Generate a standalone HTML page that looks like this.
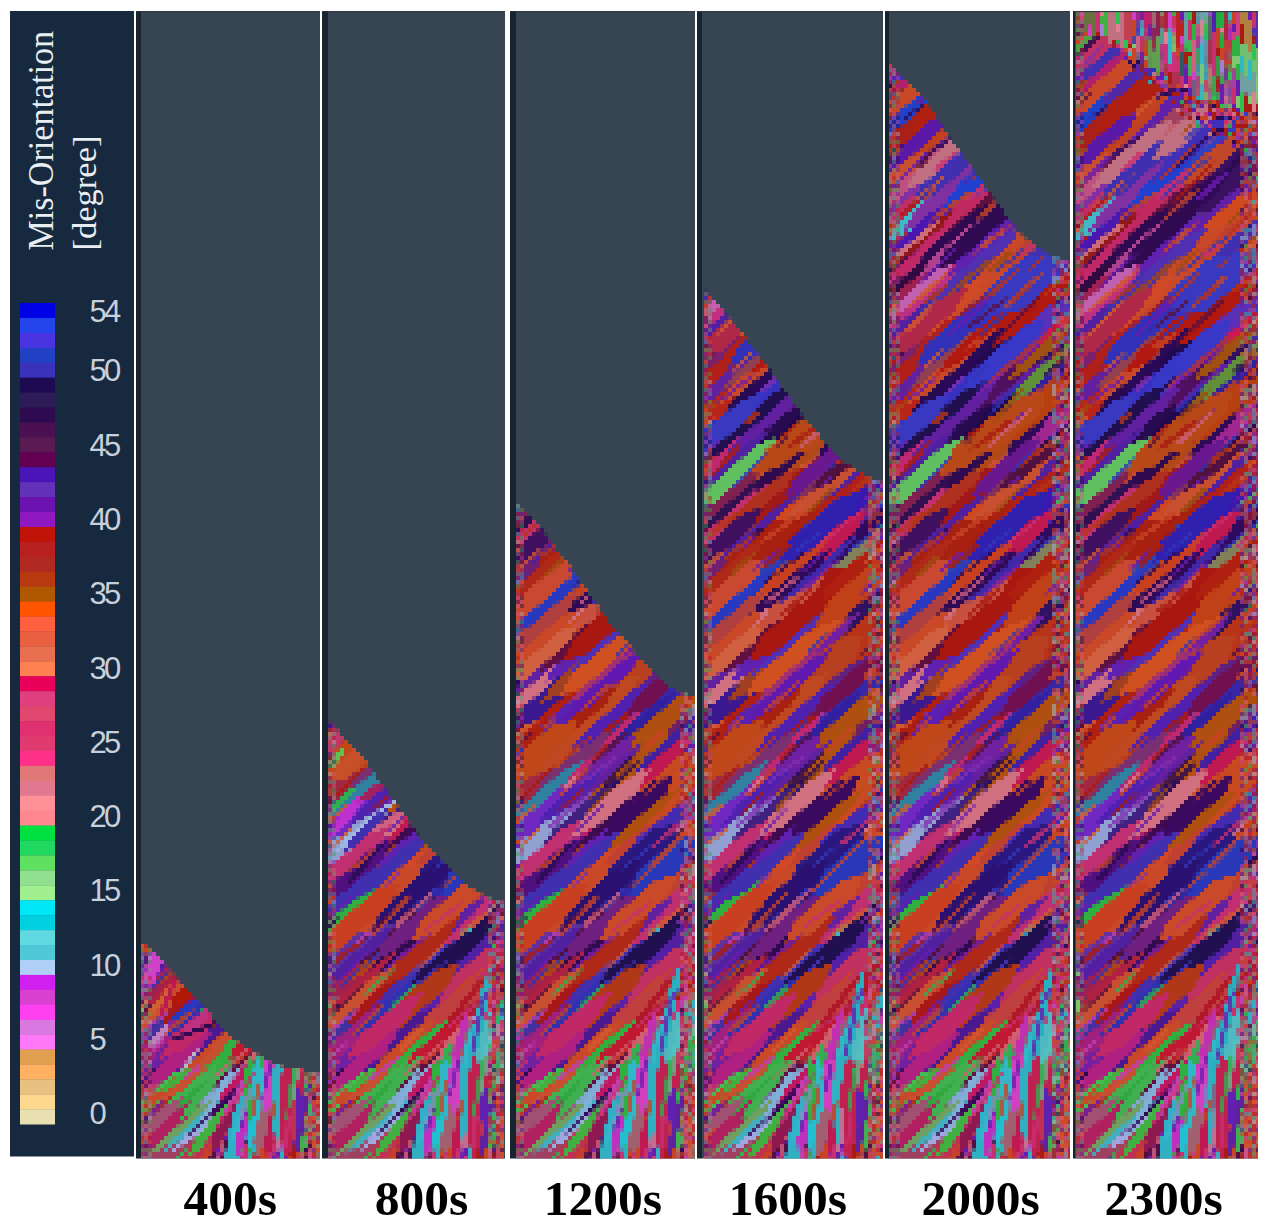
<!DOCTYPE html><html><head><meta charset="utf-8"><style>html,body{margin:0;padding:0;background:#fff;}body{width:1268px;height:1227px;overflow:hidden;position:relative;}.lbl{position:absolute;font-family:"Liberation Serif",serif;font-weight:bold;font-size:49.5px;color:#000;line-height:1;white-space:nowrap;}.tick{position:absolute;font-family:"Liberation Sans",sans-serif;font-size:31px;color:#c8d0dc;line-height:1;letter-spacing:-2.8px;}</style></head><body><svg width="1268" height="1227" viewBox="0 0 1268 1227" style="position:absolute;left:0;top:0"><defs><g id="tex"><rect x="0" y="11" width="185" height="1147.5" fill="#9a3050"/><path fill="#80c870" d="M-28,1032 -7,1017 14,999 31,980 10,994 -11,1013zM19,59 21,42 23,24 23,6 20,23 19,42zM19,25 21,20 22,7 21,3 19,7 18,20zM173,102 175,92 176,65 175,55 174,65 172,92z"/><path fill="#2a0a52" d="M133,690 156,671 181,647 201,625 178,644 153,667zM101,783 109,779 141,748 145,740 138,744 105,775zM-0,1035 8,1030 18,1020 22,1011 14,1016 4,1026zM72,409 83,407 92,399 97,389 87,392 77,400zM-41,268 -17,249 15,220 37,198 13,218 -19,246zM155,903 171,892 236,834 248,818 232,829 167,887zM44,840 65,829 93,808 110,791 89,802 61,823zM185,628 198,622 207,614 216,602 202,608 193,616zM-23,505 -9,498 57,440 66,427 51,434 -14,492zM-37,996 -26,989 9,954 15,944 5,951 -30,986zM156,763 169,754 232,702 242,690 229,698 166,751zM90,333 114,316 167,269 187,248 163,265 110,311zM122,957 138,946 156,928 166,911 149,922 132,940zM137,211 144,210 161,195 164,189 157,191 140,205zM-4,203 10,196 68,139 76,125 61,132 3,188zM-41,173 -31,171 -21,162 -18,153 -27,155 -37,164zM109,618 128,605 145,590 160,573 141,586 124,601zM22,941 32,938 54,918 59,909 49,912 27,932zM101,385 118,373 166,327 178,310 161,322 113,368zM50,888 64,881 114,838 124,826 110,833 60,876zM126,805 139,800 155,785 162,772 149,778 132,793zM100,281 109,278 131,263 136,254 126,257 105,272zM64,784 76,779 106,750 112,738 100,743 69,772zM147,558 159,554 172,543 179,532 167,537 154,547zM22,1062 33,1057 67,1027 74,1018 64,1023 29,1053zM149,554 179,533 208,507 232,480 202,501 173,527zM37,754 54,742 72,727 85,711 68,722 50,738zM18,1066 37,1052 87,1005 102,987 83,1001 33,1048zM106,722 122,711 138,698 150,683 134,694 119,707zM20,542 48,531 84,507 105,485 77,496 41,520zM90,473 114,456 141,434 163,413 139,431 111,453zM7,165 26,154 44,140 59,124 40,135 22,149zM2,759 26,743 66,712 87,693 64,709 23,740zM28,255 39,247 105,192 114,182 103,190 37,244zM-54,998 -37,990 -0,961 12,947 -5,955 -42,984zM77,587 95,576 144,533 158,517 140,528 90,571zM-48,1155 -22,1132 15,1096 38,1070 11,1092 -26,1128zM145,830 158,823 196,792 205,780 191,786 154,817zM-51,709 -36,698 2,653 10,637 -4,647 -43,693zM52,233 64,227 95,197 101,185 89,190 58,220zM7,733 20,727 68,679 75,666 62,672 13,720zM56,155 61,153 82,137 85,132 80,135 59,150zM-34,652 -22,648 -1,631 6,621 -6,625 -27,641zM-29,1144 -8,1129 25,1098 41,1078 19,1093 -13,1123zM9,272 33,257 77,224 99,206 75,221 30,254zM98,658 112,650 143,624 154,612 140,620 109,646zM50,761 73,745 119,706 139,686 116,702 69,741zM-49,1071 -25,1052 5,1024 26,1002 1,1021 -28,1048zM37,873 62,855 111,813 132,791 107,809 59,851zM25,168 37,164 59,145 65,135 54,139 31,157zM104,808 131,792 163,762 181,736 153,753 122,782zM137,418 159,404 182,384 198,364 176,377 153,398z"/><path fill="#3036b8" d="M47,499 58,494 131,435 138,424 127,430 54,489zM174,635 184,633 197,622 203,614 193,616 179,627zM11,602 22,599 38,587 44,577 32,579 16,591zM151,420 177,403 210,373 229,348 203,366 171,396zM12,940 30,928 76,891 91,877 74,889 28,926zM29,810 39,805 99,751 105,742 95,747 35,801zM139,927 169,905 206,875 235,851 204,873 167,902zM76,559 83,555 95,543 98,535 91,538 79,551zM-22,850 -11,845 24,813 30,803 19,808 -16,840zM-38,271 -27,264 35,216 44,207 33,214 -29,262zM117,714 137,700 164,674 179,653 158,668 132,694zM104,870 135,851 178,817 203,791 172,810 130,844zM47,466 56,462 103,417 108,408 98,411 51,457zM-14,443 0,436 46,397 55,385 41,392 -4,430zM74,516 94,505 115,488 131,470 110,481 89,498zM-90,243 -57,221 14,153 38,121 4,143 -67,211zM76,652 90,645 116,627 127,615 112,622 87,640zM176,541 185,539 204,526 209,518 200,520 181,533zM93,517 106,511 144,476 152,463 138,469 100,504zM-28,726 -9,714 11,697 26,681 7,693 -13,709zM60,636 88,615 112,594 135,568 107,589 84,610zM32,574 44,568 74,536 79,523 67,529 37,561zM156,313 166,311 186,295 191,286 181,288 161,304zM58,125 73,116 102,89 113,75 97,84 68,111zM-36,281 -23,275 18,237 25,224 12,230 -30,268zM49,715 65,705 136,648 149,634 132,644 62,701zM-11,402 1,393 37,356 45,343 33,352 -3,389zM93,517 106,513 127,502 138,492 124,496 103,507zM22,1177 39,1163 85,1116 98,1098 81,1112 35,1159zM-52,158 -39,151 8,101 14,88 1,95 -46,144zM128,823 147,809 178,779 194,761 175,776 143,805zM85,630 98,625 141,588 148,576 134,581 92,618zM43,745 54,739 65,730 74,721 63,727 52,736zM128,391 146,380 199,339 214,324 196,335 143,376zM62,235 78,224 142,160 154,144 138,156 74,220zM135,387 144,383 186,337 190,328 181,333 139,378z"/><path fill="#6a1cb0" d="M-53,1057 -33,1046 2,1023 19,1008 -1,1019 -35,1043zM181,25 184,22 184,3 182,0 179,3 179,22zM-42,78 -28,68 23,13 31,-2 17,7 -34,63zM144,257 159,249 178,233 188,219 174,228 155,244zM141,288 153,280 186,252 195,242 183,249 150,277zM-13,309 -5,308 15,294 19,287 11,288 -9,302zM164,794 177,787 196,769 204,757 190,763 171,781zM113,835 127,830 148,813 156,801 143,806 121,823zM197,1026 203,1014 210,971 208,957 202,969 195,1012zM-43,302 -19,286 29,247 49,226 25,242 -23,281zM173,119 175,107 175,90 174,78 172,89 172,107zM-50,720 -40,714 1,678 9,669 -1,675 -43,711zM107,82 110,75 110,53 108,46 106,52 106,75zM117,566 128,561 183,512 188,501 177,505 122,555zM143,839 161,827 224,772 238,755 220,768 157,823zM109,1169 113,1158 116,1111 115,1100 112,1111 108,1157zM118,664 129,656 177,611 185,601 175,608 126,654zM83,866 86,865 105,849 107,845 103,846 84,863zM-1,215 12,205 34,184 43,171 31,181 9,203zM68,251 75,250 104,226 106,219 100,220 70,245zM83,278 96,273 106,266 113,254 100,258 90,266zM2,995 26,976 75,933 97,911 73,930 24,973zM13,286 43,260 75,228 100,198 70,223 38,256zM176,1130 181,1115 189,1056 188,1040 183,1055 175,1115zM51,458 73,442 97,423 117,405 95,420 71,440zM-15,632 2,621 36,595 50,580 33,591 -1,617zM73,597 99,576 143,531 164,505 138,526 94,571zM86,786 136,755 179,718 216,673 166,704 124,741zM37,299 41,297 63,274 64,270 60,271 38,294zM17,582 31,573 43,562 51,548 37,556 25,568zM141,829 152,823 164,812 171,802 160,808 148,819zM25,1152 36,1146 76,1108 83,1097 71,1103 31,1140zM112,39 116,32 117,14 115,6 112,13 110,31zM-1,927 6,925 33,900 36,893 28,895 1,920zM-40,888 -26,879 7,846 17,833 3,842 -31,874zM-21,295 -8,291 20,265 26,254 14,258 -15,284zM66,519 81,509 110,479 120,464 105,474 76,504zM61,25 63,20 62,4 60,-1 58,4 59,20zM-11,892 -2,887 5,880 11,872 2,877 -5,884zM78,1148 84,1142 94,1115 93,1106 87,1112 77,1140zM132,731 146,722 159,706 166,690 152,699 138,715zM-29,811 -22,810 -2,791 0,784 -7,785 -27,804zM114,1218 123,1188 132,1151 137,1120 129,1150 120,1187zM-22,362 -3,348 23,323 37,304 17,317 -9,342zM-58,479 -33,464 -7,444 15,424 -10,439 -37,459zM47,349 52,347 77,325 79,320 74,322 49,344zM-47,428 -31,417 -14,402 -1,388 -17,399 -34,413zM-51,689 -36,678 27,618 40,604 25,616 -38,675zM-61,523 -29,496 -1,470 28,440 -5,467 -32,492zM-31,1032 -21,1025 -6,1012 1,1003 -8,1010 -23,1023zM5,274 19,266 83,215 94,203 80,211 16,262zM3,625 22,614 49,591 62,573 42,584 16,607zM177,940 184,935 200,919 205,912 198,917 182,932zM17,570 27,563 37,554 45,543 34,550 24,560zM45,184 65,170 109,126 124,106 104,121 59,164zM92,902 110,887 140,858 155,840 137,856 108,884zM149,982 156,979 173,960 176,954 170,957 152,976zM144,610 157,602 169,592 178,580 165,587 153,597zM3,580 41,553 87,514 120,480 81,507 35,546zM-58,697 -28,676 7,643 30,615 1,637 -35,670zM187,99 188,88 188,63 187,52 186,63 186,88zM9,1089 20,1085 32,1075 38,1065 27,1069 15,1079zM-32,1082 -6,1062 28,1032 51,1008 24,1028 -9,1058zM-38,974 -28,969 -18,960 -12,950 -22,955 -32,964zM-28,92 -12,83 33,49 46,35 29,44 -16,78zM99,951 118,939 152,907 165,889 146,900 111,932zM33,899 53,883 91,848 108,829 88,845 50,881zM97,838 108,832 141,801 148,791 137,797 104,828zM-45,886 -18,865 52,795 73,768 46,789 -24,859zM144,726 157,719 176,703 186,693 174,701 155,716zM148,514 162,506 212,465 221,452 207,459 158,501zM154,476 173,460 223,410 238,391 219,406 170,456zM114,712 125,706 152,680 159,670 149,676 121,702zM110,64 114,49 115,32 113,17 109,32 108,48zM-27,432 -12,424 14,398 21,384 7,391 -20,417zM136,314 166,294 206,261 232,235 202,255 162,288zM8,9 10,1 12,-7 12,-15 9,-7 8,0zM138,126 142,110 143,90 141,74 138,90 137,110zM-45,187 -21,171 1,149 18,126 -5,143 -27,164zM91,737 100,736 131,705 133,697 124,698 93,729zM73,692 81,689 117,657 122,650 114,653 77,684zM57,749 66,745 104,717 111,709 102,713 64,741zM111,1224 121,1198 138,1126 141,1098 132,1124 114,1197zM166,740 181,731 201,712 210,697 194,706 175,725zM125,352 142,340 192,288 204,270 186,282 136,334zM168,286 184,279 215,251 224,236 208,243 177,271zM9,982 30,966 69,923 83,900 62,916 23,960zM174,306 184,300 201,283 208,273 197,279 180,296zM-61,972 -46,965 12,924 23,911 7,917 -50,959zM123,1198 130,1182 143,1114 142,1096 136,1113 123,1180z"/><path fill="#a81a12" d="M-26,348 -5,338 32,307 45,288 24,298 -13,329zM123,195 144,187 162,171 173,151 153,160 134,176zM-20,385 -10,377 42,324 50,314 40,322 -12,375zM130,825 156,814 210,780 231,761 205,772 151,806zM10,203 40,187 73,164 99,142 69,158 36,181zM117,712 124,709 140,692 144,686 137,689 120,705zM-12,1131 3,1124 22,1107 32,1093 17,1101 -2,1117zM-11,102 7,88 41,56 55,38 37,51 3,84zM153,792 190,767 220,741 252,709 214,735 184,760zM160,853 166,849 193,821 197,815 191,819 164,847zM3,621 43,596 89,563 125,533 85,558 39,591zM-3,1115 6,1109 60,1053 65,1044 56,1050 2,1105zM63,622 80,611 133,566 147,551 130,562 77,607zM168,607 189,589 218,559 236,537 215,556 186,586zM148,1070 153,1057 171,1001 173,987 167,1000 150,1056zM-35,808 -24,801 -2,780 4,769 -6,776 -28,797zM85,487 112,475 158,445 179,424 152,436 106,467zM124,1109 128,1096 136,1044 136,1031 132,1044 124,1096zM134,213 143,212 163,197 167,188 157,189 138,204zM-53,401 -40,394 25,340 34,329 21,336 -43,390zM49,572 67,562 92,543 107,528 88,539 64,557zM152,717 177,697 221,658 243,636 218,655 174,694zM127,856 153,839 182,817 204,796 178,812 149,834zM179,117 180,105 178,74 176,63 175,74 176,106zM47,734 54,734 69,719 69,713 63,713 48,728zM13,887 39,870 64,848 84,824 57,841 33,863zM181,1045 191,1025 197,1000 199,978 190,998 183,1023zM96,771 105,764 134,737 140,728 131,734 102,761zM175,1127 179,1115 192,1061 194,1048 189,1061 176,1114zM2,696 18,686 32,671 42,654 25,664 11,679zM200,63 204,53 205,29 202,18 199,29 198,52zM-0,66 10,60 35,38 42,29 32,34 6,56zM61,1116 74,1108 105,1078 114,1065 101,1073 70,1103zM-43,1126 -31,1121 2,1092 8,1081 -3,1086 -37,1115zM-70,520 -41,500 -9,472 14,446 -15,465 -47,494zM-43,383 -25,374 20,339 33,324 15,332 -31,367zM199,1139 203,1130 209,1100 208,1090 204,1099 198,1129zM168,608 193,594 216,576 235,556 211,570 188,588zM167,866 176,861 204,832 209,823 200,828 172,857zM80,888 95,876 155,818 168,803 153,815 92,874zM-1,145 16,134 36,115 48,98 31,109 11,128zM28,160 56,143 94,111 114,86 87,102 49,135zM-8,1094 3,1088 11,1081 19,1071 8,1077 -0,1084zM-44,904 -32,904 5,875 9,864 -3,865 -40,894zM119,506 129,505 152,484 153,473 143,473 120,495zM124,72 126,65 127,26 125,18 123,26 122,65zM100,778 129,761 153,742 177,718 147,735 124,754zM-45,95 -39,93 -13,69 -9,64 -15,67 -42,90zM-36,182 -12,169 35,134 55,115 31,127 -17,163zM-38,786 -27,782 5,757 11,747 0,750 -32,776zM-8,349 6,339 73,277 84,264 70,274 3,336zM89,609 100,605 121,587 125,576 115,580 94,598zM129,890 150,875 205,823 221,802 200,817 145,870zM-26,450 -14,446 28,412 34,401 22,405 -20,439zM105,934 118,926 132,914 143,902 130,910 115,923zM34,151 59,133 105,95 127,73 102,91 56,130zM-18,882 10,862 37,840 62,816 34,835 6,858zM49,93 66,85 95,62 107,48 90,57 62,79zM101,447 125,431 157,401 175,379 151,395 119,425zM118,1006 139,990 169,962 186,941 165,958 135,986zM125,971 134,970 153,952 155,944 146,945 127,963zM-41,741 -23,733 19,701 32,686 14,694 -28,725zM68,954 77,952 119,924 125,917 116,919 73,947zM157,321 189,300 219,272 242,241 210,262 180,290zM58,1166 66,1159 75,1135 75,1125 67,1132 58,1156zM140,1156 149,1132 154,1107 156,1082 148,1106 143,1131zM109,26 112,23 112,7 109,5 106,7 106,23zM68,580 76,574 102,544 107,535 99,540 72,571z"/><path fill="#501040" d="M190,1069 196,1060 206,1021 205,1010 199,1019 189,1058zM176,1044 182,1027 186,1009 189,992 183,1008 179,1027zM150,1107 158,1079 166,1031 167,1003 159,1030 151,1078z"/><path fill="#c84424" d="M28,1205 50,1172 72,1136 90,1101 68,1134 46,1170zM27,428 48,414 82,384 99,366 78,380 44,409zM91,15 95,3 98,-19 97,-31 94,-19 91,3zM32,866 54,848 74,831 94,811 71,828 52,846zM79,1080 90,1074 106,1060 113,1050 102,1056 86,1070zM-37,400 -19,388 12,358 25,341 8,354 -24,383zM147,541 166,528 217,479 231,461 213,475 161,524zM132,825 154,813 188,784 201,763 180,775 146,804zM54,1062 68,1054 90,1034 99,1021 85,1029 63,1049zM32,142 51,132 82,107 96,91 77,101 46,126zM38,99 63,85 88,66 108,44 83,58 58,78zM-32,1187 -15,1178 19,1149 31,1133 13,1142 -20,1171zM111,520 127,508 192,450 206,435 190,447 125,505zM-23,1105 1,1089 33,1065 54,1047 31,1063 -1,1087zM50,13 51,5 51,-13 49,-21 47,-13 48,5zM-13,838 1,831 11,822 19,808 5,815 -6,824zM-54,618 -43,614 15,555 20,544 9,549 -50,607zM-1,1054 28,1035 54,1016 80,993 51,1012 25,1031zM149,1225 155,1205 172,1132 175,1111 169,1131 152,1204zM-37,1126 -11,1111 30,1077 49,1055 24,1070 -17,1104zM-11,257 6,244 28,224 42,208 25,220 2,241zM-47,330 -35,322 7,284 16,273 4,281 -38,319zM64,201 82,188 97,173 108,155 91,167 76,183zM79,683 101,667 148,623 166,601 143,617 96,662zM139,842 169,820 219,774 243,746 213,767 163,814zM-43,1102 -28,1094 5,1066 16,1053 1,1062 -31,1089zM38,459 69,442 118,407 144,383 113,400 64,435zM47,960 56,956 84,935 91,927 82,931 54,952zM-62,960 -38,943 1,908 19,886 -4,902 -43,938zM15,1215 34,1190 68,1134 82,1107 64,1132 29,1187zM34,440 54,426 72,409 87,389 67,404 50,421zM101,462 113,456 139,436 147,426 136,432 109,452zM26,553 39,546 74,518 84,506 70,513 36,541zM-8,768 12,749 31,729 49,707 28,727 10,746zM54,536 63,531 71,525 77,516 68,521 60,528zM-9,748 3,739 52,694 62,682 49,691 0,736zM125,512 152,490 175,467 195,438 168,460 146,484zM72,802 95,787 134,753 151,732 128,746 89,781zM21,889 39,880 94,831 105,814 87,823 32,872zM91,940 104,932 177,875 187,864 174,871 101,929zM133,466 146,457 183,424 194,413 181,422 144,455zM7,67 20,60 46,38 55,26 42,33 16,55zM34,717 62,694 99,660 125,634 97,658 60,691zM94,179 132,149 176,101 203,61 166,92 121,140zM-21,511 15,488 66,439 91,404 55,427 3,476zM7,791 28,784 77,746 90,728 69,735 20,773zM99,218 108,216 144,184 148,176 139,178 103,209zM6,568 11,567 33,547 35,542 30,544 8,563zM-13,278 -2,278 25,257 28,246 17,247 -10,267zM100,291 111,291 153,253 155,243 145,243 102,281zM201,135 204,117 205,92 203,75 200,92 199,117zM129,934 160,910 193,877 217,847 187,871 153,904zM161,547 186,531 213,508 233,486 208,501 181,524zM-16,675 -10,673 18,650 21,644 15,645 -14,669zM-5,925 29,897 66,862 95,829 61,857 24,893zM184,1090 187,1085 190,1060 188,1054 185,1059 182,1085zM79,464 96,457 129,431 140,417 123,424 90,450zM18,224 25,222 60,194 62,187 55,188 20,217zM34,1063 46,1054 59,1041 69,1029 56,1039 44,1051zM-9,302 19,287 51,265 75,245 47,260 16,281zM57,175 68,169 121,122 129,113 119,119 65,166zM18,44 21,34 21,6 19,-4 16,6 16,34zM153,1116 157,1100 160,1078 160,1061 155,1077 152,1099zM-47,968 -28,957 -15,946 -3,929 -21,939 -34,951zM12,413 40,392 83,354 106,328 78,349 35,387zM57,1006 72,997 136,939 147,926 133,935 68,993zM-57,904 -33,891 -13,876 6,856 -19,869 -39,884zM164,725 182,716 205,699 219,684 201,693 178,710zM76,616 88,610 153,542 159,530 147,537 82,604zM106,977 117,972 140,949 145,937 134,942 111,965zM-15,882 -8,882 21,856 22,848 15,849 -14,875zM16,1016 26,1012 63,985 70,977 60,981 23,1007zM-36,397 -13,382 32,343 49,322 27,337 -19,376zM-20,248 -10,252 18,227 15,218 6,214 -22,238zM-17,132 16,106 44,81 74,51 41,77 13,102zM-1,1124 16,1115 66,1079 80,1064 62,1073 12,1110zM125,408 142,398 187,363 201,349 184,359 139,394zM58,994 88,979 132,951 157,929 127,943 84,972zM75,403 95,393 142,356 157,339 136,349 90,386zM162,1217 167,1203 179,1140 180,1126 176,1140 164,1203zM9,677 18,674 42,651 46,643 38,646 13,669zM-28,71 -21,69 1,48 3,42 -3,44 -25,65zM152,384 165,377 189,357 199,345 186,353 161,373zM102,1172 110,1137 117,1062 116,1025 108,1061 101,1136zM-13,106 6,97 24,82 36,65 18,75 -0,90zM103,139 114,131 122,122 129,111 119,119 111,128zM-40,771 -22,757 -2,738 13,721 -4,735 -25,754zM-11,746 3,741 46,708 55,696 41,701 -2,734zM139,270 168,250 195,226 219,199 189,220 163,243zM113,1214 118,1203 141,1126 143,1114 138,1125 115,1202zM1,749 15,741 56,701 64,688 51,696 10,736zM38,327 54,313 75,288 88,271 72,285 50,310zM138,763 159,746 174,729 188,706 167,723 152,740z"/><path fill="#30b050" d="M149,1190 152,1186 158,1156 156,1150 152,1155 147,1185zM175,955 184,949 191,940 196,931 187,937 180,946zM87,1090 98,1081 126,1046 133,1033 122,1042 94,1077zM76,954 83,951 100,937 104,930 97,933 80,947zM-70,1072 -49,1061 11,1010 25,992 5,1003 -55,1054zM101,1057 123,1038 155,1004 173,981 151,1000 119,1034zM187,1192 195,1164 203,1128 208,1099 200,1127 192,1163zM80,1079 86,1079 104,1064 106,1059 100,1059 82,1073zM-3,1082 26,1064 60,1038 84,1014 55,1032 21,1058z"/><path fill="#c83070" d="M72,1056 81,1054 105,1036 108,1028 99,1029 76,1048zM127,105 131,101 133,91 131,85 127,90 125,100zM17,460 32,452 71,418 81,404 67,412 27,446zM-43,1118 -25,1103 -5,1082 8,1061 -11,1076 -30,1098zM-52,636 -31,620 23,574 42,556 21,572 -33,618zM123,601 132,597 147,586 153,578 144,582 129,594zM39,910 51,906 105,864 113,854 101,859 47,900zM163,118 165,114 165,81 163,76 160,81 160,114zM40,1000 48,1000 65,988 68,981 61,981 43,994zM-7,816 11,804 27,788 38,770 20,782 4,798zM104,1095 109,1089 117,1073 118,1065 112,1071 105,1086zM182,1069 189,1045 198,999 201,974 195,999 186,1044zM188,1073 193,1053 207,981 209,960 203,980 190,1052zM107,78 109,73 110,52 109,46 107,51 107,73zM166,1143 176,1116 195,1055 202,1027 191,1054 173,1115zM88,0 89,-3 90,-14 89,-18 88,-14 87,-4zM133,1176 139,1159 146,1129 148,1111 141,1128 134,1158zM142,1179 145,1175 152,1151 151,1147 148,1150 141,1174zM132,346 147,339 180,315 191,302 175,309 143,333zM56,17 58,11 57,2 54,-3 53,3 53,11zM184,1127 186,1119 196,1062 196,1053 194,1061 184,1119zM105,486 113,481 154,438 158,430 151,434 109,478zM-6,1164 22,1145 108,1067 131,1041 103,1061 16,1138zM185,1011 191,1000 196,983 196,971 190,981 185,999zM169,1068 174,1055 181,1022 182,1008 177,1021 170,1054zM46,1076 62,1065 113,1018 125,1003 109,1014 58,1061zM-31,1186 -13,1172 12,1150 27,1133 9,1147 -16,1169zM15,889 37,876 70,849 87,831 66,845 33,871zM140,18 141,2 140,-17 138,-33 136,-17 137,2zM110,628 126,620 159,594 170,580 154,588 121,614zM113,389 130,379 190,323 201,307 185,317 124,373zM23,949 46,932 70,910 89,889 66,906 42,928zM173,1024 184,1010 195,967 193,949 182,964 171,1006zM179,1204 186,1180 190,1149 191,1125 184,1148 179,1179zM58,997 71,989 87,976 96,965 84,973 68,986zM14,1015 27,1008 65,970 71,957 59,964 21,1003zM185,1204 191,1183 201,1122 201,1101 195,1121 185,1182zM50,325 67,312 82,300 97,285 80,297 65,310zM146,116 147,107 147,72 146,63 145,72 145,107zM153,64 155,51 156,36 156,22 154,35 153,51zM14,417 26,410 36,401 44,390 31,396 21,405zM25,537 54,517 79,496 105,472 76,492 51,513z"/><path fill="#a0a8e0" d="M-15,1125 4,1112 64,1060 81,1043 62,1057 2,1109zM97,988 116,978 165,938 177,922 158,931 110,971zM55,953 62,949 90,924 95,917 87,921 60,946zM83,1044 109,1032 136,1016 159,999 133,1011 106,1027z"/><path fill="#b83418" d="M51,916 67,906 110,867 120,852 105,862 62,901zM76,435 97,421 123,401 141,385 121,398 95,418zM79,332 92,329 143,283 147,271 133,273 83,319zM170,418 187,405 222,371 236,354 219,367 184,401zM149,946 176,931 199,914 221,893 194,907 171,924zM119,638 137,630 180,583 187,565 169,573 126,620zM79,208 108,186 141,158 167,133 138,155 106,183zM62,458 71,455 85,442 90,435 82,438 67,451zM20,152 29,148 42,134 46,126 38,130 25,144zM55,732 69,723 136,662 146,649 133,658 65,719zM137,497 144,497 160,483 161,476 155,476 139,491zM-17,816 -5,807 46,751 55,739 43,749 -8,804zM73,134 94,119 121,96 139,78 118,93 91,115zM-13,317 -3,313 11,302 17,294 7,297 -7,308zM123,760 130,761 162,736 163,729 156,729 124,753zM15,925 39,903 66,872 84,845 60,867 33,898zM-39,253 -26,245 30,189 38,177 26,185 -30,241zM139,332 152,325 213,274 222,262 209,269 148,320zM55,393 74,381 101,359 117,343 98,356 71,377zM-7,215 8,203 29,181 40,166 25,178 5,200zM46,494 54,491 65,480 67,472 59,474 48,486zM21,696 31,694 60,668 63,659 53,661 25,687z"/><path fill="#d25a30" d="M93,502 105,497 164,453 172,442 159,447 101,492zM90,395 103,388 135,358 143,345 130,352 97,382zM182,860 194,854 204,847 214,837 202,843 192,851zM70,217 83,210 100,196 109,184 96,191 79,206zM-25,1030 -17,1027 9,1006 14,998 5,1001 -21,1022zM166,257 189,239 211,219 231,198 208,216 187,236zM155,561 170,553 231,510 243,499 228,507 168,549zM52,490 66,481 105,449 116,436 102,445 63,477zM-63,559 -49,551 4,500 12,486 -2,494 -55,544zM113,891 137,871 179,827 199,802 175,823 133,867zM-45,797 -31,791 -19,781 -10,768 -25,775 -36,784zM-15,174 -1,166 10,158 20,146 7,154 -4,163zM113,829 145,805 173,780 200,752 169,775 140,800zM83,757 95,752 130,724 137,712 124,717 90,745zM4,191 18,183 60,152 72,140 57,149 16,180zM10,605 32,588 61,557 77,534 55,551 26,582zM162,821 177,816 195,803 205,790 190,796 172,808zM60,214 72,205 84,192 93,180 81,190 69,202zM-28,696 -17,690 0,674 8,664 -3,670 -21,686zM34,668 45,665 89,630 94,620 84,623 40,658zM-21,989 -11,986 -1,977 2,967 -8,970 -18,979zM-1,1187 14,1179 37,1161 47,1147 32,1155 10,1174zM9,589 16,585 42,564 47,558 40,561 14,583zM-8,211 2,206 49,165 55,155 44,160 -2,201zM-50,249 -38,245 1,216 8,205 -5,209 -43,239zM32,658 40,657 55,643 57,635 49,636 34,649zM-40,249 -33,249 -14,232 -14,225 -21,225 -40,242zM-62,882 -37,863 1,829 24,807 -1,827 -39,860zM126,361 142,352 159,336 170,320 154,330 137,346zM34,1081 47,1073 73,1049 82,1037 69,1045 43,1068zM162,463 180,453 212,423 223,406 205,416 174,446zM180,266 192,259 213,239 221,229 210,236 189,256zM95,966 100,964 124,944 126,939 122,941 98,962zM-26,960 -12,952 1,939 8,924 -6,932 -19,945zM135,749 158,731 207,680 224,657 201,674 152,725zM-14,407 -2,405 28,381 33,371 22,373 -9,397z"/><path fill="#30b0c0" d="M94,1232 100,1221 117,1139 117,1127 111,1138 93,1220zM-34,1012 -21,1002 10,972 20,960 7,970 -24,1000zM174,1157 182,1132 195,1081 199,1054 190,1080 178,1131zM29,1059 47,1050 67,1029 74,1010 56,1018 36,1040zM174,1180 178,1170 184,1138 185,1127 181,1138 174,1169zM118,971 133,963 151,949 162,936 147,944 130,958zM162,1116 168,1096 175,1049 176,1028 170,1048 162,1095z"/><path fill="#8030b0" d="M46,533 53,531 72,509 74,502 67,504 47,526zM103,566 115,558 160,518 169,508 157,515 112,555zM-25,483 -9,473 4,461 14,446 -2,456 -14,467zM-33,911 -6,893 21,871 43,848 16,866 -10,888zM45,146 51,145 74,125 75,120 70,121 47,141zM-8,636 17,618 52,588 73,567 49,584 13,614zM137,487 161,464 191,429 211,401 187,425 157,460zM78,266 105,249 127,231 149,209 122,225 100,243zM40,601 54,595 67,586 75,573 62,579 49,589zM-38,939 -29,937 16,904 20,895 10,897 -34,930zM138,825 154,819 189,795 201,782 185,788 150,813zM-28,252 -23,250 -5,228 -4,222 -10,224 -27,247zM-56,301 -25,280 7,254 33,229 3,249 -29,275zM161,915 170,913 216,875 220,866 211,868 165,906zM73,560 94,544 116,524 135,505 113,521 92,540zM-35,791 -7,773 42,734 66,710 37,728 -12,767zM-36,740 -17,725 3,708 20,690 0,704 -20,722zM170,452 177,450 196,431 199,424 192,427 173,445z"/><path fill="#40b060" d="M133,805 148,798 159,789 167,775 152,782 142,791zM-21,567 -12,562 30,527 36,519 27,524 -15,559zM-9,259 3,252 17,240 26,228 13,236 -0,248zM98,445 110,438 159,398 168,389 157,395 107,435zM74,401 92,394 136,363 148,348 130,355 87,387z"/><path fill="#a04a10" d="M-52,854 -32,844 36,798 52,783 32,792 -36,838zM-36,819 -26,816 32,776 38,768 28,771 -29,811zM171,920 182,917 203,902 209,892 198,895 177,910zM6,791 15,788 36,771 40,762 31,765 10,782zM-48,464 -26,454 3,426 14,404 -8,415 -37,443zM159,641 171,633 197,608 205,596 192,604 167,628zM138,523 154,514 216,455 226,439 210,448 148,508zM-48,102 -34,94 34,41 45,29 31,37 -37,90zM-13,357 -4,353 13,338 18,329 9,333 -8,348zM28,751 36,745 76,709 82,701 74,706 34,743zM98,280 118,263 146,237 164,218 144,235 116,261zM118,276 149,254 180,224 206,195 175,218 143,247zM-71,664 -38,644 -11,624 16,597 -17,616 -43,637z"/><path fill="#30c050" d="M129,49 131,40 130,16 128,7 126,16 127,41zM48,27 49,23 50,4 49,0 47,4 46,23zM32,52 34,47 34,32 32,28 31,32 30,47zM197,95 200,93 200,83 197,80 195,83 195,93zM-9,5 -7,3 -6,-11 -9,-13 -11,-11 -12,3z"/><path fill="#c040b0" d="M78,1146 84,1138 90,1123 91,1113 85,1121 79,1136zM185,1030 194,1010 199,982 200,960 192,981 186,1008zM160,1089 167,1066 176,1017 177,993 170,1016 161,1065zM191,1210 195,1192 198,1169 198,1151 194,1169 191,1192zM103,1099 107,1095 122,1068 123,1062 119,1067 104,1093zM123,1130 127,1121 139,1065 139,1054 135,1064 123,1120zM173,1132 176,1121 192,1041 193,1030 190,1041 174,1121z"/><path fill="#5a1040" d="M24,172 40,164 54,152 65,138 50,147 35,159zM8,1099 42,1081 75,1058 105,1032 71,1051 37,1074zM-26,433 -2,413 44,371 66,348 42,367 -5,410zM45,883 70,863 148,788 169,764 144,783 65,859zM-3,508 19,494 64,462 84,445 62,459 18,492zM22,420 29,420 45,408 48,402 41,402 25,414zM74,231 89,223 115,201 126,188 111,196 84,218zM9,954 23,947 52,920 62,908 48,915 18,941zM106,679 114,675 161,629 165,622 158,626 111,672zM8,1074 27,1061 68,1028 85,1012 66,1025 25,1058zM75,718 87,712 97,704 105,693 93,699 83,707z"/><path fill="#40b0c0" d="M66,583 72,583 93,562 93,556 87,556 66,577zM43,944 56,936 84,910 93,899 81,906 52,932zM-21,936 -7,928 33,890 42,876 28,884 -13,922zM61,627 104,596 141,564 177,525 134,556 97,588z"/><path fill="#30b8c8" d="M4,50 7,33 6,11 3,-7 0,11 1,33zM56,74 60,56 62,36 61,17 56,35 54,55zM133,69 134,56 132,35 129,22 128,36 130,56zM-27,52 -24,42 -23,8 -25,-2 -28,8 -29,42z"/><path fill="#d06070" d="M167,1121 180,1090 191,1050 197,1016 184,1048 173,1088zM138,1181 144,1168 163,1072 162,1058 155,1071 136,1167zM109,1182 118,1160 128,1121 130,1098 121,1120 112,1158zM13,1067 39,1048 71,1017 91,993 66,1011 33,1042z"/><path fill="#a080d0" d="M105,5 107,-1 108,-14 107,-20 106,-14 104,-1z"/><path fill="#d06080" d="M105,465 117,459 163,411 169,399 157,406 111,453zM154,543 166,535 199,507 209,496 196,504 163,532zM140,599 154,592 216,538 225,526 211,533 149,586zM137,756 154,747 183,720 193,705 177,714 148,741zM89,712 119,689 153,659 179,633 149,656 116,685zM-51,361 -42,358 -7,325 -4,316 -13,319 -48,352zM105,297 113,295 154,260 158,252 150,255 109,289z"/><path fill="#e08090" d="M86,99 88,91 87,49 85,42 82,50 83,91zM105,638 116,635 146,613 152,603 140,606 111,628zM40,556 65,543 111,507 131,487 106,500 60,536z"/><path fill="#d040c8" d="M129,62 132,58 134,47 132,42 129,46 127,58z"/><path fill="#8090c0" d="M191,1073 197,1057 205,1026 208,1009 202,1025 193,1056z"/><path fill="#c040b0" d="M-66,1026 -47,1021 10,976 20,958 0,963 -57,1008zM27,1099 44,1093 86,1066 98,1052 81,1058 39,1085zM163,1178 172,1142 177,1106 179,1069 170,1105 165,1141zM25,1035 31,1034 53,1016 55,1010 49,1011 27,1029zM154,1114 161,1085 165,1057 166,1026 159,1056 155,1084zM159,1123 165,1111 175,1060 175,1046 169,1059 159,1110zM44,1152 56,1139 76,1115 86,1101 73,1113 54,1137zM140,1180 145,1173 157,1134 157,1125 151,1132 140,1171zM138,1169 145,1155 155,1111 155,1096 148,1109 138,1154zM113,1062 128,1040 147,1008 160,985 145,1007 126,1038zM85,1118 94,1109 124,1058 128,1047 120,1056 90,1106zM83,1014 130,982 168,950 205,907 158,939 121,971zM166,1056 173,1022 177,982 178,947 171,982 166,1021z"/><path fill="#a81a12" d="M20,878 34,872 68,845 76,832 62,838 29,865zM12,1078 27,1070 79,1030 90,1017 75,1025 23,1065zM104,58 107,52 108,35 106,28 103,35 102,51zM133,458 147,450 171,429 181,416 167,424 143,445zM164,662 177,652 217,609 227,596 214,606 174,649zM-22,260 -2,251 52,214 68,199 49,209 -6,246zM-43,956 -23,945 40,902 57,887 37,897 -26,941zM23,782 54,763 78,744 104,718 73,737 48,756zM161,458 180,442 227,397 243,379 223,394 177,439zM117,1162 121,1153 134,1110 135,1100 131,1109 119,1153zM24,303 32,300 46,289 50,283 43,286 29,297zM93,700 112,686 141,656 154,637 136,651 107,681zM6,948 18,943 44,916 50,903 37,909 11,936zM160,127 161,117 161,89 160,78 159,89 158,117zM152,150 167,143 205,112 214,98 199,105 161,136zM-4,957 31,936 61,913 91,884 56,906 26,929zM159,192 175,182 215,144 226,129 210,139 170,176zM40,1070 66,1053 103,1024 126,1003 100,1021 63,1050zM-56,1157 -37,1145 -14,1124 1,1107 -18,1119 -42,1140zM159,1006 172,987 207,930 218,910 204,929 169,985zM-48,768 -20,747 5,723 29,696 -0,718 -25,741zM-16,787 -1,780 67,730 77,717 62,723 -6,774zM-5,581 3,578 35,551 39,544 32,547 -0,574zM-27,809 -22,809 -4,790 -4,785 -9,785 -27,804zM89,403 104,395 118,385 129,372 114,380 101,391zM180,975 193,962 213,936 223,921 210,933 190,960zM169,699 192,689 211,671 223,650 200,659 180,677zM116,453 124,450 160,423 164,416 156,418 120,446zM101,169 113,163 127,151 135,139 123,146 109,158zM81,1102 90,1093 99,1080 105,1069 97,1078 87,1091zM30,134 44,128 54,118 61,105 47,111 37,121zM116,1106 120,1097 127,1058 127,1048 123,1058 116,1096zM66,935 81,922 117,886 130,871 115,883 78,920zM-47,630 -15,609 26,577 55,551 22,572 -18,604zM58,910 71,902 87,891 98,881 85,888 69,900zM145,661 158,662 199,628 201,615 188,614 147,648zM24,325 42,312 103,255 118,238 100,250 38,308zM176,145 181,143 206,125 210,120 204,122 179,141zM5,1124 15,1120 28,1107 33,1098 23,1101 10,1114zM28,1226 40,1202 64,1149 74,1124 62,1148 38,1201zM121,174 131,166 168,129 175,119 165,126 128,163zM64,754 87,741 135,703 152,683 129,695 81,734zM-31,645 -10,634 9,621 25,604 4,614 -15,627zM-2,576 10,568 29,548 38,536 26,545 7,565zM80,741 113,720 141,696 168,666 135,688 107,712zM65,1206 70,1185 75,1161 77,1140 72,1161 67,1185zM93,550 101,546 117,532 122,524 113,528 98,542zM33,600 47,592 70,570 78,556 64,564 41,586zM127,249 157,228 189,198 212,170 183,191 150,221zM62,860 69,858 87,844 90,837 83,839 65,853zM203,66 205,61 205,28 203,23 201,28 200,61zM105,151 114,148 126,137 130,128 121,131 108,142zM88,21 89,17 90,8 89,4 87,8 87,17zM159,1052 165,1035 172,1010 174,992 168,1009 162,1035zM28,378 40,372 76,334 82,323 71,329 34,366zM61,393 112,354 153,317 195,269 144,308 104,345zM48,571 76,546 113,512 140,485 111,509 74,544zM8,978 32,965 87,921 105,902 82,915 26,958zM194,1158 198,1150 206,1116 207,1107 204,1115 195,1149zM-35,379 -19,371 43,326 56,313 40,321 -22,366zM-1,303 6,303 24,292 27,286 20,287 3,298zM62,329 90,310 121,281 143,255 115,274 84,303zM152,437 160,436 177,425 180,417 171,417 155,429zM100,862 112,857 123,848 131,838 118,843 108,851zM56,636 71,625 115,586 127,571 112,583 69,622zM140,591 155,590 174,574 178,559 163,560 144,576zM-9,429 17,417 69,383 90,365 65,377 13,411zM-18,1051 -5,1048 68,984 73,971 60,975 -13,1038zM-19,22 -17,5 -17,-15 -20,-31 -22,-15 -21,5zM21,279 33,272 48,260 57,250 46,257 30,269zM26,973 41,963 99,915 111,901 96,911 38,959zM12,1069 19,1067 42,1044 44,1037 38,1040 15,1063zM-52,182 -18,156 9,130 38,98 4,124 -24,150zM-15,401 -10,400 13,382 15,377 10,378 -13,396zM-91,201 -53,181 19,129 48,99 11,118 -61,171zM186,68 188,64 188,47 186,43 184,47 184,64zM-0,1 1,-3 2,-12 1,-16 -0,-12 -1,-3zM15,207 28,203 52,184 59,173 47,178 23,196zM40,20 41,15 44,-21 43,-26 41,-21 39,15zM138,1205 144,1197 155,1147 153,1136 147,1145 135,1195zM20,117 37,109 50,98 60,82 43,90 30,102z"/><path fill="#2a0a52" d="M63,506 93,484 132,447 156,419 126,441 87,477zM40,693 49,686 71,665 78,656 69,663 47,684zM38,605 51,597 79,574 90,563 77,571 49,593zM37,888 45,884 79,855 84,848 76,852 42,881zM111,127 127,123 155,106 165,94 150,97 121,115zM61,895 78,884 93,871 105,854 87,864 72,878zM69,228 90,213 117,183 130,160 110,176 83,206zM162,430 180,420 225,380 237,363 219,373 174,413zM-8,275 3,268 27,241 34,229 23,237 -1,264zM76,936 93,930 184,852 192,837 176,843 85,920zM-6,234 10,223 30,199 40,182 24,194 3,217zM53,930 72,917 117,876 133,858 114,872 69,913zM-56,1211 -39,1200 12,1160 26,1145 9,1156 -42,1197zM1,556 27,541 69,506 88,483 62,498 20,534zM20,1105 32,1100 40,1093 45,1082 34,1087 26,1094zM127,856 142,848 160,835 173,823 158,831 140,845zM113,304 126,296 143,280 152,268 139,276 122,292zM71,875 103,848 134,819 163,787 130,815 100,844zM177,663 191,661 224,632 228,619 214,621 181,650zM129,641 142,635 175,608 183,596 170,602 137,630zM12,1204 25,1194 36,1184 47,1172 34,1182 23,1192zM84,985 103,976 210,873 220,855 201,864 94,967zM38,418 50,414 66,399 71,387 60,392 43,407zM21,266 45,250 78,223 97,202 74,218 41,246zM160,878 178,867 208,840 220,823 203,834 172,862zM-14,822 5,812 20,799 33,782 14,792 -1,805zM-47,1132 -31,1121 27,1069 40,1055 24,1066 -33,1118zM138,704 147,699 156,692 161,684 152,688 144,696zM16,1159 36,1152 80,1119 93,1103 74,1110 29,1143zM6,205 17,203 80,154 85,144 74,146 11,195zM80,507 99,499 141,460 149,441 130,449 88,488zM47,665 60,660 105,620 111,608 98,612 53,653zM119,134 131,127 166,96 174,85 162,92 127,123zM27,904 43,894 103,843 116,829 100,839 40,889zM-33,477 -23,471 18,435 25,426 15,432 -26,468zM40,857 54,847 75,826 84,811 70,821 50,842zM-27,139 -16,132 -6,123 3,113 -8,120 -18,129zM-57,1185 -37,1174 28,1127 45,1111 25,1123 -40,1170zM132,363 138,363 160,345 161,339 154,339 133,357zM90,745 112,727 138,701 156,678 133,696 107,722zM-18,61 -11,57 -0,48 5,41 -3,45 -13,54zM33,316 43,313 101,267 106,258 96,260 38,306zM48,740 55,737 69,726 74,719 67,723 53,734zM7,610 27,596 52,573 68,554 48,569 23,592zM71,497 101,470 135,436 162,405 132,432 97,467zM-7,525 -1,524 21,502 23,495 16,497 -6,518zM122,955 144,943 205,900 223,882 201,894 140,937zM147,767 163,758 192,733 203,718 186,727 158,752z"/><path fill="#c84424" d="M21,659 35,651 70,623 81,613 68,621 33,648zM112,550 128,539 148,515 157,498 142,509 121,533zM9,103 20,97 51,69 58,58 46,64 16,93zM71,783 81,781 129,745 133,735 123,737 75,774zM7,427 22,419 42,404 53,391 38,399 18,415zM183,1108 191,1094 195,1064 191,1049 183,1062 179,1093zM81,22 83,15 83,8 81,1 79,7 79,15zM94,811 109,799 129,780 140,766 126,777 106,797zM104,528 117,521 127,511 136,500 124,507 113,517zM96,511 118,499 140,480 157,462 136,474 113,493zM186,591 193,590 209,576 210,569 203,570 187,584zM32,1032 64,1009 101,981 131,956 99,979 62,1007zM185,1170 190,1161 194,1144 194,1135 190,1143 185,1160zM-10,726 8,719 66,682 80,668 62,675 4,712zM-4,1195 5,1193 16,1182 19,1174 11,1176 -1,1186zM138,558 159,548 214,504 230,487 209,497 153,540zM-9,469 18,452 54,427 78,407 51,423 16,449zM24,328 31,325 43,314 47,308 40,311 28,322zM-37,994 -21,985 -5,973 8,960 -9,969 -24,980zM88,1163 93,1154 97,1135 96,1125 91,1134 88,1153zM35,348 56,332 83,303 98,281 77,297 50,325zM8,553 31,542 80,507 97,487 73,498 25,534zM99,394 104,394 124,378 126,373 121,373 101,389zM90,759 124,734 156,706 184,674 150,699 118,727zM21,731 47,717 119,650 135,626 109,640 38,707zM70,845 84,838 96,827 105,814 91,821 79,831zM165,705 177,699 215,671 224,661 212,667 174,695zM108,1145 114,1132 128,1083 129,1068 122,1081 109,1130zM6,955 31,935 77,891 98,866 73,886 26,930zM166,30 170,25 172,-8 169,-13 166,-8 164,24zM-11,551 27,534 83,494 112,464 74,481 18,521zM-56,709 -29,687 0,658 21,631 -6,652 -35,682zM128,373 151,358 171,340 189,320 167,335 147,353zM-39,325 -30,324 9,294 11,285 2,286 -36,316zM11,677 30,665 65,629 76,611 58,623 23,658zM-55,154 -30,141 -9,126 13,107 -13,120 -34,135zM124,771 130,772 154,752 155,746 149,746 125,765zM118,400 130,394 209,336 218,326 206,332 127,390zM67,818 73,818 91,804 92,799 87,799 69,813zM107,35 110,29 115,-14 114,-20 111,-15 106,29zM40,588 45,586 70,567 72,563 67,564 43,584zM164,647 181,636 204,618 219,605 202,616 179,633zM39,189 49,184 79,156 85,147 76,152 46,180zM165,975 168,973 182,953 183,948 180,951 166,971zM67,305 82,295 144,233 154,217 138,227 76,290zM-10,817 8,809 30,792 43,777 25,785 3,802zM183,379 190,379 210,359 210,353 204,352 183,372zM177,398 191,391 203,383 216,372 201,380 189,388zM60,965 97,938 149,892 180,859 144,887 92,932zM57,1153 69,1139 82,1120 90,1103 78,1117 66,1136zM130,568 146,557 159,542 169,524 152,536 139,551zM131,95 131,82 130,66 128,52 127,66 129,82zM107,1133 110,1120 111,1094 109,1080 106,1094 105,1119zM-31,612 -22,609 -1,588 1,579 -8,582 -28,602zM30,718 41,716 92,675 96,666 86,668 35,708zM59,355 81,340 140,293 159,274 137,289 78,336zM88,217 118,199 193,126 212,97 182,115 107,188zM39,940 56,930 97,899 110,885 93,895 53,926zM-30,529 -24,525 -8,508 -5,502 -11,506 -27,522zM45,882 53,880 84,845 85,838 77,839 46,874zM97,267 122,255 158,228 177,209 152,221 116,247zM157,13 158,3 158,-11 156,-21 155,-11 156,3zM-50,280 -23,258 7,230 29,204 2,225 -28,254zM57,460 80,442 102,419 118,396 96,414 74,437zM166,775 174,771 195,746 198,737 190,741 169,766zM-21,876 -15,875 6,854 7,848 1,849 -20,870zM-5,761 12,751 70,702 83,687 66,697 8,747zM66,1153 74,1145 84,1127 87,1115 79,1124 69,1142zM141,808 164,794 184,776 201,755 178,769 158,787zM149,506 162,499 184,481 192,468 178,475 157,493zM57,943 74,938 106,917 117,904 100,909 68,930zM-43,787 -28,777 -3,754 8,739 -7,749 -32,773zM165,1169 167,1157 177,1087 177,1076 174,1087 165,1157zM47,234 62,227 80,213 90,199 75,206 57,221zM103,58 105,49 108,16 107,8 105,16 102,49zM136,894 146,889 163,870 168,860 158,865 141,884zM-55,664 -23,637 11,605 39,575 7,601 -27,634zM63,1013 87,999 126,960 140,936 116,949 77,988zM119,572 141,557 158,539 170,515 148,530 131,549zM185,970 193,958 206,935 211,922 203,934 191,957zM26,144 37,139 79,100 85,90 74,94 32,133zM172,1073 176,1069 184,1041 182,1036 178,1039 170,1068zM137,1083 142,1075 145,1062 143,1053 137,1060 135,1074zM180,1008 186,1000 209,938 210,928 204,936 181,998zM132,1097 135,1090 150,1044 151,1036 147,1043 133,1090zM123,446 135,441 142,432 147,420 135,426 128,434zM186,96 188,91 188,51 186,46 183,51 184,91z"/><path fill="#6a1cb0" d="M-34,158 -18,150 50,98 62,85 46,93 -22,144zM57,306 67,301 75,291 79,281 69,285 60,295zM123,53 124,50 125,27 124,24 122,27 122,50zM18,25 20,11 20,-19 18,-34 16,-19 16,11zM-34,1185 -5,1170 27,1149 52,1128 23,1143 -9,1164zM134,1195 139,1186 157,1122 157,1112 152,1121 134,1185zM-25,619 -8,614 79,529 84,512 67,517 -20,602zM69,579 78,576 116,545 121,536 111,539 73,570zM-14,928 0,921 29,900 40,889 26,896 -3,917zM-2,678 8,672 46,642 54,634 44,640 6,670zM87,165 92,165 114,146 115,141 111,142 89,161zM19,353 36,341 61,317 72,300 55,312 31,336zM-57,341 -44,330 -7,291 3,278 -10,289 -47,327zM2,373 23,367 134,268 143,247 122,254 11,353zM166,419 177,414 207,386 212,375 201,380 172,408zM167,73 169,66 169,44 167,37 165,44 165,66zM152,932 186,911 226,879 254,850 220,871 180,903zM33,1126 60,1112 83,1097 108,1078 80,1092 57,1107zM76,515 87,511 98,502 103,492 92,496 82,505zM94,672 128,642 180,587 209,552 175,582 123,637zM10,123 17,121 53,92 57,86 49,88 14,117zM-46,744 -32,736 17,682 23,668 10,676 -39,730zM102,975 113,967 125,957 134,946 122,953 111,964zM159,1146 163,1137 177,1081 178,1072 174,1081 160,1136zM-47,537 -18,520 13,497 37,474 8,490 -23,514zM20,210 54,182 84,154 114,122 80,150 51,178zM48,478 58,474 108,434 114,426 105,430 55,470zM-19,112 9,92 47,63 72,39 43,59 6,88zM125,241 176,208 216,173 255,127 204,160 165,195zM99,1151 104,1138 111,1100 111,1086 106,1098 98,1137zM152,209 166,200 178,190 189,178 175,187 163,197zM6,572 24,557 39,542 54,524 36,539 22,554zM171,208 177,205 189,190 191,183 185,186 173,201zM66,420 74,418 100,393 103,386 95,388 68,412zM-51,1150 -36,1143 -3,1115 7,1101 -8,1109 -41,1137zM132,274 141,270 176,239 182,230 172,234 137,265zM64,464 79,453 100,435 112,421 96,431 76,450zM-19,440 -4,434 76,357 83,343 68,349 -12,426zM17,243 28,237 67,200 73,190 62,196 23,232zM96,901 109,895 145,860 152,847 138,853 103,888zM41,933 52,927 63,918 71,909 60,914 49,923zM85,393 103,386 138,364 152,351 134,358 99,380zM8,1142 32,1128 48,1111 61,1087 38,1101 21,1118zM-23,277 -14,274 5,259 10,251 1,254 -18,269zM162,682 180,665 217,624 232,604 214,622 178,662zM82,1189 91,1166 110,1101 116,1077 108,1100 88,1165zM174,106 177,100 178,89 177,83 175,89 174,99zM53,655 72,647 171,560 182,542 163,551 64,638zM175,243 197,229 216,211 232,190 210,205 191,222zM127,529 137,525 149,516 155,507 145,511 133,520zM-23,767 -17,768 6,747 6,740 -0,740 -23,761zM132,877 143,869 160,853 169,843 158,851 141,867zM-47,811 -22,797 3,776 22,755 -2,769 -28,790zM105,850 114,848 140,823 142,815 134,817 108,842zM199,26 200,20 200,14 199,8 197,14 197,20zM53,462 68,453 109,422 122,410 107,420 66,450zM77,1028 82,1026 105,1008 108,1004 103,1006 80,1024zM-1,627 6,626 22,611 24,603 16,605 0,619zM-48,740 -29,727 -13,713 3,696 -16,709 -33,723zM188,1049 198,1012 210,961 217,923 207,961 195,1011zM43,496 52,494 79,471 83,463 75,466 47,488zM-42,560 -14,540 27,507 51,483 23,502 -17,536zM143,303 152,297 175,277 182,269 173,275 150,295zM97,1056 106,1053 130,1029 134,1020 125,1024 101,1047zM167,414 186,405 224,377 238,361 219,370 181,398zM-7,281 -2,281 17,265 18,260 13,260 -6,276zM-5,303 5,301 49,269 55,260 44,263 1,294zM-40,1168 -30,1162 -21,1155 -13,1145 -23,1152 -32,1159zM11,826 20,821 73,773 79,765 71,770 17,818zM45,44 47,35 51,2 51,-8 48,1 45,34zM-70,125 -49,116 27,49 38,29 17,39 -58,105zM-11,1106 0,1102 48,1063 54,1053 43,1057 -5,1096zM39,806 46,805 72,782 74,774 66,775 40,799zM21,292 35,285 47,275 56,262 41,268 29,278zM-51,326 -35,314 29,255 43,240 27,252 -37,311zM41,688 63,677 94,653 110,635 89,646 57,670zM162,226 177,215 198,195 210,181 195,192 174,212z"/><path fill="#d25a30" d="M9,418 33,402 53,386 74,364 49,380 29,397zM115,489 149,464 178,441 210,412 176,437 147,461zM157,534 161,533 180,521 182,517 177,517 159,530zM21,908 43,898 64,886 83,872 61,882 40,893zM-52,852 -36,843 13,796 23,781 7,790 -42,836zM56,1139 64,1133 103,1088 107,1079 99,1085 60,1130zM-25,101 -11,90 21,58 32,44 18,55 -14,87zM118,603 134,593 158,573 170,558 154,568 131,589zM-25,691 -5,681 38,650 53,634 33,643 -10,674zM122,878 131,873 186,829 192,822 183,826 128,870zM102,412 112,406 160,366 169,357 158,364 110,403zM161,918 180,901 198,884 215,864 195,880 177,898zM52,163 63,160 116,117 122,107 111,110 58,153zM-9,218 12,199 29,182 47,161 27,180 9,197zM153,698 178,681 209,654 230,632 205,650 175,676zM11,335 28,322 74,282 89,266 72,279 26,319zM-88,747 -71,740 17,673 28,658 11,665 -77,732zM-11,593 -3,591 32,557 34,549 26,551 -9,585zM93,317 118,302 144,281 163,259 137,274 112,295zM41,125 49,122 98,90 103,84 95,86 47,119zM63,161 79,150 122,111 134,95 117,106 75,146zM-37,638 -7,622 25,599 49,576 20,592 -13,615zM140,905 159,894 190,866 203,848 184,860 153,887zM-14,134 -1,125 30,98 40,85 27,94 -4,121zM0,1012 10,1007 50,971 55,961 45,966 6,1002zM-36,283 -27,282 13,251 16,242 7,243 -33,274zM123,723 129,722 145,711 148,705 142,706 126,718zM3,127 21,122 48,98 55,81 37,86 10,110zM106,209 114,206 145,175 148,167 139,170 109,201zM29,768 41,765 87,731 94,722 83,725 36,758zM181,790 191,788 202,779 206,769 196,771 185,781z"/><path fill="#30b0c0" d="M-10,1092 -5,1091 15,1076 16,1071 12,1072 -8,1087zM110,1166 119,1137 126,1091 128,1061 119,1090 112,1135zM25,1043 34,1041 45,1031 48,1023 40,1024 28,1034zM163,1079 176,1049 210,949 218,918 204,947 171,1047zM174,1044 179,1038 191,997 189,990 184,995 172,1036zM138,1097 142,1089 144,1075 143,1066 139,1075 137,1088zM163,1207 167,1187 175,1122 175,1101 170,1121 163,1187zM44,1028 64,1014 106,973 120,952 99,966 58,1007zM39,978 60,966 79,950 94,932 73,944 55,960zM59,1231 63,1208 66,1160 64,1136 60,1159 58,1208z"/><path fill="#b83418" d="M-18,159 -7,155 18,133 23,122 12,126 -13,149zM-14,554 3,545 51,507 64,492 46,501 -2,539zM147,714 168,698 186,680 202,659 182,675 163,693zM91,791 112,780 166,736 181,717 160,729 107,773zM33,380 50,368 74,348 88,333 71,345 47,365zM-49,704 -41,700 -3,664 2,656 -7,661 -44,696zM154,620 181,599 214,564 233,535 206,556 173,591zM23,361 32,360 75,332 79,323 70,324 27,353zM-26,251 -16,246 -7,238 -1,229 -11,233 -20,242zM19,625 25,624 42,608 43,602 36,602 20,618zM17,300 24,299 43,282 44,275 36,275 18,292zM-23,581 -5,571 46,527 58,510 40,520 -11,564zM96,250 105,246 116,235 120,227 111,230 100,241zM-15,704 -10,703 16,680 17,674 12,676 -13,699zM175,633 186,627 209,605 217,594 205,601 182,622zM137,197 144,195 171,170 174,162 166,164 139,190zM76,641 98,626 138,589 155,568 133,583 92,620zM137,813 152,802 212,754 226,741 210,751 151,800zM-40,74 -26,65 -5,48 7,37 -7,46 -28,63zM79,220 96,210 146,166 158,150 142,160 92,205zM-29,209 -16,206 31,169 38,157 25,161 -22,198zM70,342 85,332 115,308 128,295 113,305 83,329zM56,542 69,535 139,466 147,454 135,462 64,530zM60,769 76,758 98,740 110,725 94,735 73,754zM-48,564 -39,560 2,527 8,519 -1,522 -43,555zM116,560 127,557 147,542 152,532 141,535 121,550zM91,330 103,325 171,268 178,257 166,261 97,318zM140,808 149,802 181,775 187,767 179,772 146,800z"/><path fill="#a04a10" d="M135,464 152,456 193,423 204,408 187,416 146,449zM152,259 171,246 199,222 214,205 195,218 167,242zM133,217 146,210 193,168 202,156 189,163 142,205zM-5,131 12,118 36,96 50,80 33,94 10,115zM184,542 194,540 216,520 220,511 210,513 188,532zM79,262 107,239 131,216 155,189 126,211 102,234zM-39,188 -19,173 18,138 34,120 15,135 -22,170zM-33,109 -12,99 50,54 67,36 45,47 -17,92zM4,427 30,413 53,396 74,375 48,389 24,406zM-43,446 -23,435 18,400 32,382 12,393 -29,428zM-11,621 4,613 74,548 83,533 67,541 -2,607z"/><path fill="#80c870" d="M100,968 115,958 151,923 161,909 146,919 111,953zM171,108 174,104 175,95 173,91 171,95 170,104zM-47,969 -28,962 13,920 19,899 -1,906 -41,949zM45,1119 55,1117 79,1095 83,1086 73,1088 49,1110z"/><path fill="#a0a8e0" d="M10,1056 59,1018 103,980 147,938 99,976 55,1013zM88,960 98,957 111,944 113,934 104,937 91,951zM-31,1187 -10,1167 9,1146 27,1124 7,1144 -13,1165z"/><path fill="#3036b8" d="M139,529 154,522 205,482 215,469 200,476 149,516zM20,643 50,620 85,590 113,564 83,587 48,617zM-28,538 -8,535 48,497 58,480 39,483 -17,521zM24,764 45,757 64,740 72,719 51,726 32,743zM0,394 7,390 21,378 26,372 19,376 5,388zM-51,520 -30,510 -11,499 7,485 -14,495 -33,506zM30,441 41,435 109,380 117,370 106,376 38,431zM35,339 61,328 93,301 109,278 83,290 51,316zM4,574 24,557 71,514 89,494 68,511 22,554zM29,155 43,149 67,127 75,113 61,120 37,142zM121,304 133,299 143,289 148,278 136,283 126,293zM71,769 89,759 130,727 145,711 126,722 85,754zM108,564 114,561 149,529 153,522 146,525 111,558zM33,1062 44,1057 76,1029 82,1018 70,1023 39,1051zM52,678 64,670 107,631 116,620 104,628 60,666zM-34,1118 -22,1113 11,1083 17,1071 5,1076 -28,1106zM-12,180 -5,179 25,150 25,143 18,144 -11,173zM138,618 170,588 196,559 224,525 192,555 165,584zM58,836 65,836 90,813 91,807 84,807 59,829zM136,617 149,613 179,587 185,575 173,579 142,605zM127,991 156,966 188,932 213,903 184,928 152,962zM13,637 33,623 79,578 93,558 72,572 27,617zM139,230 150,225 171,206 176,196 165,200 145,219zM-13,828 -6,825 14,808 19,802 12,805 -9,822zM32,867 41,864 79,838 85,832 77,835 38,861zM157,210 169,204 184,191 193,180 180,186 165,199zM-36,315 -13,306 56,240 67,218 45,228 -25,294zM122,681 146,662 185,621 204,597 180,616 141,657zM98,204 119,188 139,166 153,143 132,160 112,181zM-54,1119 -29,1102 8,1068 28,1044 3,1062 -34,1096zM51,633 61,628 100,591 106,582 97,587 57,624zM-35,687 -12,671 18,645 35,623 12,639 -18,665zM4,927 20,917 72,872 85,857 68,867 16,912zM-32,261 -25,257 9,224 14,217 7,222 -27,255zM154,317 187,297 215,275 242,248 209,268 182,290zM-17,478 -0,464 33,427 45,409 28,423 -5,460zM93,769 114,752 152,716 170,697 150,714 111,750zM135,628 150,619 168,602 176,587 162,595 144,613zM-59,1198 -27,1177 4,1151 30,1124 -1,1146 -32,1171zM147,317 179,289 209,261 238,230 206,258 176,286z"/><path fill="#8030b0" d="M86,495 102,487 143,462 157,451 141,459 100,484zM-14,768 -6,764 23,738 29,732 21,736 -8,761zM5,516 12,514 36,494 38,487 31,488 7,509zM26,201 33,198 47,183 50,176 43,179 29,194zM141,629 163,617 206,584 224,566 202,578 159,611zM105,205 115,201 146,170 149,161 140,164 109,195zM114,798 132,782 163,748 177,728 159,744 128,778zM139,900 147,897 179,868 183,860 175,864 143,893zM14,631 30,619 47,603 60,588 44,600 27,616zM87,649 104,641 164,595 176,580 159,589 99,635zM105,691 114,686 127,671 132,662 123,667 110,682zM74,324 84,319 109,295 114,286 104,290 79,314zM165,661 174,655 224,609 230,600 220,606 171,652zM124,929 158,905 187,880 215,849 181,873 152,898zM53,857 75,846 91,833 106,815 85,826 69,838zM62,108 75,103 114,73 122,61 109,66 69,96zM65,555 73,553 104,528 108,522 100,524 69,548zM140,683 162,674 208,643 225,626 203,635 157,666z"/><path fill="#40b060" d="M154,733 165,728 200,692 205,681 194,686 159,723zM168,774 181,767 202,749 211,737 198,744 177,762zM48,473 57,471 71,460 75,452 66,453 52,464zM85,233 100,223 130,199 141,186 127,196 97,220z"/><path fill="#e08090" d="M110,28 112,17 115,-15 114,-26 111,-16 109,17zM149,435 185,408 213,382 243,350 208,376 179,402zM165,115 167,109 171,79 170,72 168,79 165,108zM138,533 164,513 196,486 220,464 194,484 162,511zM120,82 122,71 120,47 117,36 116,47 117,71zM-14,97 -5,96 22,78 26,70 17,71 -10,88zM129,447 138,442 153,428 159,419 150,424 135,438zM31,338 53,324 87,295 104,274 81,288 48,317zM90,73 94,66 99,27 97,19 94,26 88,65z"/><path fill="#d040c8" d="M35,29 37,15 37,-6 35,-20 32,-6 32,15z"/><path fill="#a080d0" d="M107,67 109,60 110,46 109,38 108,46 107,60zM164,41 167,38 169,13 167,9 164,12 162,38zM161,53 163,35 162,13 160,-5 158,13 158,35zM189,83 192,80 193,61 191,58 188,61 186,79z"/><path fill="#5a1040" d="M79,682 89,677 105,662 112,652 101,658 86,672zM163,887 172,882 226,833 232,825 223,829 169,879zM137,648 164,631 201,601 224,577 196,594 159,624zM158,474 171,467 221,423 231,412 218,419 167,463zM130,300 154,282 179,258 199,235 175,253 149,278zM7,266 20,259 99,199 109,188 96,195 17,255zM40,671 55,664 86,636 95,622 80,629 49,657zM-43,653 -21,639 -3,625 16,607 -6,621 -24,635zM130,524 148,514 164,498 175,481 157,492 141,507zM91,558 102,554 112,546 118,535 107,539 97,548zM-41,376 -34,373 -20,361 -16,353 -24,356 -38,369zM-82,1009 -56,995 11,944 31,923 5,937 -62,988zM4,972 20,964 74,921 86,907 69,916 16,958zM123,257 140,244 192,198 208,182 190,196 138,242zM-15,402 -3,394 18,372 25,360 13,368 -8,389zM71,472 87,461 102,448 115,434 99,445 84,458zM-55,162 -26,140 -2,120 25,95 -4,117 -28,138z"/><path fill="#c83070" d="M188,29 191,25 193,10 191,6 188,10 186,24zM185,1028 189,1012 196,965 197,949 193,965 186,1012zM153,981 162,975 170,966 175,956 166,962 158,971zM-39,1174 -33,1172 -5,1147 -3,1141 -9,1143 -37,1168zM112,985 135,971 154,953 170,931 147,946 128,964zM165,1105 170,1090 187,1006 187,990 181,1005 165,1089zM43,249 67,234 98,210 119,190 95,206 64,230zM177,965 189,953 199,941 207,926 194,937 185,950zM116,45 120,28 122,6 121,-11 117,5 115,27zM71,110 80,104 96,88 103,79 94,86 77,101zM185,23 187,15 187,2 185,-7 184,2 184,15zM100,106 103,100 103,60 100,54 97,60 97,100zM-7,563 18,547 44,524 63,502 38,517 12,541zM-6,1181 3,1179 31,1155 35,1146 25,1148 -3,1172zM133,37 135,26 135,13 133,3 130,13 130,26zM144,52 145,50 145,34 144,32 143,35 143,50zM159,95 160,85 161,46 159,36 158,46 157,85zM131,195 159,172 197,138 223,112 194,135 157,169zM107,1093 118,1077 131,1047 135,1028 124,1044 111,1074zM116,11 120,2 121,-16 118,-26 115,-16 114,1zM41,770 47,769 68,750 70,744 64,746 43,765zM31,993 58,971 95,937 120,912 92,934 56,968zM19,1103 30,1096 61,1061 67,1049 56,1057 25,1092zM162,928 171,922 230,868 236,860 227,866 169,920zM65,65 66,62 64,47 63,44 62,47 64,62zM60,1072 89,1047 117,1021 142,992 113,1017 85,1043zM101,53 102,41 101,18 100,6 98,18 99,41zM17,391 24,388 64,362 69,356 62,359 22,386zM65,235 79,226 105,201 113,187 99,196 74,221zM-30,1225 -13,1210 34,1154 46,1135 29,1150 -18,1205zM93,1035 102,1032 119,1020 124,1012 115,1015 98,1027zM-28,579 -3,561 19,542 40,520 15,538 -6,556zM-28,981 -10,967 45,910 58,891 39,905 -15,962zM-41,1179 -23,1169 17,1136 30,1121 13,1131 -28,1164zM14,1124 19,1125 39,1108 39,1103 34,1102 14,1119zM-29,736 -19,733 9,708 13,698 3,702 -25,726zM-55,373 -36,360 -17,342 -3,324 -22,338 -41,355zM47,207 59,202 79,184 85,173 73,178 53,196zM-3,505 8,499 55,454 61,444 50,449 3,494zM-29,734 -13,720 13,692 25,674 9,688 -17,716z"/><path fill="#30c050" d="M-23,21 -20,20 -19,8 -21,6 -24,7 -25,19zM110,91 111,85 113,66 112,61 110,66 109,85zM17,42 18,38 18,21 16,17 15,21 15,38zM75,41 78,38 79,28 77,25 75,28 74,38zM69,36 72,33 74,17 72,13 69,17 67,32z"/><path fill="#d06070" d="M-33,1017 -21,1012 46,961 54,950 41,955 -25,1006zM26,1180 39,1168 67,1137 77,1123 63,1134 36,1165zM-11,1163 5,1150 42,1117 56,1102 39,1115 3,1148zM-27,978 -16,974 -7,965 -1,954 -12,959 -22,968zM88,1056 106,1045 131,1024 145,1008 127,1019 102,1040z"/><path fill="#30b8c8" d="M202,113 205,107 205,72 203,66 200,72 200,107zM181,15 182,7 181,-11 179,-19 177,-11 178,7z"/><path fill="#501040" d="M137,1147 147,1113 153,1080 157,1044 147,1078 141,1112zM63,1204 85,1154 111,1086 128,1033 105,1083 79,1151zM104,1209 112,1193 124,1157 126,1139 118,1155 106,1191zM113,1100 116,1096 128,1060 128,1054 125,1059 113,1095zM98,1214 101,1195 107,1117 107,1097 104,1117 98,1195zM60,1148 67,1145 79,1130 80,1122 73,1125 61,1141z"/><path fill="#30b050" d="M188,1229 197,1203 208,1159 212,1132 202,1158 191,1201zM181,1062 193,1015 205,950 211,901 199,949 187,1014z"/><path fill="#40b0c0" d="M-6,897 10,881 36,850 49,831 33,847 7,879zM168,774 175,773 194,757 196,750 189,752 170,767z"/><path fill="#8090c0" d="M202,1138 207,1118 209,1100 207,1080 202,1100 200,1118zM119,1177 124,1159 133,1116 134,1098 129,1116 121,1158z"/><path fill="#c83070" d="M12,1134 21,1130 31,1121 36,1112 26,1116 17,1125zM41,939 52,937 60,932 67,922 55,925 48,930zM23,42 27,29 30,3 29,-10 25,2 22,29zM151,1201 156,1186 163,1145 164,1129 158,1144 151,1185zM11,1033 20,1028 84,979 91,972 82,977 18,1026zM101,1175 107,1163 110,1145 109,1131 104,1144 101,1162zM143,1131 152,1103 158,1077 162,1048 153,1076 147,1102zM105,1202 110,1187 127,1107 130,1091 125,1106 107,1186zM107,1146 116,1119 129,1076 135,1047 126,1075 113,1118zM181,1014 187,995 191,973 193,953 187,972 183,995zM118,822 136,811 171,778 184,760 166,772 130,805zM34,279 42,273 52,264 57,257 49,262 40,271zM57,388 75,374 111,337 125,318 107,333 71,370zM132,21 135,17 136,-5 134,-9 132,-5 131,17zM1,159 14,153 62,117 72,107 59,114 11,149zM123,122 126,107 127,78 127,64 125,78 123,107zM151,1095 157,1087 167,1051 166,1041 160,1049 150,1085zM172,1012 195,981 219,937 233,901 211,932 187,976zM198,112 200,102 199,67 197,57 194,67 195,103zM-47,975 -31,969 30,925 41,911 24,918 -36,961zM175,121 177,112 177,71 175,62 173,71 172,112zM67,277 83,265 124,226 136,210 119,222 79,260zM127,565 143,556 179,522 189,507 173,516 137,549zM73,1085 84,1080 98,1068 105,1058 94,1063 79,1075zM11,1101 23,1096 76,1057 84,1047 72,1051 19,1091zM170,1059 176,1039 183,1010 186,989 179,1009 173,1038zM-48,968 -33,957 23,902 33,887 18,897 -37,953zM183,1194 189,1171 201,1099 203,1075 197,1099 186,1170zM-0,39 3,32 4,23 2,15 -1,22 -2,32zM167,1118 178,1087 191,1038 197,1005 187,1037 173,1086zM-0,1046 9,1040 23,1026 28,1016 18,1022 5,1036zM174,377 184,375 223,343 228,334 218,336 178,368zM84,43 87,27 89,2 88,-15 85,1 83,26zM162,1165 166,1158 172,1129 171,1120 167,1128 161,1157zM-51,534 -43,530 -13,502 -8,495 -15,499 -46,527zM90,63 93,58 95,49 94,43 91,48 90,57zM-21,1128 6,1107 33,1082 56,1055 28,1076 1,1101zM-78,811 -61,803 49,723 62,710 45,718 -65,797zM5,981 50,954 107,906 142,866 97,893 40,942zM79,1200 89,1159 97,1116 103,1074 93,1115 85,1159zM161,115 162,112 163,95 162,93 161,95 160,112zM145,523 151,521 164,509 168,504 162,506 148,518zM176,1225 182,1213 201,1129 201,1116 196,1128 177,1212z"/><path fill="#c040b0" d="M158,1061 169,1046 196,966 197,947 186,963 159,1042zM-51,1117 -17,1094 19,1067 50,1042 17,1064 -20,1091zM-11,973 7,960 35,932 48,914 29,926 1,954zM-16,1005 -8,997 16,968 22,958 13,966 -10,995zM142,1065 153,1040 167,1003 173,977 161,1001 148,1038zM91,1193 99,1165 108,1121 113,1092 106,1120 96,1164zM115,1169 120,1158 129,1093 128,1080 122,1092 113,1157zM84,971 95,964 106,951 111,939 100,946 89,959zM195,1180 200,1168 209,1073 206,1060 202,1072 193,1167z"/><path fill="#c84424" d="M84,1175 88,1166 99,1098 98,1088 94,1097 83,1165zM144,575 173,553 204,527 231,503 202,525 171,551zM-10,306 -0,304 27,284 32,276 23,279 -4,298zM137,1203 143,1188 150,1160 153,1144 147,1159 140,1187zM114,1073 126,1057 150,1019 159,1002 147,1018 123,1056zM72,274 86,269 133,228 140,216 127,221 79,261zM-31,1222 -8,1210 78,1123 90,1098 66,1111 -20,1198zM144,249 166,239 211,197 222,176 200,186 156,227zM74,652 88,647 117,623 124,610 110,615 82,639zM44,1096 55,1091 120,1039 127,1030 117,1034 51,1087zM128,822 132,821 151,804 152,800 148,801 129,817zM17,1125 33,1113 59,1090 72,1075 55,1086 30,1109zM187,1030 192,1015 201,961 200,945 195,960 187,1014zM103,850 108,847 134,816 136,811 131,814 105,844zM-57,588 -41,580 14,543 28,532 11,540 -43,577zM193,1096 196,1090 199,1072 197,1064 194,1071 191,1089zM88,903 123,880 157,853 188,826 154,850 120,876zM-23,131 2,116 24,99 44,78 19,93 -3,110zM-46,1164 -29,1159 30,1102 37,1085 19,1091 -40,1147zM-15,319 -1,308 25,286 38,273 23,283 -3,306zM140,710 167,689 204,657 229,634 202,655 165,686zM12,835 32,818 57,793 75,772 54,789 29,814zM69,536 80,533 132,495 138,484 126,487 75,525zM104,244 125,232 152,210 168,192 147,204 120,226zM-5,850 4,845 14,837 19,828 10,832 0,841zM3,613 28,601 118,512 131,487 105,499 15,588zM181,115 182,110 180,95 179,90 178,95 179,110zM92,183 123,167 156,144 182,120 150,137 118,159zM-29,24 -26,17 -27,4 -30,-2 -33,5 -32,18zM58,910 77,897 103,871 116,851 97,864 70,891zM144,1104 156,1086 165,1056 164,1034 152,1052 144,1082zM78,1138 84,1130 114,1061 116,1051 110,1059 79,1128zM-32,1088 -17,1080 13,1051 21,1037 7,1045 -23,1074zM-23,604 -10,602 15,581 18,569 5,570 -20,591zM179,984 187,973 203,943 207,930 199,941 183,971zM182,1054 190,1031 193,1009 194,984 186,1007 183,1030zM52,819 75,807 157,732 171,710 147,722 66,797zM-53,399 -44,397 -3,358 -1,349 -10,351 -51,390zM-29,1123 -18,1119 45,1066 50,1056 40,1060 -23,1113zM95,369 119,354 161,323 183,305 159,320 116,351zM75,1141 80,1137 95,1103 96,1096 91,1101 75,1135zM-31,368 -5,345 27,310 48,282 21,305 -11,340zM141,393 154,386 186,357 195,345 182,352 150,381zM22,1041 39,1031 80,992 90,975 73,985 32,1024zM-11,584 2,575 64,515 73,502 60,511 -2,571zM140,551 160,538 198,505 215,488 195,502 157,534zM-21,143 -10,139 15,119 22,109 11,113 -14,133zM69,631 95,612 137,572 156,547 130,566 89,605zM133,460 157,444 184,421 203,400 179,415 152,438zM38,862 67,848 90,832 115,811 86,825 62,840zM44,382 59,372 91,345 103,331 87,341 56,368zM-14,761 -2,756 65,703 72,692 60,697 -7,750zM55,1080 64,1078 89,1060 94,1053 85,1055 60,1073zM105,486 124,472 145,455 161,439 143,452 121,470zM121,885 133,879 159,857 166,845 154,851 128,873zM77,356 84,352 95,341 99,334 92,338 80,349zM25,736 43,724 106,667 119,649 101,661 38,719zM44,1086 50,1084 63,1073 66,1066 59,1069 47,1080zM139,1072 141,1067 145,1035 144,1031 142,1035 138,1067zM-3,431 27,412 52,395 80,373 50,392 25,410zM16,166 41,150 77,121 98,100 72,115 36,144zM28,805 54,781 81,755 105,729 79,752 52,779zM-29,675 -19,672 -6,662 -1,653 -11,656 -24,667zM150,103 155,88 158,71 159,54 154,70 151,87zM146,651 167,638 224,587 239,567 218,580 161,631zM96,775 111,765 161,718 172,703 157,713 107,760zM194,79 197,69 197,53 195,42 192,53 192,68zM-17,184 1,175 28,151 40,135 22,144 -5,168zM35,1145 41,1143 71,1119 74,1114 68,1115 38,1139zM72,811 81,808 125,770 129,762 121,765 77,803zM112,212 121,209 179,166 185,158 175,161 117,204zM23,310 36,302 58,277 64,263 51,270 29,296zM-61,1216 -22,1200 21,1169 50,1137 10,1154 -33,1185zM-28,577 -0,555 25,532 51,507 23,529 -2,553zM-54,720 -29,702 5,669 23,645 -1,662 -35,696zM-13,931 3,919 53,874 67,860 51,871 1,916zM56,864 76,852 129,810 145,793 125,806 72,848zM24,1131 34,1130 61,1111 66,1102 56,1104 29,1123zM-59,1129 -14,1099 26,1068 66,1032 21,1061 -19,1093zM-10,245 8,234 54,193 67,176 49,187 3,229zM82,777 106,766 156,716 168,693 144,704 94,754zM-23,916 -11,912 43,868 50,858 39,862 -16,906zM97,426 120,414 151,391 169,373 147,385 115,408zM-14,139 -2,133 70,70 77,59 65,65 -7,128zM69,128 76,128 100,110 101,103 94,103 71,121z"/><path fill="#a0a8e0" d="M130,982 148,972 202,928 215,912 197,922 143,967zM24,1048 50,1033 75,1012 94,989 68,1005 43,1025z"/><path fill="#d040c8" d="M-24,32 -23,26 -24,-1 -26,-7 -27,-1 -26,26zM146,95 147,81 147,67 146,52 144,67 144,81zM147,15 150,0 150,-16 149,-30 147,-16 146,0z"/><path fill="#30b0c0" d="M165,1206 173,1177 180,1138 183,1108 175,1137 168,1176zM104,1203 113,1165 120,1129 125,1090 116,1128 109,1164zM44,997 60,986 99,951 110,936 95,946 56,982zM72,1023 86,1015 115,993 126,982 112,989 83,1012zM-55,997 -33,980 16,933 35,912 13,930 -37,977zM164,1078 172,1050 183,998 187,969 179,997 168,1049z"/><path fill="#a81a12" d="M-49,230 -26,214 11,180 29,158 6,175 -31,209zM24,24 26,13 27,-13 26,-24 24,-13 23,13zM-48,214 -41,214 -5,187 -3,180 -11,180 -46,207zM202,55 202,40 201,19 199,4 199,19 200,40zM-7,928 6,923 37,894 44,881 30,887 -1,915zM179,124 181,121 181,104 179,102 177,104 177,121zM78,684 90,677 122,650 131,640 120,647 87,674zM124,1139 130,1126 140,1079 140,1066 134,1078 124,1125zM182,106 183,100 184,83 182,77 180,83 180,100zM184,112 187,104 188,81 186,73 183,81 181,103zM115,721 126,717 201,665 209,656 198,660 123,712zM42,1019 50,1016 97,971 100,963 92,967 46,1011zM6,236 29,219 62,184 78,161 55,178 22,213zM111,870 125,861 155,836 166,823 151,831 122,857zM168,384 177,380 229,339 235,331 226,336 174,376zM1,175 14,166 62,120 70,108 58,116 10,162zM172,1220 177,1209 193,1145 194,1133 189,1144 173,1208zM179,23 180,18 178,-10 176,-15 174,-9 177,18zM109,570 130,553 152,533 169,512 148,529 127,549zM168,1009 179,990 187,968 191,946 180,965 172,988zM75,517 85,511 107,490 113,480 103,486 81,507zM180,1144 183,1134 185,1116 184,1106 182,1115 180,1134zM106,1221 112,1200 122,1113 122,1092 117,1113 106,1199zM115,759 134,748 153,731 166,714 148,725 128,742zM49,371 67,365 124,328 137,315 119,321 62,358zM25,491 40,482 101,429 111,415 96,424 36,477zM127,206 147,195 163,181 176,163 157,174 141,188zM75,624 93,612 123,582 136,565 119,577 88,607zM-7,579 14,565 45,537 60,516 38,530 8,558zM25,562 34,558 54,540 58,531 49,534 29,553zM110,110 113,103 113,79 111,71 109,79 108,102zM-45,200 -32,195 36,138 44,126 31,132 -37,188zM-69,1092 -39,1074 2,1045 29,1022 -2,1040 -42,1069zM2,6 3,5 5,-8 5,-10 3,-9 1,4zM90,628 101,621 110,611 117,600 106,607 96,617zM108,312 132,297 178,256 196,234 173,250 126,291zM-34,428 -25,422 -4,403 3,394 -7,400 -27,420zM37,409 48,404 102,353 107,342 96,347 42,398zM96,428 127,404 165,371 192,343 161,367 123,401zM-72,270 -54,258 -2,213 12,198 -5,210 -57,255zM67,534 79,526 104,502 113,491 101,499 76,522zM-15,838 5,821 53,772 69,751 49,768 1,818zM133,341 151,327 189,286 202,268 184,282 146,322zM83,642 101,633 167,583 179,568 161,576 96,626zM9,1067 36,1051 76,1020 97,998 71,1014 31,1045zM82,296 97,287 110,276 121,262 106,271 93,282zM45,769 65,761 83,748 97,732 77,740 59,753zM92,202 106,196 155,153 162,140 149,146 100,189zM114,680 126,673 203,606 212,595 200,602 123,669zM17,1128 24,1125 57,1096 61,1090 55,1093 22,1122zM60,974 89,952 123,920 148,893 119,915 84,947zM39,867 60,855 118,815 137,800 115,811 57,851zM-74,651 -60,644 12,591 22,580 8,586 -64,639zM44,641 62,627 88,600 102,582 85,597 58,623zM72,521 81,515 145,465 152,457 143,462 79,513zM60,230 76,225 103,204 113,190 97,196 70,217zM-35,446 -14,436 6,419 18,399 -3,409 -22,426zM111,867 130,854 172,819 188,802 169,815 127,850zM143,605 153,603 179,576 182,566 172,569 146,596zM17,216 27,213 43,199 49,190 38,193 22,207zM57,355 72,344 85,330 96,315 82,327 68,340zM-66,1142 -44,1127 8,1082 26,1062 3,1077 -48,1121zM46,355 80,327 108,298 135,263 101,291 73,320zM-47,1177 -36,1173 -8,1150 -2,1139 -13,1143 -41,1167zM181,836 189,835 215,808 216,800 208,801 182,828zM-34,306 -10,288 31,245 48,221 24,240 -16,282zM24,638 31,636 59,614 63,607 55,609 28,632zM-23,518 -1,502 20,483 39,464 18,481 -4,499zM165,764 186,747 206,727 224,706 203,723 183,743zM-55,411 -17,392 59,329 85,296 47,315 -29,378zM154,25 156,18 157,-26 154,-33 152,-26 151,18z"/><path fill="#8030b0" d="M150,167 180,145 221,108 245,81 216,103 175,140zM140,908 157,896 181,876 196,861 178,873 154,893zM103,242 122,235 145,216 156,198 137,206 114,225zM165,563 175,560 193,542 197,533 188,537 169,554zM159,660 168,659 184,643 185,635 177,636 161,652zM96,616 112,604 139,575 150,558 134,570 106,599zM17,855 23,855 52,831 53,825 47,825 18,849zM25,487 50,468 96,426 118,404 94,423 47,465zM143,367 164,350 181,334 197,312 176,328 159,345zM46,568 60,557 103,517 115,504 101,514 57,555zM66,812 75,811 88,801 90,792 81,793 68,804zM78,248 91,240 127,215 138,205 125,213 89,238zM128,434 149,417 196,373 214,353 193,370 146,414zM88,748 115,730 165,693 190,673 163,691 113,728zM-3,938 19,925 47,905 67,889 45,902 17,922zM154,323 166,318 181,305 187,294 175,299 161,311zM63,122 76,113 114,75 122,62 109,70 71,108zM-45,330 -23,321 42,277 59,260 37,270 -28,313z"/><path fill="#2a0a52" d="M13,90 22,87 38,74 42,66 33,68 17,81zM-1,163 15,154 59,115 69,100 54,109 9,148zM8,268 19,263 51,238 58,228 47,232 14,258zM48,1125 66,1118 79,1109 90,1093 72,1099 59,1109zM165,732 172,727 220,684 225,676 217,680 169,724zM12,200 25,194 70,152 77,140 64,146 19,187zM-24,243 6,219 39,189 66,162 37,186 3,216zM76,1097 88,1088 141,1030 148,1018 137,1027 84,1084zM-74,213 -49,193 -6,154 17,131 -8,151 -52,190zM109,367 128,357 165,330 182,317 163,327 126,354zM-16,303 1,288 53,221 64,201 46,216 -6,282zM-38,937 -13,929 54,876 69,854 44,862 -24,915zM97,327 122,310 166,273 187,250 162,267 118,305zM86,266 98,259 113,247 122,236 110,243 95,255zM-1,369 10,366 39,346 46,337 35,340 6,360zM41,480 71,458 104,427 128,399 99,421 65,452zM-14,367 -5,362 3,355 8,345 -1,351 -9,358zM143,676 159,668 199,628 208,613 192,621 152,661zM47,503 62,495 99,460 109,446 93,454 56,488zM-29,234 -16,228 2,215 11,204 -2,210 -19,224zM44,908 57,900 76,883 86,872 73,880 54,897zM-2,684 4,683 22,662 22,656 16,656 -3,678zM78,178 92,172 137,136 146,124 132,130 87,165zM-6,1104 5,1099 20,1087 27,1078 16,1083 2,1095zM-52,408 -43,407 -8,379 -5,371 -14,371 -49,399zM51,84 55,83 73,66 74,61 70,63 52,80zM2,1166 28,1146 66,1113 88,1089 62,1108 24,1142zM-25,1037 2,1018 36,986 57,960 30,979 -4,1011zM-23,1087 5,1067 34,1037 53,1009 25,1029 -3,1059zM103,188 123,180 145,161 155,142 135,150 114,169zM32,805 51,793 100,754 117,739 97,751 48,789zM102,219 123,209 157,185 174,168 152,179 119,203zM42,605 69,584 108,550 132,526 105,547 66,581zM57,126 73,118 114,88 125,74 109,82 69,112zM-43,870 -39,869 -15,852 -12,848 -17,849 -41,866zM147,742 160,736 194,710 202,698 189,704 156,730zM8,942 37,918 76,883 103,856 74,880 34,916zM77,1031 86,1026 108,1007 115,1000 106,1005 84,1024zM15,834 35,821 94,766 108,746 87,759 29,814zM-62,136 -39,120 -6,93 14,73 -9,90 -42,117zM-40,1045 -20,1031 37,983 54,965 34,979 -23,1027zM-10,1104 23,1079 54,1053 84,1024 51,1049 20,1076zM120,435 133,427 150,412 160,400 147,408 130,423zM16,1055 24,1054 61,1022 63,1014 54,1015 18,1047zM162,151 168,147 189,124 192,118 187,122 166,145zM37,580 60,569 115,528 133,510 110,521 55,561zM40,765 63,749 107,715 128,697 105,712 61,747zM58,776 68,770 130,710 137,700 126,706 64,766zM65,442 76,437 86,428 92,418 81,423 71,431zM65,1071 76,1065 93,1048 98,1036 87,1042 70,1059zM-3,159 25,136 48,112 71,83 43,107 20,130zM-41,1058 -22,1045 12,1015 27,997 8,1010 -26,1041zM110,180 120,176 131,165 135,154 124,158 114,169zM-34,951 -12,936 79,856 96,836 74,851 -17,931zM158,437 168,433 207,401 213,391 203,396 164,428zM15,667 32,653 65,619 77,600 60,614 28,649zM-29,1173 -18,1166 25,1126 33,1115 21,1122 -22,1161zM-37,391 -25,383 10,350 19,338 6,346 -28,379zM166,159 175,156 202,137 209,130 199,133 172,152z"/><path fill="#3036b8" d="M43,342 52,341 72,329 77,320 68,321 48,334zM-21,871 -10,866 21,836 26,825 15,830 -16,860zM-31,1002 -21,998 9,972 13,962 3,965 -27,992zM109,412 139,386 165,358 190,326 159,352 133,380zM170,393 189,380 210,364 226,349 207,361 187,377zM144,287 153,285 172,267 175,258 166,261 147,278zM156,372 167,369 184,355 189,345 178,348 161,361zM50,871 73,851 116,809 137,785 113,805 70,848zM-9,190 6,183 29,160 37,145 22,153 -1,176zM-9,377 3,369 62,317 71,306 59,314 -0,366zM117,403 124,402 147,378 148,371 140,372 118,395zM61,275 73,267 112,229 120,216 108,224 69,263zM156,140 163,137 198,113 203,108 196,111 161,134zM39,931 51,926 121,865 127,854 115,859 46,920zM43,791 84,759 122,723 157,683 115,715 77,751zM-1,839 16,824 51,786 65,768 48,783 13,821zM13,561 33,545 69,510 84,490 64,505 28,541zM-35,69 -27,64 5,38 10,31 3,35 -29,62zM12,533 25,524 38,511 47,499 35,508 22,521zM135,185 164,167 202,137 225,112 196,130 159,160zM-4,867 13,858 25,847 35,831 18,840 6,851zM-1,994 15,988 51,958 61,945 45,951 9,980zM81,553 90,548 121,520 127,512 118,517 87,545zM-41,694 -17,672 23,630 44,605 20,627 -20,669zM140,906 152,899 177,881 186,872 174,878 150,896zM106,463 118,459 142,437 147,426 136,431 112,453zM138,410 150,406 207,360 213,350 202,353 144,400zM20,182 34,177 86,138 95,126 81,131 29,170zM71,853 82,847 94,836 102,827 92,834 80,844zM-19,279 -9,275 1,266 6,256 -5,260 -14,269zM167,401 174,398 193,382 197,375 189,378 171,394zM123,529 135,524 145,515 151,503 139,508 129,517zM38,246 52,235 105,180 116,165 102,176 48,231zM-54,91 -45,87 6,45 12,37 3,42 -48,83zM14,503 29,496 59,469 68,455 53,462 22,489zM-29,794 -10,783 24,753 37,737 19,748 -15,777zM161,647 169,642 203,614 210,607 201,612 167,640z"/><path fill="#6a1cb0" d="M115,984 131,977 149,963 160,950 144,957 127,971zM43,765 54,759 81,736 89,726 78,732 51,755zM-49,290 -29,281 15,247 29,230 8,239 -35,273zM62,597 69,596 97,571 99,564 93,566 65,591zM-8,363 19,347 73,307 95,285 68,301 14,341zM-12,974 5,966 33,943 45,928 27,936 -1,959zM-31,258 -18,251 19,219 28,207 15,213 -23,246zM117,226 132,217 166,187 177,173 162,182 128,212zM184,1114 192,1092 209,1030 213,1006 205,1028 188,1091zM100,567 114,562 189,518 201,509 187,515 112,558zM94,1119 100,1112 129,1049 131,1039 125,1047 96,1110zM99,281 111,274 123,264 130,252 117,259 106,269zM-45,64 -30,59 7,32 16,20 2,25 -35,52zM101,205 117,195 158,156 169,140 152,150 111,189zM125,16 126,6 127,-13 125,-23 123,-14 123,6zM-52,202 -44,200 2,163 7,156 -2,158 -48,194zM133,1112 139,1097 144,1079 146,1064 140,1078 135,1096zM138,387 154,384 208,335 212,318 195,321 142,371zM-21,653 -5,646 50,601 60,587 44,595 -10,640zM1,184 13,179 43,152 48,141 37,145 6,172zM162,777 176,770 224,724 232,710 218,717 170,763zM85,540 111,526 148,497 167,475 142,489 105,519zM74,754 99,740 132,716 153,697 129,711 95,735zM79,581 89,575 140,530 148,521 138,527 86,572zM58,214 75,202 107,171 119,153 102,165 70,197zM134,1163 139,1152 153,1062 152,1049 146,1061 132,1151zM36,1017 62,1004 106,970 125,947 99,960 55,994zM-32,141 3,117 32,93 62,63 27,87 -2,111zM162,811 179,802 215,771 226,755 209,764 173,795zM-44,732 -9,707 21,681 50,650 16,675 -15,701zM-16,910 1,898 42,866 58,852 40,863 -1,895zM67,155 89,141 115,121 135,103 112,117 86,137zM-45,651 -35,646 16,605 23,596 14,601 -37,642zM-17,865 -9,864 7,850 9,843 2,844 -15,857zM85,824 100,816 152,772 162,759 148,767 96,811zM-14,91 12,76 35,59 57,38 31,53 8,70zM59,239 74,229 92,212 103,199 88,209 70,226zM-52,377 -39,369 -18,353 -8,342 -21,350 -41,367zM71,1163 78,1153 114,1078 118,1066 111,1077 75,1151zM5,289 15,284 67,223 71,212 61,217 8,278zM-21,306 -9,299 1,289 8,279 -3,286 -13,295zM-0,974 30,954 72,922 99,898 69,918 27,950zM58,1031 77,1021 111,992 125,975 106,986 72,1014zM145,911 157,905 228,834 234,822 222,828 151,899zM148,969 158,964 179,942 184,932 174,938 153,959zM106,576 116,570 158,533 165,524 154,529 112,566zM-65,715 -41,699 -3,666 16,645 -8,660 -46,693zM38,435 60,421 94,393 112,376 91,389 56,417zM62,340 75,335 98,313 105,300 92,306 69,328zM74,318 89,309 137,263 146,248 131,257 83,303zM65,223 89,206 122,177 143,156 119,173 86,202zM45,987 81,956 128,908 159,872 123,903 76,951zM47,146 69,131 93,108 109,87 88,103 64,126zM126,226 140,218 184,184 196,172 182,181 137,215zM84,666 101,658 141,629 154,615 137,623 97,653zM-10,515 2,507 63,454 72,444 61,452 -1,505zM-53,1119 -41,1111 19,1049 27,1038 16,1046 -45,1107zM72,520 96,506 119,486 137,465 113,479 90,498zM26,526 32,523 63,496 66,489 59,492 29,519zM88,739 104,730 128,714 142,702 126,711 102,727zM94,781 100,779 120,764 124,759 118,761 98,776zM68,514 83,506 145,453 155,440 140,448 78,500zM199,115 201,108 204,73 202,66 199,73 197,108zM25,861 34,856 81,816 86,807 77,812 31,853zM96,946 103,944 118,931 121,924 114,926 99,940zM60,900 74,895 122,857 131,844 117,850 68,887zM36,771 53,755 74,731 87,712 70,728 49,752zM-17,623 1,614 15,602 26,585 8,595 -5,606zM126,30 127,17 127,6 126,-7 124,6 124,17zM16,846 28,837 46,818 53,804 41,813 23,833zM47,995 52,994 68,978 68,973 63,973 47,990zM145,941 155,935 167,924 173,913 162,919 151,930zM10,843 18,842 35,827 37,819 29,820 11,835zM-32,988 -17,981 5,963 15,950 1,958 -21,976z"/><path fill="#a04a10" d="M18,520 29,514 57,489 65,479 54,485 26,510zM-18,140 -10,137 24,108 28,100 20,103 -14,132zM29,295 49,278 69,259 87,239 66,256 47,275zM35,636 53,627 77,611 92,597 74,606 49,622zM-38,554 -7,537 28,511 54,487 23,504 -13,530zM-4,105 6,99 30,77 36,68 26,73 3,95zM31,497 51,481 73,462 91,443 70,459 49,478zM-16,848 10,828 53,791 75,767 49,787 7,824zM159,389 168,385 202,349 206,340 197,344 163,380zM-16,937 4,922 59,865 73,844 53,859 -2,917zM155,444 165,440 179,428 185,418 175,422 160,434zM164,649 169,647 184,633 187,628 181,630 167,644zM149,601 160,594 201,552 207,541 196,547 155,590zM77,477 90,468 113,444 121,430 108,438 85,463zM32,522 61,510 133,449 150,423 121,435 49,496zM96,887 103,883 118,868 123,862 116,866 101,880zM163,719 174,715 187,703 192,692 180,696 168,708zM109,468 126,458 187,402 199,386 182,396 121,453zM-28,254 -18,252 -4,239 -1,230 -11,232 -24,245z"/><path fill="#5a1040" d="M-29,1119 -10,1107 27,1072 39,1053 20,1065 -17,1100zM122,545 132,539 199,476 205,466 195,472 129,535zM-30,221 0,205 39,179 66,157 35,173 -4,198zM-7,756 14,745 70,699 85,680 64,692 8,738zM-53,824 -46,820 -4,785 1,779 -6,782 -49,817zM118,659 130,652 166,625 176,615 164,622 128,649zM11,582 23,577 85,528 92,518 81,523 19,572zM-27,414 -4,399 40,358 57,336 34,352 -9,393zM155,864 178,848 201,827 220,807 197,823 174,843zM134,1011 150,994 163,978 178,960 161,977 148,992zM122,368 138,355 158,336 171,320 155,332 135,352zM106,1026 118,1021 126,1013 132,1002 121,1007 112,1015zM15,873 49,847 124,781 154,750 119,776 45,842zM-22,369 5,354 44,323 65,301 38,316 -1,347zM-99,519 -68,510 29,452 53,430 22,439 -76,497zM136,225 141,224 158,210 159,206 155,207 138,221zM34,104 51,96 89,62 99,46 82,54 44,88zM-22,1169 -1,1160 71,1095 82,1075 61,1084 -11,1149zM-16,1209 -1,1200 35,1170 46,1156 31,1165 -4,1196zM156,927 178,911 214,875 231,853 209,869 172,905zM150,185 155,184 174,168 175,163 170,164 152,180z"/><path fill="#30b050" d="M88,1003 106,994 178,942 193,928 175,938 103,990zM17,999 25,997 45,978 47,971 39,972 19,991zM193,1238 199,1219 209,1154 209,1134 203,1154 194,1218zM145,1037 152,1028 171,979 172,967 164,976 146,1025zM104,1169 112,1146 131,1078 136,1053 127,1077 109,1145zM86,1205 90,1198 95,1141 93,1133 89,1140 84,1197z"/><path fill="#b83418" d="M119,800 136,788 187,735 198,718 181,730 131,783zM180,939 190,933 221,902 228,892 218,898 187,929zM142,812 164,797 193,771 209,750 187,764 158,790zM-29,740 -18,736 2,718 6,708 -4,712 -24,730zM-20,696 -4,684 47,636 60,621 44,633 -7,681zM81,702 93,696 142,660 151,649 139,655 90,691zM155,451 173,441 225,391 236,373 219,384 166,434zM109,203 122,196 162,158 170,146 157,153 117,191zM137,160 160,142 201,102 219,80 197,98 156,137zM14,856 21,855 43,837 45,830 38,831 16,849zM77,310 93,299 125,270 139,255 122,267 90,295zM52,582 64,579 73,571 80,561 68,565 59,572zM83,233 95,227 120,202 126,190 114,196 89,221zM70,622 86,614 127,582 139,569 123,577 82,609zM-28,130 -15,124 5,105 12,92 -1,98 -21,117zM123,318 146,303 180,277 201,258 178,273 144,299zM35,595 56,581 75,562 89,541 68,555 49,574zM20,216 43,208 68,188 80,167 57,175 32,195zM81,899 96,888 133,856 147,843 131,854 94,886zM24,605 53,587 77,566 100,542 72,560 47,580zM-37,211 -25,204 22,168 31,158 20,165 -27,202zM126,219 160,197 194,169 223,140 189,163 155,190z"/><path fill="#501040" d="M155,1199 158,1192 164,1142 163,1135 160,1142 154,1192zM91,1214 95,1187 98,1149 99,1121 94,1148 91,1186zM181,1216 184,1209 191,1164 190,1157 187,1164 180,1208zM154,1196 161,1170 172,1109 176,1083 169,1109 157,1169z"/><path fill="#30c050" d="M172,93 175,85 176,75 175,67 172,75 171,85zM161,59 162,57 161,44 159,42 158,44 159,57zM105,29 107,16 107,5 105,-7 103,5 103,16zM102,31 105,28 107,12 105,8 102,12 100,27zM-6,18 -3,12 -2,-7 -4,-13 -7,-8 -8,12zM184,32 185,22 184,10 182,1 181,10 182,22z"/><path fill="#e08090" d="M5,20 8,10 9,-12 7,-23 5,-13 4,10zM35,22 36,16 36,-1 35,-7 34,-1 34,16zM188,35 190,32 192,9 191,6 189,9 187,32zM65,775 77,769 103,752 113,742 101,748 75,766z"/><path fill="#d25a30" d="M82,514 107,501 149,468 168,447 144,460 101,494zM-31,353 -19,347 40,293 46,282 35,288 -24,342zM178,906 187,904 203,891 206,882 197,884 182,897zM112,259 118,257 135,244 138,238 131,240 115,253zM40,538 51,529 73,502 79,488 67,497 46,525zM-26,742 -16,736 49,677 57,667 46,673 -19,732zM-76,316 -49,302 38,233 57,209 30,223 -56,293zM-11,402 20,392 78,352 98,326 67,336 9,376zM8,467 20,463 37,449 44,438 31,442 14,456zM-22,135 -4,127 35,97 47,82 29,90 -10,120zM95,429 115,422 236,340 249,323 229,330 109,412zM71,119 88,113 121,87 132,72 115,78 82,104zM82,786 90,783 148,747 154,741 146,744 89,780zM-35,391 -8,373 30,341 51,317 24,335 -13,367zM-3,715 10,706 40,682 51,671 38,680 8,704zM111,340 136,325 162,302 181,280 156,295 130,318zM41,298 54,289 70,277 82,265 68,274 52,287zM41,1018 55,1015 81,988 84,974 71,978 44,1005zM108,798 127,785 163,753 179,736 160,749 123,780zM-32,849 -13,833 21,798 36,778 17,794 -17,829zM-49,435 -29,423 12,386 27,368 7,381 -34,417zM9,1054 17,1052 64,1018 68,1012 60,1014 14,1047zM1,708 17,697 34,682 46,666 30,677 13,693zM32,357 42,351 80,318 87,309 76,315 39,347zM137,581 164,564 206,527 227,502 200,520 158,557zM65,199 89,184 115,163 135,143 111,158 85,179zM-41,806 -32,801 13,763 19,754 10,759 -35,798zM10,588 34,571 59,548 77,525 53,542 28,565zM1,185 23,168 69,118 84,95 62,111 16,162zM-23,480 2,461 45,419 64,395 40,414 -3,456zM84,798 103,788 126,767 139,750 121,761 98,782zM50,351 57,346 73,330 77,322 70,327 54,343zM79,408 103,390 123,373 143,350 118,368 98,386zM9,430 20,422 80,365 88,354 77,361 17,419z"/><path fill="#40b060" d="M162,330 183,317 221,285 237,266 216,279 178,311zM37,538 48,532 58,522 63,510 52,516 42,526z"/><path fill="#d06070" d="M33,1051 50,1038 85,1002 98,986 81,999 46,1034zM107,1229 113,1213 130,1136 132,1118 126,1135 108,1212zM71,1024 78,1021 95,1006 99,999 92,1002 75,1017z"/><path fill="#80c870" d="M76,53 78,51 78,36 76,34 75,36 75,51zM41,1177 60,1149 84,1109 99,1079 80,1106 56,1147zM-77,984 -50,970 -3,940 20,920 -7,934 -54,964zM-83,1059 -50,1038 14,979 37,946 3,967 -60,1027zM131,31 133,22 132,-3 129,-12 127,-3 128,23zM141,65 142,58 142,52 141,45 140,52 140,58z"/><path fill="#40b0c0" d="M107,579 132,559 174,517 194,492 169,512 127,553zM72,535 82,530 143,479 149,470 139,475 79,526z"/><path fill="#d06080" d="M-15,847 -7,843 35,803 40,795 32,799 -10,839zM43,812 52,809 65,799 70,790 61,793 47,804zM-43,239 -34,237 -5,219 1,212 -8,215 -37,233zM105,633 124,625 159,600 173,586 155,594 119,619zM66,604 76,601 107,572 111,562 101,566 70,594zM-51,177 -19,159 18,133 46,110 14,128 -23,154zM-35,575 -10,561 25,534 45,515 21,529 -14,555zM-0,114 10,109 26,95 33,86 23,92 7,105zM51,857 80,839 127,803 153,780 124,798 77,834z"/><path fill="#a080d0" d="M184,48 186,42 187,11 186,5 184,11 183,42z"/><path fill="#30b8c8" d="M169,114 169,100 167,69 165,55 164,69 166,100zM187,26 191,11 193,-5 195,-21 191,-5 188,10zM193,136 196,126 198,98 197,87 195,98 192,125z"/><path fill="#8090c0" d="M188,1140 194,1128 203,1089 202,1075 195,1087 187,1127z"/><path fill="#30c050" d="M69,38 71,30 71,22 70,13 67,22 67,30zM42,36 44,32 43,19 40,16 38,19 39,33zM191,52 192,45 191,27 189,21 188,27 189,45zM87,98 90,86 93,67 93,54 90,66 87,85zM123,70 125,64 126,50 125,43 124,49 123,63zM145,54 147,43 146,23 144,12 143,23 143,43z"/><path fill="#d06080" d="M28,227 42,220 96,181 107,170 93,176 38,216zM-56,634 -43,632 14,583 18,570 5,572 -53,621zM-52,301 -33,289 -18,276 -3,259 -22,271 -37,285zM-9,184 7,175 21,163 33,149 17,158 3,170zM28,577 52,560 95,520 114,496 89,513 46,554zM-49,743 -18,717 14,689 42,660 11,686 -20,715zM141,600 171,580 211,549 238,525 208,545 168,575zM3,830 12,827 47,797 51,789 43,793 8,822zM7,703 20,696 58,664 67,653 54,659 16,691zM164,317 185,308 219,284 235,267 214,277 180,301zM3,804 28,789 49,770 68,748 43,764 22,782z"/><path fill="#6a1cb0" d="M-66,966 -45,951 -6,914 9,893 -13,908 -51,945zM12,312 27,307 60,278 67,264 52,269 19,298zM18,137 27,135 62,108 66,100 57,101 22,129zM88,644 110,633 128,620 144,602 122,612 104,626zM60,1052 76,1045 139,996 150,983 135,990 71,1038zM101,320 116,310 169,268 183,255 167,265 114,307zM120,522 147,503 169,481 189,455 162,474 140,496zM185,1131 192,1098 198,1045 198,1011 191,1044 186,1098zM-27,773 -4,758 16,743 36,724 13,739 -7,754zM196,77 199,72 200,32 198,27 196,32 195,72zM30,1003 47,990 64,974 77,957 60,970 43,986zM58,629 86,607 125,573 150,548 122,570 84,604zM64,1000 74,994 110,961 118,952 108,958 71,991zM-42,970 -37,969 -14,948 -12,944 -17,945 -41,965zM57,920 67,914 79,903 87,894 77,901 64,912zM30,1162 52,1142 94,1097 112,1073 90,1094 49,1139zM8,654 15,650 30,637 35,630 27,634 12,647zM103,684 124,671 146,655 163,637 141,649 120,666zM-40,430 -33,426 -16,411 -12,404 -19,408 -35,424zM94,940 110,928 148,892 160,878 145,890 107,926zM64,1220 70,1202 84,1136 86,1117 80,1135 66,1201zM72,353 93,336 113,318 130,298 109,315 90,333zM151,766 177,748 226,708 249,686 223,704 174,745zM-72,942 -53,927 12,855 25,834 6,849 -59,922zM172,687 195,671 218,649 237,628 214,645 191,666zM168,516 175,513 191,499 195,493 189,496 172,510zM14,171 25,163 34,154 43,144 32,151 23,160zM-40,924 -6,896 24,868 55,836 21,864 -9,892zM89,451 99,446 115,433 123,425 113,430 97,443zM57,375 79,362 136,314 153,294 130,307 73,355zM17,45 18,40 17,16 16,11 15,16 15,40zM26,349 58,332 99,305 125,281 94,297 53,325zM116,687 141,673 168,651 187,630 163,644 135,666zM-18,467 -12,464 6,448 10,443 4,446 -14,462zM172,14 173,8 174,-8 173,-14 171,-8 170,8zM52,903 70,892 89,877 104,862 85,873 67,887zM10,856 18,853 36,838 40,830 32,834 14,849zM-11,482 1,476 15,464 22,452 9,458 -4,470zM-28,754 0,740 54,691 70,664 42,678 -12,727zM-27,554 -7,542 33,510 48,493 28,505 -11,537zM50,374 69,361 88,343 102,324 83,338 64,355zM-30,1106 -10,1097 12,1082 26,1067 7,1075 -15,1090zM150,562 159,556 221,503 228,494 219,500 157,553zM141,476 162,462 197,425 211,404 191,419 155,455zM68,693 93,671 116,648 137,623 112,645 90,667zM72,122 79,116 94,99 99,92 92,97 77,114zM30,663 40,659 82,625 88,615 78,619 36,654zM45,357 64,345 81,328 94,310 76,322 58,339zM85,327 97,319 127,291 135,280 124,287 94,316zM-69,1006 -42,996 52,919 68,895 41,905 -54,982zM34,629 44,624 71,601 77,592 68,597 40,620zM74,261 83,257 105,237 110,229 101,233 79,253zM-49,909 -22,895 25,860 47,839 20,854 -27,888zM-48,275 -5,248 39,210 72,172 29,198 -15,236zM188,112 189,106 189,92 187,86 186,92 186,106zM-15,358 2,345 17,330 31,314 14,327 -1,342zM186,1189 191,1167 195,1120 195,1097 190,1119 186,1167zM156,111 160,100 162,73 160,62 156,73 154,100zM194,1139 199,1128 204,1094 202,1082 197,1093 192,1127zM87,453 105,442 130,423 144,407 126,418 101,437zM61,132 88,119 134,84 154,61 127,73 80,109zM-31,884 -12,871 38,823 52,804 33,817 -18,865zM42,289 73,263 108,232 136,203 105,229 70,260zM54,1108 66,1102 115,1054 122,1042 110,1049 61,1096zM88,481 99,474 157,423 166,413 155,420 97,471zM53,1038 62,1033 79,1016 85,1008 76,1013 58,1030zM40,949 52,944 104,907 112,898 101,903 49,940zM45,954 64,939 119,880 132,860 113,874 58,934zM-24,222 3,203 37,173 59,148 32,167 -2,198z"/><path fill="#c83070" d="M-11,26 -10,20 -9,2 -10,-4 -11,2 -12,20zM178,52 180,49 181,29 178,26 176,29 175,49zM167,930 185,918 213,892 226,875 208,887 180,913zM142,1091 148,1076 169,983 170,967 163,982 142,1074zM180,1163 185,1136 191,1068 190,1041 184,1067 178,1136zM152,96 154,84 154,53 153,40 151,53 151,84zM118,1045 125,1041 139,1022 141,1014 134,1019 120,1037zM88,31 90,13 87,-12 82,-29 81,-11 84,14zM165,73 169,63 169,49 167,38 164,49 163,62zM-47,228 -25,219 39,178 55,162 34,171 -30,212zM52,443 61,442 90,418 92,410 84,410 54,435zM-47,1179 -22,1171 20,1135 33,1112 8,1120 -34,1156zM77,1097 97,1078 144,1024 161,1001 140,1020 93,1074zM88,422 103,413 132,387 141,373 126,381 98,407zM-10,1067 10,1055 52,1026 70,1011 49,1022 8,1052zM90,1086 117,1058 138,1030 159,997 132,1026 111,1053zM179,1222 184,1212 196,1163 196,1152 191,1162 179,1211zM196,1092 201,1073 209,1027 211,1007 205,1026 198,1072zM-5,1120 15,1109 77,1056 92,1039 73,1050 10,1103zM9,1141 27,1130 40,1117 53,1100 35,1112 22,1124zM124,1189 131,1163 137,1126 139,1098 132,1125 126,1162zM116,1162 121,1139 136,1067 139,1044 133,1067 119,1138zM184,1111 187,1101 189,1078 189,1067 186,1078 183,1100zM65,975 76,972 92,959 97,948 85,951 70,965zM-48,757 -31,749 -14,733 -4,717 -21,726 -38,742zM65,1223 71,1203 79,1165 82,1144 76,1164 68,1202zM153,1007 163,996 181,968 187,953 177,965 159,993zM-66,1014 -39,997 12,956 34,933 7,950 -43,991zM-59,1001 -42,989 -13,962 -1,945 -18,957 -46,985zM-14,942 2,932 61,875 71,859 55,868 -4,926zM-17,453 -6,449 61,392 66,382 55,386 -12,443zM175,178 186,172 222,145 231,137 220,142 183,169zM60,488 71,487 97,470 103,461 92,463 66,479zM132,757 149,748 181,720 193,706 177,715 144,743zM-45,304 -18,281 11,253 36,227 9,250 -20,278zM-32,225 -26,222 -9,205 -6,199 -12,202 -30,219zM143,563 171,541 202,509 223,481 195,503 164,534zM118,994 137,980 182,938 198,921 179,935 134,977zM-36,605 -10,589 16,568 36,545 10,560 -16,582zM177,1024 183,1003 195,954 200,932 193,953 181,1002z"/><path fill="#c84424" d="M57,286 78,273 108,248 125,231 105,244 74,269zM4,1059 22,1050 62,1017 73,1001 55,1009 15,1043zM-28,519 7,498 41,475 73,451 38,471 5,494zM14,789 28,782 101,717 109,705 96,712 23,776zM112,1162 118,1142 135,1058 137,1038 131,1057 114,1142zM-84,440 -59,427 20,355 34,332 9,344 -69,417zM106,624 114,623 130,608 132,601 125,602 108,617zM126,200 153,185 186,162 209,141 181,156 149,179zM123,520 131,514 176,465 182,456 173,463 129,511zM113,56 115,43 115,29 113,16 111,29 111,43zM-85,118 -55,102 9,41 27,12 -3,29 -67,89zM120,1156 126,1146 138,1100 137,1087 130,1098 119,1144zM-18,86 4,70 28,49 46,29 24,45 1,66zM-36,261 5,235 71,185 107,152 66,178 0,228zM65,474 86,462 125,429 141,411 120,424 81,456zM40,341 46,340 62,324 63,318 57,319 41,335zM131,730 146,720 158,708 168,694 154,704 142,716zM-28,639 -17,635 4,618 9,608 -1,612 -22,630zM-25,645 10,618 39,592 68,559 33,586 5,613zM52,315 62,312 105,276 110,267 100,271 57,306zM37,927 49,922 66,909 74,898 62,903 45,916zM35,206 52,196 98,161 112,147 95,157 49,192zM2,576 25,561 57,535 76,516 53,531 21,556zM10,143 44,111 104,41 131,2 96,35 37,104zM-48,302 -36,294 -7,267 1,255 -11,263 -40,291zM185,1108 190,1090 198,1045 199,1027 194,1044 186,1089zM146,152 169,142 202,117 219,99 197,110 163,134zM35,448 48,446 78,415 80,402 67,405 37,436zM43,333 71,314 99,289 121,264 93,283 65,307zM-9,10 -6,3 -5,-15 -6,-23 -8,-16 -10,3zM-19,819 -2,812 58,768 70,755 54,762 -7,806zM155,1161 158,1152 160,1131 158,1122 155,1131 153,1152zM98,219 111,211 142,183 152,171 139,179 108,207zM-66,948 -51,947 9,901 14,887 -2,887 -62,933zM136,716 148,710 167,693 176,683 165,690 145,707zM77,196 89,190 116,169 124,158 112,163 85,185zM49,161 88,132 153,74 186,39 148,68 82,126zM84,275 98,265 126,239 136,225 123,235 95,262zM-2,820 8,818 27,802 30,792 20,794 1,811zM-69,589 -45,572 -2,531 17,509 -7,526 -50,567zM42,870 53,863 81,835 88,824 76,831 49,858zM-37,801 -21,791 24,752 35,737 19,746 -25,786zM121,805 135,799 187,754 195,740 180,746 128,792zM84,522 92,520 108,505 111,498 103,500 87,514zM45,794 58,787 117,740 127,730 115,737 55,783zM-18,1003 13,987 56,958 82,934 50,950 8,979zM146,1140 151,1124 156,1071 155,1053 149,1070 144,1123zM125,244 143,233 201,179 212,161 194,172 137,227zM142,1144 146,1131 158,1076 160,1062 155,1075 143,1131zM-8,260 15,247 56,213 74,193 50,206 9,240zM39,1013 51,1007 96,966 103,955 91,961 46,1002zM49,421 58,416 72,404 78,396 69,401 55,412zM148,478 168,462 222,415 240,397 220,413 166,460zM-12,901 2,891 32,866 43,853 29,863 -0,888zM-26,780 17,743 59,704 97,662 54,698 13,738zM95,452 110,445 141,420 150,406 135,412 104,438zM35,853 51,843 64,831 74,814 57,824 44,836zM135,619 148,611 164,598 175,587 161,595 145,608zM7,902 20,894 56,866 66,856 54,863 18,892zM-6,458 0,458 25,435 26,428 20,428 -6,452zM54,1069 79,1045 109,1014 132,988 106,1011 76,1042zM172,550 194,533 216,516 236,498 214,514 192,531zM129,631 143,626 162,611 170,599 157,604 137,619zM62,463 73,457 135,403 143,393 132,399 70,452zM156,1166 166,1132 172,1099 175,1064 166,1097 159,1131zM-4,71 4,69 23,51 25,43 17,45 -2,63zM119,887 149,860 176,832 202,802 172,829 145,857zM-15,604 14,581 48,551 74,525 45,548 11,578zM-16,332 3,318 22,303 38,287 19,300 0,315zM136,587 144,583 168,563 174,556 165,560 142,579zM98,246 109,241 119,233 127,225 117,230 106,237zM-62,495 -43,482 23,414 35,396 17,408 -49,476zM87,273 96,268 106,258 110,249 101,253 91,264zM62,1233 70,1218 103,1129 105,1112 97,1127 64,1216zM110,1202 116,1194 127,1150 126,1140 120,1148 109,1192zM17,481 28,477 36,468 41,457 30,462 22,470zM74,560 88,552 142,499 151,485 137,494 83,546zM-76,175 -56,167 9,121 23,106 4,114 -61,159zM-21,184 -5,178 11,166 22,152 5,158 -10,170zM27,455 40,449 88,403 95,390 82,397 34,442zM13,986 20,983 34,973 39,967 32,970 18,980zM102,592 118,583 158,554 172,541 155,551 116,580zM176,1178 180,1169 185,1150 185,1140 181,1149 176,1168zM147,470 154,468 173,453 176,447 169,449 151,464zM190,1148 196,1141 207,1103 206,1094 200,1101 189,1139zM149,1124 156,1100 167,1033 168,1008 161,1032 150,1099zM137,379 152,370 218,318 231,305 215,315 150,367zM145,512 166,500 227,460 246,446 225,457 164,498zM-34,595 -19,588 3,567 11,553 -3,560 -26,581zM55,481 71,473 118,433 128,418 112,426 65,466zM-5,1254 27,1218 66,1160 86,1117 55,1153 16,1211zM99,366 104,366 124,351 125,346 120,346 100,361zM52,786 73,768 104,739 123,718 102,736 70,765zM148,695 157,691 186,665 190,656 181,660 152,686zM-36,393 -15,384 46,340 62,323 41,332 -20,376zM-15,789 8,771 51,733 71,712 48,730 6,768zM-29,239 -15,233 68,157 75,143 61,149 -22,225zM46,716 55,710 101,670 108,661 98,666 52,707zM-46,742 -36,739 -11,718 -7,708 -17,711 -42,732zM5,443 29,428 69,397 89,377 65,391 25,423z"/><path fill="#a81a12" d="M92,542 104,535 157,488 165,477 153,484 100,531zM-39,1082 -26,1074 36,1018 46,1005 32,1014 -29,1070zM-36,139 -30,138 -5,114 -4,109 -10,110 -35,134zM156,918 178,903 229,863 249,846 227,861 176,900zM180,837 184,836 201,820 202,816 198,817 182,833zM27,357 57,332 93,298 119,268 88,293 53,327zM114,531 124,527 150,505 156,496 146,500 120,521zM97,802 108,798 132,777 136,767 126,771 102,792zM100,369 122,356 174,315 192,297 170,310 117,351zM13,871 27,866 50,849 58,836 44,841 21,858zM168,959 178,949 209,914 217,902 207,912 176,947zM19,173 26,170 60,136 64,128 57,132 23,166zM-38,964 -30,963 16,932 20,925 11,926 -34,957zM74,497 103,480 166,428 189,404 161,421 97,473zM24,367 36,358 52,343 62,332 50,341 34,356zM72,1144 82,1126 92,1104 100,1085 90,1103 80,1124zM68,479 94,462 132,432 155,412 129,429 91,458zM162,408 173,405 209,379 215,370 204,373 168,399zM41,214 52,206 69,189 77,178 67,186 49,203zM90,253 111,237 159,191 176,170 155,187 107,233zM94,1039 124,1014 158,983 186,956 156,981 122,1012zM-40,841 -34,839 -9,821 -5,816 -11,818 -36,836zM148,811 159,808 183,792 190,783 179,786 155,802zM5,745 10,743 27,727 30,722 24,724 7,740zM23,431 30,432 47,419 49,411 41,411 24,424zM151,486 167,473 230,411 243,396 227,408 164,470zM-69,776 -41,760 -6,729 15,704 -13,720 -49,751zM134,1141 143,1114 153,1065 156,1037 147,1064 137,1113zM-23,487 -4,474 43,434 58,417 39,430 -8,470zM18,267 37,260 76,232 90,217 71,225 32,252zM113,702 126,695 158,663 164,650 152,657 119,689zM10,534 27,522 53,502 68,488 51,499 25,520zM-21,680 -11,678 21,653 25,645 16,647 -16,672zM29,590 56,569 86,539 106,513 80,533 50,563zM123,74 126,72 127,61 125,58 122,60 121,72zM-4,702 15,690 48,665 64,649 45,661 13,686zM137,195 158,180 190,151 208,133 188,149 155,177zM-4,293 12,290 72,235 76,219 60,222 0,277zM34,827 40,826 56,814 58,808 52,808 36,821zM75,563 87,558 122,526 129,515 117,520 81,552zM147,1176 158,1147 172,1089 176,1059 165,1088 150,1145zM129,130 139,129 159,112 162,103 153,104 133,121zM65,189 79,181 121,145 130,133 117,141 75,177zM133,828 152,820 194,788 208,772 189,781 147,813zM167,1148 171,1144 176,1116 174,1111 170,1115 165,1143zM47,395 64,390 80,379 91,366 75,372 59,382zM129,1082 137,1067 164,992 167,975 158,990 132,1065zM-4,1038 8,1033 59,986 65,975 53,980 2,1027zM-50,758 -32,748 10,716 26,703 8,713 -34,745zM-12,463 3,454 21,437 31,422 16,431 -2,448zM-47,1140 -0,1103 45,1059 82,1014 36,1050 -9,1094zM132,822 143,817 162,797 167,785 155,790 136,810zM10,564 22,558 51,534 59,522 46,528 17,552zM-76,626 -44,605 -8,576 19,548 -13,570 -49,599zM163,215 170,214 196,196 199,189 191,189 165,207zM-30,388 -0,367 31,340 57,314 27,335 -4,362zM115,433 127,425 185,367 193,356 181,364 124,422zM119,554 126,553 144,540 148,534 141,536 123,548zM123,472 139,463 159,444 171,429 154,439 134,457zM46,841 52,841 70,827 72,821 66,821 48,835zM9,757 26,743 41,729 55,713 38,727 23,741zM5,1215 19,1200 37,1178 49,1162 35,1177 17,1198zM70,972 86,967 127,942 139,930 122,935 81,960zM58,1006 67,1005 82,993 86,984 77,986 61,998zM1,293 11,287 28,274 36,264 25,270 8,283zM-54,803 -44,797 0,763 8,755 -1,760 -46,795zM72,840 98,822 122,803 144,781 118,799 95,818zM33,488 44,482 80,447 87,436 76,442 40,477zM111,605 118,602 147,578 151,572 144,575 115,599zM-16,511 -5,507 38,464 42,453 31,457 -12,500zM102,192 106,191 126,173 128,170 124,171 104,188zM63,715 73,708 83,698 90,687 80,695 70,704zM-53,567 -39,557 6,515 18,501 4,512 -41,554zM165,1173 172,1152 177,1116 177,1095 171,1115 165,1152z"/><path fill="#a04a10" d="M78,379 89,371 109,350 116,339 106,348 86,368zM-10,100 7,87 56,38 70,21 53,34 3,83zM31,714 39,709 62,687 68,679 60,685 37,706zM133,549 155,536 172,522 189,503 167,516 150,530zM146,244 166,230 201,193 214,172 194,186 159,223zM-1,765 14,757 30,742 39,728 24,735 8,751zM139,452 177,430 238,375 264,340 226,362 165,417zM21,483 30,482 50,469 54,461 45,462 25,475zM-34,153 -19,143 -2,127 10,114 -5,124 -22,140zM-29,652 1,628 31,602 58,576 28,599 -2,626zM-62,669 -45,658 5,615 19,599 1,611 -48,654zM118,153 123,151 146,134 149,129 143,130 120,148zM103,907 112,905 133,889 137,881 128,883 107,899zM-53,374 -40,375 -2,340 -2,327 -15,326 -53,362z"/><path fill="#40b060" d="M127,215 160,197 196,167 218,137 185,154 150,185zM-32,333 -2,315 26,294 53,270 23,289 -6,310zM169,540 184,534 202,517 207,502 192,508 175,525zM128,251 134,250 152,236 153,230 147,231 130,245zM101,554 130,536 174,500 197,474 168,493 125,529z"/><path fill="#a0a8e0" d="M-58,1179 -35,1166 10,1129 28,1110 6,1124 -40,1160zM30,962 39,958 60,937 64,929 56,934 35,954zM67,1084 89,1066 135,1028 156,1008 133,1025 87,1064zM-51,1089 -32,1081 11,1054 26,1040 7,1047 -36,1075z"/><path fill="#2a0a52" d="M98,440 115,429 164,389 179,375 162,387 113,426zM-32,799 -19,793 15,759 21,746 8,752 -26,786zM-15,159 5,147 64,97 79,79 59,91 1,142zM24,621 59,605 130,555 158,527 123,544 51,594zM47,815 56,811 85,784 90,776 81,779 52,807zM142,193 154,187 183,159 189,148 178,154 149,182zM97,606 127,583 166,548 191,520 161,543 122,578zM-18,705 -11,702 10,684 15,678 8,681 -14,699zM-47,109 -29,95 -8,75 7,57 -11,71 -33,92zM-58,151 -33,142 61,64 74,41 50,50 -45,129zM-7,492 14,478 40,455 56,436 35,450 9,473zM151,299 180,284 210,263 234,241 205,256 175,278zM-35,59 -25,57 16,22 20,13 10,15 -31,50zM-50,370 -30,357 -3,336 14,319 -5,332 -32,354zM170,714 175,712 191,700 194,695 189,697 173,710zM-15,704 2,695 15,683 27,667 10,677 -4,688zM103,453 114,448 135,429 140,418 128,422 108,442zM16,978 28,969 53,945 62,933 50,942 25,966zM97,135 106,134 140,107 144,99 135,100 100,127zM116,491 132,481 195,417 205,401 190,411 126,475zM72,716 78,714 115,683 118,677 112,680 75,710zM-11,1203 6,1192 21,1180 35,1166 18,1177 4,1189zM13,658 26,652 60,626 69,615 57,622 23,647zM100,233 126,217 155,192 173,169 148,185 119,210zM6,207 24,197 46,177 58,160 40,170 18,190zM-15,787 -5,784 33,751 37,741 26,744 -11,777zM-32,1026 -22,1021 15,989 21,980 11,984 -26,1017zM152,523 157,522 180,501 182,496 176,497 153,518zM-13,168 -2,160 44,115 53,104 41,113 -4,157zM7,572 14,572 32,553 32,547 25,547 8,566zM-23,768 -19,768 -1,752 0,748 -4,748 -22,764zM-41,262 -16,247 38,200 56,177 31,192 -22,239zM140,1007 147,1004 162,987 163,979 156,982 141,999zM-44,657 -31,658 -0,635 2,622 -11,621 -41,644zM46,765 61,758 108,723 120,711 104,719 58,753zM65,395 71,392 108,366 112,360 106,362 69,389zM153,971 174,952 207,916 225,894 205,914 171,950zM22,504 32,497 81,450 88,440 78,447 29,495zM80,848 98,841 149,801 161,786 144,794 92,833zM5,1080 18,1071 86,1000 94,986 80,994 12,1066zM55,1032 66,1026 92,1002 100,992 89,999 63,1022zM136,505 155,490 178,465 192,446 173,461 150,485zM158,167 178,152 198,134 215,115 194,130 174,148zM64,814 73,812 118,774 122,766 113,768 68,806zM-21,520 -6,509 37,467 49,452 34,464 -9,505zM93,627 117,609 150,574 167,549 143,567 110,602zM128,268 133,268 156,251 157,245 152,245 129,263zM141,458 164,443 183,426 202,405 178,420 159,437zM114,604 130,598 151,581 161,568 146,574 125,591zM-7,1022 8,1013 51,973 61,958 46,968 3,1007zM32,289 42,282 69,256 77,247 67,254 39,280zM16,291 36,282 79,254 95,240 76,249 32,277zM128,861 143,852 158,839 169,826 155,835 139,848zM-19,371 16,352 52,329 85,305 49,324 13,346zM-57,468 -45,463 -8,430 -2,418 -13,424 -50,457zM164,139 177,134 194,121 203,109 189,114 172,127zM4,635 14,630 24,622 31,612 20,617 10,626z"/><path fill="#5a1040" d="M-75,493 -58,484 4,436 17,421 -0,430 -62,478zM7,165 24,147 63,94 75,72 58,91 19,144zM150,401 170,388 191,369 207,350 187,364 165,383zM140,318 155,312 174,296 183,283 168,289 149,304zM182,291 191,288 209,274 215,267 206,270 188,283zM112,812 120,814 154,789 156,781 147,780 113,804zM154,760 167,753 177,745 187,734 174,741 164,749zM-13,81 8,67 43,37 60,17 38,31 3,61zM-36,583 -19,571 20,535 34,519 17,531 -23,567zM12,1078 29,1065 75,1024 90,1008 73,1021 27,1062zM34,308 62,297 111,260 130,236 102,248 53,284zM153,705 172,694 200,675 217,660 198,672 170,691zM26,332 41,326 61,311 73,298 57,305 37,320zM-28,906 -14,902 3,890 13,879 -1,883 -19,895zM81,786 111,768 142,745 168,722 138,740 107,762zM-31,751 -6,742 74,669 86,646 61,655 -19,728zM52,1117 59,1115 85,1095 88,1088 80,1090 55,1110z"/><path fill="#b83418" d="M145,395 154,392 194,361 198,353 189,355 149,386zM37,482 66,453 97,418 124,387 95,416 63,450zM156,215 168,211 235,167 243,157 231,161 164,205zM141,628 170,612 209,582 232,558 203,574 164,605zM26,416 39,408 53,396 63,384 50,393 37,405zM86,708 97,703 133,677 141,668 130,673 94,699zM31,115 48,108 89,76 100,61 83,69 42,100zM2,665 14,659 42,635 50,624 37,630 10,653zM-64,78 -54,71 -3,25 4,16 -6,22 -56,68zM117,281 135,267 163,239 176,220 158,233 130,262zM-52,798 -39,793 -2,760 5,748 -8,753 -45,786zM-21,458 -3,447 60,388 71,372 54,382 -9,441zM32,162 61,146 95,120 118,97 89,114 56,139zM-62,540 -32,519 -7,500 20,476 -10,496 -35,515zM107,363 132,344 182,281 196,253 171,272 120,335zM-6,261 11,250 46,221 59,205 41,215 6,245zM144,915 169,892 211,851 234,826 209,849 167,890zM-21,327 -3,314 33,278 45,260 27,273 -8,309zM-29,637 -18,633 32,584 37,574 26,578 -25,626zM85,183 102,177 123,164 135,153 119,158 98,171zM20,618 59,586 96,550 130,512 91,545 54,581zM158,619 168,621 202,593 203,583 194,582 159,610zM-12,662 -6,663 12,648 11,642 5,640 -13,656zM166,587 189,570 212,551 234,532 210,549 187,568zM-47,535 -31,525 -1,492 8,476 -8,486 -37,519z"/><path fill="#3036b8" d="M3,630 18,622 49,596 58,582 43,590 13,616zM-6,758 11,755 32,737 38,722 21,725 0,743zM11,1011 30,998 65,963 77,945 59,957 24,993zM90,834 106,826 169,767 178,752 163,760 99,819zM117,376 144,364 200,326 221,306 195,319 139,356zM52,498 65,489 94,464 105,452 92,461 63,486zM-18,1142 -8,1139 11,1121 14,1111 4,1114 -15,1132zM85,143 105,133 159,92 174,76 154,86 100,126zM-47,1190 -26,1176 -4,1156 12,1136 -9,1150 -32,1171zM79,737 101,724 148,684 164,663 141,676 95,716zM159,267 165,263 178,252 182,245 175,249 162,260zM50,103 60,105 89,80 88,69 77,67 49,92zM137,485 148,479 200,437 207,427 196,432 144,474zM-21,511 -4,499 21,479 36,464 19,476 -6,496zM171,919 184,914 229,877 236,865 223,869 178,907zM38,906 55,894 69,882 82,866 65,878 52,890zM70,910 95,895 133,867 154,847 129,862 91,890zM-44,218 -18,195 11,162 30,134 5,157 -24,190zM-14,446 -6,445 21,419 22,411 14,412 -12,438zM-50,347 -29,329 3,300 22,279 0,297 -31,326zM130,713 156,699 209,664 233,645 207,660 153,695zM-16,285 -9,285 6,274 9,266 1,266 -14,277zM123,455 132,450 155,433 162,425 153,430 130,447zM143,346 152,341 201,291 206,282 197,287 149,337zM12,868 21,863 32,853 38,844 29,850 18,860zM105,166 120,155 186,95 198,81 182,91 117,151zM158,814 188,783 212,754 238,719 207,750 183,779zM130,563 156,540 196,496 216,467 189,490 150,534zM33,725 48,717 68,700 78,686 62,694 42,711zM77,477 84,476 103,461 106,454 99,456 80,471zM154,177 163,172 183,154 188,145 180,150 159,168zM74,991 94,983 157,938 172,923 152,931 89,975zM-3,1095 11,1087 21,1078 31,1065 17,1074 7,1083zM5,448 20,440 45,421 56,408 40,416 16,435zM-29,586 -8,565 11,543 29,519 8,541 -11,562zM113,696 150,672 220,615 250,583 213,606 143,663zM36,526 56,515 115,469 130,453 110,463 51,509zM86,462 98,454 124,427 131,415 119,423 93,450z"/><path fill="#30b8c8" d="M96,75 98,66 98,55 95,46 94,55 94,66zM50,23 55,7 58,-17 57,-34 52,-18 49,6zM176,57 180,46 181,27 179,15 175,26 174,45zM135,90 138,85 140,71 138,66 134,71 133,85zM110,69 111,62 112,27 111,20 110,27 109,62z"/><path fill="#e08090" d="M-21,717 -8,711 34,678 43,667 31,673 -12,706zM66,893 77,889 92,876 96,865 85,869 70,883zM198,30 200,13 200,-12 200,-29 198,-12 198,13zM189,129 191,124 192,101 191,96 189,100 187,124zM-69,606 -43,586 12,533 33,508 8,528 -47,581zM193,66 196,52 197,36 195,23 192,36 191,52zM-31,644 6,612 73,542 103,504 67,536 -1,606z"/><path fill="#d25a30" d="M71,507 78,505 102,482 105,475 98,478 74,500zM-50,227 -35,218 -13,200 -1,187 -16,196 -38,214zM114,306 130,294 184,241 197,225 181,238 127,290zM-64,284 -45,274 8,232 22,216 3,226 -50,268zM41,916 69,894 93,870 115,841 87,863 63,887zM-13,568 8,555 28,538 44,519 23,533 3,550zM-33,840 -14,828 8,811 23,794 4,806 -18,824zM-3,475 5,473 30,453 34,446 26,449 1,468zM90,164 96,164 131,139 134,133 127,134 93,159zM-34,225 -22,220 -3,205 3,194 -9,199 -27,214zM66,128 81,120 136,73 146,59 131,67 76,115zM-22,1151 -2,1136 54,1084 71,1065 51,1080 -5,1133zM-64,947 -51,941 3,894 10,882 -3,887 -57,935zM54,986 64,982 74,974 81,965 70,969 60,977zM82,1015 95,1009 108,1000 117,989 104,995 91,1004zM-36,343 -23,336 4,309 12,297 -1,304 -28,330zM160,225 175,215 230,160 240,145 225,155 170,210zM56,1083 64,1077 90,1052 96,1045 88,1050 62,1075zM-75,935 -42,915 -4,883 23,855 -10,876 -48,907zM177,952 193,942 207,929 220,914 203,925 189,937zM101,722 113,718 130,704 136,693 124,697 107,711zM-6,744 7,735 31,710 39,697 27,706 2,731zM116,963 143,947 175,921 196,898 169,914 137,939zM127,371 148,356 184,322 202,302 181,318 144,351zM124,753 139,739 165,707 175,689 160,703 134,736zM146,644 165,633 247,558 259,540 241,550 158,626zM85,663 116,635 147,604 175,573 143,601 113,631z"/><path fill="#d06070" d="M143,1070 147,1062 151,1045 150,1036 145,1044 142,1061zM163,1062 165,1053 168,1030 168,1021 165,1030 162,1053zM3,1091 24,1080 42,1063 54,1042 33,1053 15,1070zM45,1002 69,986 107,952 126,930 103,947 65,981zM170,1239 178,1210 187,1167 190,1137 182,1165 173,1209zM126,1128 131,1112 134,1087 133,1070 127,1086 124,1111zM-32,1011 -21,1008 42,955 48,944 37,948 -27,1000zM151,1091 156,1088 161,1063 158,1058 154,1061 148,1086z"/><path fill="#8030b0" d="M1,608 23,593 56,567 75,549 53,563 20,590zM-44,218 -29,207 17,166 30,152 15,163 -31,204zM116,455 124,453 169,415 173,408 165,410 119,448zM67,467 78,463 93,450 98,440 88,444 72,458zM156,871 168,866 241,799 247,787 234,792 162,859zM68,705 77,702 92,690 98,682 88,686 73,697zM57,686 84,668 123,636 145,612 118,630 79,663z"/><path fill="#c040b0" d="M169,1174 179,1137 189,1041 187,1003 177,1039 167,1136zM178,1224 191,1190 203,1150 210,1114 198,1148 186,1188zM11,1144 25,1139 83,1098 92,1087 79,1091 20,1132zM169,1081 174,1062 185,1009 186,989 181,1008 171,1061zM-7,1170 0,1168 38,1134 40,1127 33,1129 -4,1163zM-56,1005 -43,994 -8,958 2,944 -11,955 -46,991zM131,1228 137,1211 143,1167 142,1149 135,1166 129,1210zM177,1046 181,1032 189,991 190,976 185,991 178,1031zM44,1159 60,1145 78,1124 90,1106 73,1121 56,1141zM192,990 196,981 199,971 200,961 196,970 193,980zM15,1132 33,1123 47,1113 60,1098 42,1107 29,1117z"/><path fill="#80c870" d="M-39,988 -24,981 -11,970 -1,957 -16,964 -30,975zM-48,1045 -26,1033 -1,1014 18,996 -5,1009 -30,1027zM29,979 44,971 81,943 93,931 78,939 41,967zM115,47 117,41 120,13 119,7 117,13 113,41zM136,123 138,118 135,83 131,78 129,83 132,118z"/><path fill="#30b050" d="M166,1039 170,1031 175,1003 174,993 170,1002 164,1030zM95,1162 104,1141 118,1089 122,1065 113,1087 99,1139zM-77,1166 -47,1145 7,1099 33,1072 2,1093 -52,1139zM2,1174 9,1173 23,1161 24,1154 17,1155 4,1167zM26,1171 44,1156 91,1104 104,1084 86,1099 39,1151zM11,1155 22,1150 92,1094 100,1084 89,1090 19,1146zM104,1045 122,1030 143,1010 159,992 141,1008 120,1028z"/><path fill="#501040" d="M162,1205 164,1192 167,1104 166,1090 164,1104 161,1191zM172,1145 175,1139 179,1105 178,1099 175,1105 171,1139zM163,1157 167,1154 175,1130 173,1124 169,1128 161,1152zM56,1212 69,1174 79,1138 87,1098 74,1136 64,1173z"/><path fill="#d040c8" d="M49,57 52,52 53,45 51,39 48,44 47,51zM160,108 161,97 161,83 159,73 158,83 158,97z"/><path fill="#30b0c0" d="M168,1036 176,1019 182,997 183,978 176,995 170,1018zM81,1240 93,1197 97,1157 94,1112 83,1155 78,1195zM107,1177 111,1162 116,1133 117,1117 112,1132 107,1161zM137,1181 143,1159 149,1125 151,1102 145,1124 139,1158z"/><path fill="#a080d0" d="M-30,30 -29,25 -26,-13 -26,-18 -28,-13 -31,25zM180,79 181,75 181,59 180,55 179,59 179,75z"/><path fill="#40b0c0" d="M137,237 148,233 175,209 180,199 169,202 142,226z"/><path fill="#90a8d8" d="M21.7,836.8 42.4,826.1 87.5,786.9 101.0,767.9 80.3,778.6 35.1,817.8z"/><path fill="#5a2890" d="M79.0,260.7 109.5,249.9 148.7,215.9 163.5,187.2 133.0,197.9 93.8,232.0z"/><path fill="#b82418" d="M-4.8,425.8 19.0,418.4 60.5,382.3 71.1,359.8 47.3,367.2 5.8,403.2z"/><path fill="#a02840" d="M-9.9,809.2 12.9,800.6 54.3,764.7 65.9,743.3 43.1,751.8 1.7,787.8z"/><path fill="#40c050" d="M-9.0,1116.4 11.5,1107.9 56.9,1068.4 68.1,1049.4 47.7,1057.8 2.3,1097.3z"/><path fill="#d04828" d="M55.7,892.3 81.3,885.3 116.0,855.2 126.5,830.8 100.9,837.8 66.2,867.9z"/><path fill="#c02868" d="M-14.5,292.7 7.2,283.7 61.5,236.4 73.4,216.2 51.8,225.3 -2.5,272.5z"/><path fill="#c04030" d="M85.4,867.6 103.2,859.4 145.1,823.0 155.7,806.5 137.9,814.7 96.0,851.1z"/><path fill="#4030a0" d="M-11.5,1048.6 9.6,1038.5 56.9,997.4 69.8,977.9 48.7,988.0 1.4,1029.1z"/><path fill="#a02050" d="M-8.1,1004.6 11.5,996.9 60.9,953.9 71.3,935.6 51.7,943.3 2.3,986.3z"/><path fill="#b02860" d="M19.8,488.0 38.3,478.7 85.7,437.5 97.5,420.4 79.0,429.7 31.5,470.9z"/><path fill="#2040c8" d="M-11.6,138.1 8.2,130.7 54.2,90.8 64.2,72.2 44.5,79.6 -1.5,119.6z"/><path fill="#c04030" d="M101.6,932.6 124.9,922.7 174.9,879.2 188.0,857.5 164.7,867.5 114.7,910.9z"/><path fill="#c84818" d="M21.4,721.4 40.9,713.0 86.0,673.8 97.0,655.6 77.5,664.0 32.4,703.2z"/><path fill="#804060" d="M28.6,948.2 49.7,938.4 88.7,904.5 101.4,884.9 80.2,894.7 41.2,928.6z"/><path fill="#d01850" d="M110.7,375.1 133.3,361.3 173.6,326.2 190.5,305.8 167.9,319.6 127.5,354.7z"/><path fill="#2038b8" d="M15.1,615.9 37.2,608.6 86.3,565.9 96.6,545.0 74.4,552.3 25.3,594.9z"/><path fill="#b03020" d="M-12.5,1135.4 6.4,1127.3 51.4,1088.2 62.0,1070.6 43.2,1078.7 -1.8,1117.9z"/><path fill="#b83418" d="M112.0,682.0 146.3,675.0 183.3,642.9 195.0,609.9 160.7,616.9 123.8,649.0z"/><path fill="#d07080" d="M18.1,648.9 37.8,639.1 94.8,589.5 107.3,571.4 87.6,581.2 30.6,630.8z"/><path fill="#c04020" d="M117.0,871.7 133.2,862.4 176.4,824.9 187.9,810.0 171.6,819.4 128.5,856.9z"/><path fill="#6030a0" d="M-14.7,979.4 5.7,972.0 57.8,926.7 67.9,907.5 47.6,914.9 -4.5,960.2z"/><path fill="#3a1890" d="M-3.8,728.3 21.3,720.4 57.5,688.9 68.9,665.2 43.8,673.2 7.6,704.7z"/><path fill="#300a60" d="M118.6,567.8 139.6,559.8 180.6,524.2 191.5,504.4 170.4,512.4 129.5,548.1z"/><path fill="#a81810" d="M52.4,562.2 71.9,552.5 113.2,516.6 125.5,498.6 106.0,508.3 64.7,544.2z"/><path fill="#301060" d="M108.4,399.6 128.5,387.5 165.7,355.1 180.5,336.9 160.5,349.1 123.3,381.4z"/><path fill="#b04018" d="M19.3,982.3 38.0,971.9 77.5,937.6 90.4,920.4 71.6,930.8 32.1,965.1z"/><path fill="#c86070" d="M49.3,157.9 76.7,142.4 117.4,107.0 136.5,82.0 109.2,97.5 68.5,132.9z"/><path fill="#5020a0" d="M81.1,276.3 99.5,263.6 142.1,226.6 157.3,210.1 138.9,222.8 96.2,259.9z"/><path fill="#4030b0" d="M105.7,290.0 131.7,276.7 177.2,237.1 194.1,213.2 168.0,226.5 122.5,266.1z"/><path fill="#8030a0" d="M-17.2,226.0 7.8,210.1 47.2,175.9 66.5,153.3 41.4,169.3 2.1,203.5z"/><path fill="#a03818" d="M21.6,887.9 40.3,878.9 90.1,835.7 101.5,818.4 82.8,827.4 33.1,870.6z"/><path fill="#a03090" d="M79.6,746.6 105.0,733.8 145.5,698.6 161.7,675.2 136.3,688.0 95.8,723.2z"/><path fill="#6020a0" d="M-6.9,406.5 13.1,398.5 57.4,360.0 68.1,341.4 48.1,349.4 3.9,387.9z"/><path fill="#5020a0" d="M113.9,975.9 138.1,966.1 173.5,935.4 186.5,912.8 162.3,922.5 126.9,953.3z"/><path fill="#d04a20" d="M16.2,663.6 42.0,648.5 82.1,613.5 100.7,590.2 74.9,605.2 34.7,640.2z"/><path fill="#7a2070" d="M-8.8,378.8 16.5,362.5 54.4,329.6 74.0,306.8 48.6,323.0 10.8,355.9z"/><path fill="#b01810" d="M86.1,347.9 110.9,337.7 144.3,308.7 157.9,285.5 133.1,295.8 99.7,324.8z"/><path fill="#90b0d8" d="M23.8,1154.0 42.3,1146.2 88.2,1106.3 98.5,1089.1 80.0,1096.8 34.1,1136.8z"/><path fill="#d07080" d="M-8.4,711.4 11.2,703.1 57.0,663.3 67.9,645.0 48.3,653.3 2.5,693.1z"/><path fill="#c03080" d="M42.2,455.4 67.7,438.0 105.6,405.0 126.4,382.2 101.0,399.7 63.0,432.7z"/><path fill="#80805a" d="M101.5,598.7 123.9,586.5 174.9,542.1 190.1,521.6 167.7,533.8 116.6,578.2z"/><path fill="#5030b0" d="M50.5,192.4 68.3,186.2 114.2,146.3 122.8,129.5 105.0,135.8 59.1,175.6z"/><path fill="#5020a8" d="M79.0,1018.7 109.2,1007.2 149.5,972.2 165.0,943.9 134.8,955.3 94.5,990.3z"/><path fill="#5020a0" d="M-7.0,343.1 16.1,329.8 53.6,297.3 70.0,276.2 46.9,289.5 9.4,322.1z"/><path fill="#c84828" d="M17.0,504.3 41.4,491.7 83.2,455.4 99.0,432.9 74.6,445.5 32.8,481.9z"/><path fill="#301060" d="M112.3,650.8 131.4,643.9 175.5,605.6 185.0,587.6 165.8,594.5 121.7,632.8z"/><path fill="#6020a0" d="M-11.1,700.7 12.1,686.4 57.2,647.1 74.7,626.2 51.5,640.5 6.3,679.8z"/><path fill="#c02868" d="M24.2,251.6 47.5,242.7 92.2,203.8 104.3,182.0 81.0,190.9 36.3,229.8z"/><path fill="#b02020" d="M18.6,357.0 41.3,342.0 85.2,303.9 103.1,283.5 80.4,298.4 36.6,336.6z"/><path fill="#5020a0" d="M109.8,557.9 132.5,547.0 166.5,517.5 180.5,496.5 157.8,507.5 123.8,537.0z"/><path fill="#902060" d="M-19.3,1157.8 5.8,1145.8 52.7,1105.0 68.2,1081.8 43.0,1093.9 -3.9,1134.6z"/><path fill="#6020b0" d="M28.1,681.7 49.3,673.1 86.7,640.6 98.1,620.8 77.0,629.4 39.6,661.9z"/><path fill="#a04020" d="M23.6,703.1 47.7,691.5 90.9,653.9 105.8,631.7 81.7,643.3 38.5,680.9z"/><path fill="#8a3070" d="M113.6,138.1 136.3,125.7 170.1,96.3 185.6,75.6 162.9,88.0 129.0,117.4z"/><path fill="#702070" d="M-12.8,589.2 10.7,578.5 50.7,543.8 64.6,522.0 41.0,532.6 1.0,567.4z"/><path fill="#201050" d="M-1.9,464.2 19.8,451.7 55.6,420.5 71.1,400.8 49.4,413.4 13.6,444.5z"/><path fill="#c02870" d="M-9.3,483.6 13.2,472.4 49.6,440.7 63.9,420.0 41.4,431.3 5.0,462.9z"/><path fill="#300a40" d="M-12.9,305.8 12.2,290.3 47.7,259.4 66.5,236.7 41.4,252.3 6.0,283.1z"/><path fill="#802850" d="M26.5,542.1 44.8,534.1 93.2,491.9 103.7,475.0 85.5,483.0 37.0,525.2z"/><path fill="#300a50" d="M20.7,636.2 42.4,622.1 86.9,583.4 103.9,563.9 82.1,578.0 37.7,616.6z"/><path fill="#6020a0" d="M89.2,419.8 108.5,410.8 150.0,374.7 161.5,356.9 142.3,365.9 100.8,401.9z"/><path fill="#702060" d="M105.9,772.9 126.2,761.5 175.0,719.1 189.1,700.5 168.7,711.9 120.0,754.3z"/><path fill="#c02868" d="M19.0,812.0 43.7,799.0 76.6,770.4 92.9,747.7 68.2,760.8 35.3,789.4z"/><path fill="#c02868" d="M81.0,977.9 103.0,968.6 140.2,936.2 152.5,915.7 130.5,925.1 93.3,957.4z"/><path fill="#40b8c8" d="M-2.9,241.1 21.9,230.8 60.7,197.1 74.3,174.0 49.5,184.3 10.8,217.9z"/><path fill="#3030b0" d="M51.8,938.7 70.6,928.7 114.9,890.2 127.4,873.0 108.7,883.0 64.3,921.5z"/><path fill="#a82010" d="M86.0,535.0 108.4,522.9 144.1,491.8 159.2,471.4 136.9,483.5 101.2,514.6z"/><path fill="#201050" d="M77.9,997.6 101.3,986.1 151.6,942.3 166.3,920.8 142.9,932.3 92.6,976.1z"/><path fill="#3040b0" d="M44.6,586.0 75.1,570.8 114.4,536.6 133.7,508.5 103.2,523.7 63.9,557.9z"/><path fill="#3028a8" d="M72.1,930.2 97.0,917.8 141.6,879.1 157.3,856.0 132.4,868.5 87.8,907.2z"/><path fill="#a02880" d="M14.1,871.4 33.4,864.0 84.9,819.2 94.9,801.2 75.7,808.6 24.1,853.4z"/><path fill="#a02050" d="M-8.2,312.2 15.5,297.4 50.7,266.8 68.7,245.4 45.0,260.2 9.7,290.8z"/><path fill="#a01820" d="M41.0,775.1 64.4,761.1 111.5,720.1 128.6,698.9 105.3,712.9 58.1,753.9z"/><path fill="#b84020" d="M89.7,695.8 117.5,691.0 152.2,660.8 160.8,634.0 133.1,638.8 98.3,669.0z"/><path fill="#802050" d="M-14.3,531.5 10.9,517.4 46.0,486.9 63.5,463.9 38.3,478.0 3.1,508.6z"/><path fill="#3838c8" d="M48.1,416.3 73.8,406.6 112.9,372.6 126.0,348.5 100.3,358.2 61.2,392.2z"/><path fill="#301060" d="M79.2,439.5 94.5,430.9 139.4,391.9 150.0,378.0 134.6,386.5 89.8,425.5z"/><path fill="#c87080" d="M76.1,821.9 101.6,812.4 143.2,776.2 156.1,752.4 130.7,761.9 89.1,798.1z"/><path fill="#b02040" d="M84.5,1064.2 107.0,1052.8 143.0,1019.6 156.2,998.1 133.7,1009.5 97.7,1042.8z"/><path fill="#b05010" d="M45.0,826.2 65.0,818.6 115.3,774.8 125.6,756.1 105.6,763.7 55.3,807.4z"/><path fill="#c02860" d="M47.8,230.6 75.1,216.7 117.0,180.3 134.6,155.1 107.2,169.0 65.3,205.4z"/><path fill="#c84828" d="M-16.1,675.6 6.6,664.1 49.9,626.5 64.5,605.5 41.7,617.0 -1.6,654.7z"/><path fill="#b02010" d="M-7.8,753.9 13.9,744.8 57.6,706.8 69.6,686.6 47.9,695.7 4.2,733.7z"/><path fill="#90a0d0" d="M-11.2,867.3 16.8,855.3 60.9,817.0 76.7,790.9 48.7,803.0 4.6,841.3z"/><path fill="#b02018" d="M106.3,526.5 133.6,513.1 175.4,476.7 192.5,451.6 165.2,465.0 123.4,501.3z"/><path fill="#4030b0" d="M-12.7,924.6 12.6,912.0 47.4,881.7 63.4,858.5 38.2,871.1 3.3,901.4z"/><path fill="#3818b0" d="M110.3,541.0 136.3,527.7 179.5,490.1 196.3,466.2 170.3,479.5 127.1,517.1z"/><path fill="#601040" d="M19.7,673.5 41.6,661.8 76.6,631.3 91.3,611.3 69.4,623.0 34.4,653.4z"/><path fill="#a81810" d="M75.8,634.7 106.6,635.0 150.2,597.2 154.2,566.6 123.3,566.3 79.8,604.2z"/><path fill="#7028c0" d="M-8.7,842.6 12.1,836.3 53.4,800.4 62.5,780.7 41.7,787.0 0.4,822.9z"/><path fill="#d04820" d="M47.6,548.1 72.4,539.1 109.1,507.2 121.5,483.9 96.7,492.9 60.0,524.8z"/><path fill="#3030b8" d="M22.5,1004.1 43.2,993.4 80.9,960.6 94.4,941.6 73.7,952.3 36.0,985.1z"/><path fill="#a02890" d="M105.4,471.8 131.2,463.1 177.9,422.5 190.1,398.1 164.3,406.8 117.6,447.4z"/><path fill="#60903a" d="M113.4,407.3 134.4,397.4 183.4,354.8 196.2,335.3 175.2,345.3 126.2,387.9z"/><path fill="#3a1060" d="M111.6,211.9 137.2,209.9 184.7,168.6 190.2,143.5 164.6,145.5 117.1,186.8z"/><path fill="#5a20a8" d="M47.5,1056.9 70.8,1046.5 122.7,1001.4 136.2,979.8 113.0,990.2 61.1,1035.4z"/><path fill="#5028a8" d="M24.8,105.1 44.4,97.4 89.7,58.0 100.1,39.7 80.5,47.4 35.2,86.8z"/><path fill="#701050" d="M82.3,213.8 106.0,201.0 138.9,172.4 154.9,150.7 131.2,163.5 98.3,192.1z"/><path fill="#6020a8" d="M108.4,238.6 127.0,227.8 170.2,190.2 183.6,173.3 165.0,184.2 121.8,221.7z"/><path fill="#d06040" d="M-8.2,684.7 10.9,677.4 53.1,640.7 63.0,622.8 43.9,630.1 1.7,666.8z"/><path fill="#c85040" d="M55.4,629.1 80.7,618.9 112.4,591.3 126.0,567.7 100.7,577.9 69.0,605.5z"/><path fill="#c04820" d="M47.0,739.9 68.1,733.9 115.2,692.9 124.0,672.9 103.0,678.9 55.9,719.9z"/><path fill="#7020a0" d="M-5.6,1078.4 20.1,1065.4 60.0,1030.8 76.4,1007.1 50.8,1020.2 10.9,1054.8z"/><path fill="#a04020" d="M20.6,1141.3 44.0,1129.7 83.0,1095.8 97.7,1074.2 74.3,1085.8 35.3,1119.7z"/><path fill="#c84828" d="M13.4,935.3 38.9,932.1 88.2,889.3 94.8,864.5 69.3,867.6 20.0,910.5z"/><path fill="#a03050" d="M86.8,394.4 105.7,383.2 145.0,349.1 158.7,331.9 139.7,343.0 100.5,377.2z"/><path fill="#200850" d="M44.1,462.3 66.5,448.2 110.9,409.6 128.0,389.4 105.6,403.5 61.2,442.1z"/><path fill="#300a58" d="M82.5,479.6 109.8,464.7 149.5,430.2 168.1,405.2 140.8,420.1 101.1,454.6z"/><path fill="#a82010" d="M13.8,761.2 39.0,748.6 85.8,707.9 101.8,684.8 76.6,697.4 29.8,738.0z"/><path fill="#7020b0" d="M49.9,435.7 70.8,427.5 117.5,386.9 128.5,367.4 107.6,375.6 60.9,416.2z"/><path fill="#402080" d="M25.0,846.9 43.4,838.2 94.4,793.9 105.5,777.0 87.2,785.6 36.2,829.9z"/><path fill="#b05010" d="M115.1,747.3 135.8,742.2 179.2,704.4 187.2,684.7 166.5,689.8 123.1,727.6z"/><path fill="#c01860" d="M23.5,875.7 38.8,867.2 84.0,828.0 94.5,814.0 79.2,822.5 34.1,861.7z"/><path fill="#4028a8" d="M73.7,605.2 95.4,592.2 139.0,554.2 155.0,534.6 133.3,547.6 89.7,585.6z"/><path fill="#4a1890" d="M25.8,1075.3 51.9,1064.8 89.5,1032.2 103.5,1007.7 77.3,1018.2 39.8,1050.8z"/><path fill="#280a50" d="M20.3,415.3 41.2,405.9 82.0,370.4 94.3,351.1 73.5,360.5 32.6,396.0z"/><path fill="#4828b0" d="M105.9,864.3 134.4,853.3 175.8,817.4 190.6,790.7 162.1,801.7 120.8,837.6z"/><path fill="#501060" d="M80.8,412.1 98.7,405.3 146.4,363.9 155.6,347.0 137.7,353.8 90.0,395.3z"/><path fill="#c06070" d="M50.8,173.9 74.9,163.5 123.8,121.0 137.4,98.6 113.3,109.0 64.4,151.4z"/><path fill="#300a50" d="M22.4,515.0 40.9,507.4 85.1,469.0 95.2,451.7 76.7,459.4 32.5,497.8z"/><path fill="#b05010" d="M84.5,781.9 113.9,778.1 147.4,748.9 155.3,720.4 125.9,724.1 92.3,753.3z"/><path fill="#601040" d="M43.1,252.8 63.9,244.4 116.1,199.1 127.2,179.7 106.4,188.0 54.2,233.3z"/><path fill="#c84828" d="M43.6,324.8 71.8,314.4 115.0,276.9 129.2,250.3 101.0,260.7 57.7,298.3z"/><path fill="#c84a20" d="M108.8,825.4 139.7,822.7 188.8,780.1 195.7,749.8 164.7,752.4 115.6,795.1z"/><path fill="#5020a0" d="M54.9,965.5 79.4,950.0 113.6,920.3 132.3,898.2 107.9,913.7 73.7,943.4z"/><path fill="#5a20b0" d="M19.4,739.4 45.3,726.2 84.2,692.4 100.9,668.6 75.0,681.8 36.1,715.6z"/><path fill="#a82018" d="M-9.4,155.3 17.0,143.1 51.0,113.6 66.8,89.0 40.3,101.3 6.3,130.8z"/><path fill="#c03068" d="M-11.0,231.7 10.4,219.9 51.8,183.8 66.5,164.3 45.1,176.1 3.6,212.1z"/><path fill="#c84828" d="M23.5,624.7 40.6,615.7 90.1,572.6 101.4,557.0 84.4,566.0 34.8,609.1z"/><path fill="#602080" d="M79.8,730.5 102.4,719.1 153.4,674.8 167.9,653.9 145.2,665.3 94.2,709.6z"/><path fill="#300a50" d="M21.8,294.7 41.5,284.9 89.8,242.9 102.3,224.7 82.6,234.6 34.3,276.5z"/><path fill="#2a0a58" d="M47.5,393.3 71.0,385.3 118.0,344.5 129.2,322.4 105.7,330.3 58.7,371.2z"/><path fill="#501080" d="M-7.5,901.6 18.4,889.9 52.8,860.0 68.1,835.9 42.1,847.7 7.7,877.6z"/><path fill="#30b040" d="M-13.5,938.8 6.5,927.2 49.3,890.0 63.5,871.9 43.5,883.4 0.7,920.6z"/><path fill="#c02870" d="M51.1,778.3 75.7,764.2 117.8,727.6 135.1,705.3 110.6,719.3 68.5,755.9z"/><path fill="#3830c0" d="M57.5,341.7 81.3,337.3 125.3,299.1 132.9,276.1 109.0,280.4 65.1,318.7z"/><path fill="#7020a0" d="M72.4,685.8 94.1,674.3 142.8,632.0 157.2,612.1 135.5,623.7 86.9,666.0z"/><path fill="#c03070" d="M111.7,944.8 136.3,935.7 186.9,891.7 199.3,868.6 174.7,877.7 124.1,921.7z"/><path fill="#c01850" d="M81.8,582.2 106.2,572.8 153.7,531.5 166.3,508.7 142.0,518.1 94.5,559.4z"/><path fill="#a01818" d="M46.4,524.4 68.5,519.0 118.1,475.8 126.5,454.7 104.5,460.1 54.8,503.3z"/><path fill="#8030a0" d="M12.3,232.0 37.5,220.4 86.4,177.8 101.4,154.5 76.2,166.1 27.3,208.6z"/><path fill="#d04a20" d="M113.7,250.1 136.7,242.4 172.9,210.8 183.7,189.2 160.8,196.8 124.5,228.4z"/><path fill="#5020a0" d="M14.7,244.4 33.3,234.0 84.6,189.4 97.5,172.4 78.9,182.8 27.6,227.4z"/><path fill="#2a1880" d="M83.9,893.3 113.0,886.8 155.5,850.0 166.0,822.0 136.9,828.5 94.4,865.4z"/><path fill="#3828a8" d="M103.5,738.4 126.1,726.5 172.1,686.6 187.0,665.8 164.4,677.7 118.4,717.7z"/><path fill="#c03070" d="M-6.1,546.9 12.8,538.7 60.6,497.2 71.3,479.6 52.4,487.8 4.6,529.3z"/><path fill="#4a18b0" d="M-11.5,265.0 11.1,252.2 48.6,219.6 64.5,199.0 41.9,211.8 4.4,244.4z"/><path fill="#5020a0" d="M107.7,507.8 135.1,492.8 176.6,456.7 195.3,431.6 167.9,446.7 126.4,482.7z"/><path fill="#300a50" d="M19.1,994.1 44.6,979.2 85.8,943.3 104.1,920.2 78.6,935.0 37.4,970.9z"/><path fill="#2a1070" d="M44.2,928.3 66.2,921.5 115.4,878.7 125.3,857.8 103.2,864.7 54.1,907.4z"/><path fill="#a04060" d="M82.4,127.7 110.3,119.2 154.4,80.9 166.7,54.4 138.8,62.9 94.7,101.2z"/><path fill="#c84828" d="M78.9,293.2 100.7,287.5 150.6,244.2 159.3,223.4 137.5,229.0 87.6,272.4z"/><path fill="#901818" d="M-10.1,274.9 9.3,263.8 51.7,227.0 65.4,209.3 45.9,220.4 3.6,257.2z"/><path fill="#b02080" d="M-1.2,1092.1 24.1,1080.0 56.9,1051.4 72.5,1028.1 47.2,1040.2 14.4,1068.8z"/><path fill="#6020b0" d="M44.8,876.3 68.5,867.5 113.9,828.0 125.9,805.8 102.2,814.6 56.8,854.1z"/><path fill="#904050" d="M19.3,389.9 38.7,379.3 79.9,343.5 93.0,325.8 73.7,336.3 32.5,372.1z"/><path fill="#a81818" d="M20.0,1023.8 43.1,1015.4 92.1,972.9 103.5,951.2 80.4,959.5 31.5,1002.0z"/><path fill="#7a3070" d="M15.0,798.7 35.5,790.8 83.8,748.8 94.5,729.6 73.9,737.5 25.7,779.5z"/><path fill="#4020a0" d="M117.4,773.3 135.1,763.7 181.6,723.3 193.6,707.1 175.9,716.7 129.4,757.1z"/><path fill="#c85030" d="M77.7,526.8 105.2,512.7 148.0,475.4 165.8,450.2 138.3,464.3 95.5,501.5z"/><path fill="#c03050" d="M18.6,1200.9 46.4,1179.4 92.7,1116.9 105.1,1084.0 77.4,1105.5 31.1,1168.1z"/><path fill="#c04818" d="M-11.7,783.3 16.6,776.4 51.4,746.2 62.1,719.1 33.8,725.9 -1.0,756.2z"/><path fill="#c03070" d="M78.6,199.5 100.1,192.1 141.2,156.3 151.6,136.1 130.0,143.5 88.9,179.2z"/><path fill="#3020a0" d="M102.8,429.0 123.2,417.1 173.0,373.8 187.7,355.3 167.3,367.2 117.4,410.5z"/><path fill="#c04820" d="M20.9,773.9 44.4,764.7 94.4,721.3 106.7,699.4 83.2,708.5 33.3,751.9z"/><path fill="#501040" d="M20.7,969.3 43.7,956.7 93.8,913.1 109.5,892.2 86.6,904.8 36.4,948.4z"/><path fill="#3838c0" d="M89.6,315.4 118.8,309.8 152.0,281.0 161.6,252.8 132.4,258.4 99.2,287.3z"/><path fill="#b02018" d="M-12.3,394.8 10.0,384.2 48.2,351.0 61.8,330.4 39.4,341.0 1.3,374.1z"/><path fill="#3020a0" d="M77.8,761.7 97.8,750.1 146.9,707.4 161.2,689.2 141.2,700.8 92.1,743.5z"/><path fill="#50a040" d="M-14.0,62.2 6.0,49.7 48.7,12.5 63.9,-5.5 44.0,7.1 1.2,44.2z"/><path fill="#3830c0" d="M22.3,428.6 42.2,419.3 82.7,384.1 94.6,365.7 74.8,375.1 34.3,410.2z"/><path fill="#b04818" d="M46.8,506.3 68.7,492.8 113.7,453.7 130.2,433.8 108.2,447.4 63.3,486.5z"/><path fill="#200a50" d="M81.3,367.6 108.3,349.9 148.6,315.0 169.8,290.7 142.8,308.4 102.6,343.3z"/><path fill="#401060" d="M51.1,127.8 75.5,113.4 117.5,76.9 135.2,54.7 110.8,69.1 68.8,105.7z"/><path fill="#a82010" d="M15.7,585.3 44.8,579.6 85.4,544.4 95.1,516.3 65.9,522.0 25.4,557.3z"/><path fill="#6020a0" d="M18.9,460.8 44.5,447.3 89.9,407.8 106.9,384.3 81.2,397.7 35.8,437.3z"/><path fill="#40b050" d="M17.6,1122.9 41.2,1116.1 87.4,1076.0 97.4,1053.5 73.8,1060.3 27.5,1100.4z"/><path fill="#c84830" d="M52.8,1070.3 78.1,1058.2 118.6,1022.9 134.1,999.6 108.9,1011.8 68.4,1047.0z"/><path fill="#4030b0" d="M44.7,1013.9 70.1,1003.1 117.2,962.2 131.3,938.6 106.0,949.3 58.9,990.3z"/><path fill="#c85030" d="M-14.6,195.7 10.3,183.9 48.5,150.7 63.7,127.7 38.8,139.6 0.6,172.7z"/><path fill="#400a50" d="M56.3,850.8 77.0,838.1 112.3,807.4 127.7,788.7 107.0,801.4 71.7,832.1z"/><path fill="#b03020" d="M15.4,536.7 34.2,529.2 84.7,485.3 94.8,467.7 76.0,475.3 25.5,519.2z"/><path fill="#a03070" d="M51.7,703.8 68.8,694.2 117.4,651.9 129.3,636.4 112.2,645.9 63.6,688.2z"/><path fill="#c84828" d="M16.6,404.2 35.5,395.1 81.9,354.8 93.6,337.3 74.6,346.5 28.3,386.8z"/><path fill="#702080" d="M41.5,962.6 67.3,950.5 110.9,912.6 126.5,888.7 100.7,900.9 57.2,938.8z"/><path fill="#401060" d="M-13.3,570.6 9.6,561.5 49.4,526.9 61.6,505.5 38.7,514.6 -1.1,549.2z"/><path fill="#3080a0" d="M-11.5,827.6 14.1,812.6 50.3,781.2 68.6,757.9 43.0,772.9 6.9,804.3z"/><path fill="#5020a0" d="M12.1,565.7 35.4,550.2 82.5,509.2 101.1,488.2 77.8,503.8 30.7,544.7z"/><path fill="#401060" d="M23.8,167.8 44.9,155.6 80.5,124.7 95.5,105.5 74.4,117.7 38.8,148.6z"/><path fill="#b02010" d="M113.8,603.0 137.5,591.7 182.7,552.4 197.2,530.4 173.5,541.8 128.3,581.1z"/><path fill="#c84830" d="M-14.2,624.5 8.3,618.7 54.6,578.4 63.5,556.9 40.9,562.7 -5.4,603.0z"/><path fill="#6020a0" d="M48.4,810.2 66.3,799.4 116.9,755.4 130.0,739.2 112.2,749.9 61.5,794.0z"/><path fill="#b02870" d="M20.5,307.3 46.2,290.8 83.1,258.7 103.0,235.6 77.3,252.1 40.4,284.2z"/><path fill="#d05020" d="M41.7,697.0 67.9,686.0 112.3,647.4 126.8,623.0 100.6,634.0 56.2,672.6z"/><path fill="#5020b0" d="M51.4,754.0 71.3,744.1 125.0,697.4 137.6,679.1 117.8,689.1 64.1,735.8z"/><path fill="#c84020" d="M-16.3,958.7 8.6,950.4 61.6,904.3 73.3,880.8 48.4,889.2 -4.5,935.2z"/><path fill="#4030b0" d="M28.3,316.1 48.6,309.7 92.1,271.9 101.2,252.7 80.9,259.1 37.4,296.8z"/><path fill="#280a50" d="M14.5,479.5 34.5,470.0 91.4,420.5 103.6,402.1 83.6,411.7 26.8,461.1z"/><path fill="#b01810" d="M47.4,373.9 71.5,361.6 110.2,328.0 125.7,305.9 101.6,318.1 62.9,351.7z"/><path fill="#d04a28" d="M21.8,341.2 42.8,332.7 86.2,295.1 97.4,275.5 76.5,283.9 33.1,321.6z"/><path fill="#c03060" d="M108.8,1008.8 135.3,1004.6 174.2,970.7 182.1,945.1 155.6,949.3 116.7,983.2z"/><path fill="#8a4070" d="M16.1,85.9 35.1,78.0 83.1,36.3 93.6,18.6 74.6,26.5 26.6,68.2z"/><path fill="#b02070" d="M-2.3,97.6 21.4,83.3 54.2,54.8 71.6,33.4 47.9,47.6 15.2,76.1z"/><path fill="#401050" d="M-10.5,66.2 11.0,51.3 60.7,8.1 78.4,-11.1 56.9,3.8 7.2,47.0z"/><path fill="#3838c0" d="M108.3,313.8 131.4,312.0 178.0,271.5 182.9,248.9 159.8,250.7 113.3,291.1z"/><path fill="#b02040" d="M-0.0,1010.6 21.1,997.6 54.7,968.3 70.6,949.2 49.5,962.3 15.8,991.5z"/><path fill="#c05070" d="M111.5,154.4 131.3,146.1 175.7,107.4 186.8,89.0 167.0,97.4 122.6,136.1z"/><path fill="#6018b0" d="M45.9,721.4 72.8,706.8 112.9,671.9 131.1,647.3 104.1,661.9 64.1,696.7z"/><path fill="#c03080" d="M-14.3,338.5 7.2,325.6 59.0,280.6 74.8,261.1 53.2,274.0 1.5,319.0z"/><path fill="#7020a0" d="M49.0,796.2 69.6,788.5 110.7,752.8 121.1,733.4 100.5,741.1 59.4,776.8z"/><path fill="#201050" d="M19.9,444.9 41.7,433.7 83.0,397.8 97.1,377.7 75.3,388.9 34.0,424.8z"/><path fill="#5030b8" d="M46.5,677.8 71.7,660.7 115.1,623.0 135.5,600.5 110.3,617.5 66.9,655.3z"/><path fill="#c04030" d="M113.3,268.4 133.8,257.9 175.1,222.0 188.4,203.1 167.9,213.7 126.6,249.6z"/><path fill="#3030b8" d="M26.5,366.1 49.7,358.8 88.6,324.9 99.1,303.0 75.9,310.4 37.0,344.2z"/><path fill="#3a0a60" d="M87.4,835.6 107.8,830.4 149.5,794.1 157.6,774.6 137.1,779.9 95.5,816.1z"/><path fill="#6020a0" d="M79.1,964.1 100.2,953.0 145.1,914.0 159.0,894.6 137.9,905.7 93.0,944.7z"/><path fill="#c84020" d="M58.0,593.8 79.2,585.2 117.6,551.8 129.1,532.0 107.9,540.7 69.5,574.0z"/><path fill="#a81810" d="M45.6,661.6 71.5,652.9 111.0,618.5 123.2,594.1 97.3,602.8 57.9,637.2z"/><path fill="#a02080" d="M-13.7,1067.5 9.2,1057.9 49.4,1022.9 62.1,1001.6 39.2,1011.2 -1.0,1046.1z"/><path fill="#6020a8" d="M47.8,144.2 73.3,130.3 118.6,90.9 135.9,67.6 110.4,81.5 65.1,120.8z"/><path fill="#c03060" d="M-11.6,79.5 9.0,71.6 61.7,25.8 72.4,6.5 51.7,14.3 -1.0,60.1z"/><path fill="#b02848" d="M-9.3,362.6 19.2,350.2 63.9,311.3 80.1,284.9 51.7,297.3 7.0,336.2z"/><path fill="#b01810" d="M101.8,346.9 131.2,332.1 171.4,297.2 190.1,270.1 160.7,284.9 120.5,319.8z"/><path fill="#b03818" d="M47.2,1035.2 73.2,1026.4 119.2,986.4 131.6,961.8 105.6,970.7 59.5,1010.7z"/><path fill="#c85030" d="M14.6,1104.5 41.0,1090.3 85.0,1052.0 102.7,1027.9 76.3,1042.0 32.3,1080.3z"/><path fill="#b02818" d="M47.5,989.0 76.8,976.3 117.1,941.2 133.8,914.0 104.5,926.6 64.1,961.7z"/><path fill="#c03070" d="M-11.6,887.2 10.5,876.7 54.6,838.4 68.0,817.9 45.9,828.4 1.8,866.7z"/><path fill="#c02868" d="M17.0,1059.4 45.0,1047.9 80.6,1016.9 95.9,990.8 68.0,1002.3 32.3,1033.3z"/><path fill="#c01850" d="M106.7,795.7 131.4,783.0 167.4,751.7 183.4,729.0 158.6,741.7 122.7,772.9z"/><path fill="#b05010" d="M88.1,852.8 110.4,840.1 147.6,807.8 163.2,787.4 140.9,800.0 103.7,832.4z"/><path fill="#a84818" d="M21.2,94.6 45.6,79.3 87.2,43.1 105.7,21.1 81.3,36.3 39.6,72.5z"/><path fill="#4030b0" d="M22.8,901.1 46.9,888.7 89.5,851.7 105.1,829.5 81.0,841.9 38.4,878.9z"/><path fill="#300a50" d="M24.1,268.2 46.5,255.5 83.3,223.5 99.0,203.1 76.6,215.8 39.8,247.8z"/><path fill="#201050" d="M115.2,958.7 133.3,949.3 182.0,907.0 193.8,890.4 175.8,899.8 127.1,942.1z"/><path fill="#b02010" d="M19.8,133.0 47.5,124.6 80.3,96.2 92.4,69.8 64.6,78.2 31.9,106.6z"/><path fill="#2040d0" d="M52.4,208.3 79.9,194.4 115.7,163.2 133.4,137.9 105.9,151.9 70.1,183.0z"/><path fill="#c85030" d="M-18.6,1039.2 5.6,1027.0 52.1,986.6 67.6,964.3 43.3,976.6 -3.1,1017.0z"/><path fill="#6020b0" d="M59.1,274.9 78.6,265.7 118.1,231.4 129.9,213.3 110.4,222.5 70.9,256.8z"/><path fill="#5a30b8" d="M103.3,366.1 127.3,356.5 174.6,315.4 187.4,292.9 163.4,302.5 116.1,343.6z"/><path fill="#300a58" d="M54.2,612.6 71.6,604.8 118.4,564.1 128.5,548.0 111.2,555.8 64.3,596.5z"/><path fill="#c04020" d="M19.7,157.1 39.6,149.5 80.7,113.8 90.9,95.1 71.0,102.6 29.9,138.4z"/><path fill="#3838c0" d="M-10.6,454.8 12.2,447.3 50.1,414.3 60.7,392.8 38.0,400.3 0.0,433.3z"/><path fill="#60c060" d="M-11.9,512.0 11.8,502.6 62.9,458.2 75.5,435.9 51.8,445.3 0.7,489.7z"/><path fill="#3838c8" d="M73.5,390.4 95.5,383.1 145.8,339.4 156.1,318.6 134.1,325.9 83.8,369.7z"/><path fill="#300a58" d="M73.0,239.8 100.4,227.8 142.1,191.6 157.8,166.1 130.4,178.1 88.7,214.4z"/><path fill="#b04040" d="M-7.4,652.1 11.5,644.9 52.9,608.9 62.6,591.2 43.7,598.3 2.3,634.3z"/><path fill="#c05080" d="M-13.6,210.9 10.7,197.6 57.4,157.0 74.0,134.7 49.7,148.1 3.0,188.7z"/><path fill="#5020b0" d="M18.7,826.4 41.2,814.2 77.7,782.4 93.0,761.8 70.5,774.1 33.9,805.9z"/><path fill="#803060" d="M88.4,504.5 110.8,489.8 144.7,460.3 162.4,440.1 140.0,454.9 106.1,484.3z"/><path fill="#2838b8" d="M112.4,896.6 138.2,892.0 175.8,859.4 184.0,834.4 158.2,839.1 120.6,871.7z"/><path fill="#c060b0" d="M-9.9,324.2 14.9,308.9 54.2,274.7 72.8,252.3 48.0,267.6 8.7,301.7z"/><path fill="#b84010" d="M105.8,444.9 129.7,438.4 175.7,398.4 185.5,375.7 161.6,382.2 115.6,422.1z"/><path fill="#c84828" d="M-11.3,119.9 8.9,112.1 59.5,68.2 70.0,49.2 49.8,57.0 -0.8,101.0z"/><path fill="#501040" d="M108.1,490.9 130.0,481.1 170.6,445.9 183.3,425.5 161.4,435.3 120.8,470.6z"/><path fill="#3040c0" d="M106.6,171.7 129.2,157.9 177.5,115.9 194.3,95.5 171.7,109.3 123.4,151.3z"/><path fill="#c84a28" d="M82.8,941.8 105.2,935.7 151.9,895.1 161.1,873.8 138.7,879.9 92.0,920.5z"/><path fill="#b04090" d="M26.2,278.4 49.9,264.5 84.9,234.1 101.9,212.5 78.2,226.4 43.2,256.8z"/><path fill="#b02818" d="M-11.4,603.0 6.7,594.1 54.2,552.7 65.6,536.1 47.5,545.0 -0.1,586.3z"/><path fill="#c04828" d="M106.0,187.3 129.1,178.0 175.9,137.3 188.3,115.7 165.2,125.0 118.4,165.7z"/><path fill="#4030b0" d="M-0.6,84.9 17.3,75.9 60.2,38.5 71.7,22.1 53.8,31.2 10.8,68.5z"/><path fill="#5a18a8" d="M-8.0,172.5 12.2,164.2 53.0,128.8 64.0,109.9 43.8,118.2 3.0,153.7z"/><path fill="#d07080" d="M53.4,838.3 81.4,825.2 118.1,793.4 134.9,767.5 106.9,780.5 70.2,812.4z"/><path fill="#a05010" d="M116.9,381.2 137.3,370.8 181.3,332.6 194.5,313.8 174.1,324.3 130.1,362.5z"/><path fill="#b01830" d="M114.6,1042.9 136.2,1022.7 175.4,972.3 189.8,946.4 168.2,966.7 129.0,1017.0z"/><path fill="#a04060" d="M-8.0,1175.0 21.0,1168.6 53.5,1140.3 63.9,1112.5 34.9,1118.9 2.4,1147.2z"/><path fill="#4030b0" d="M23.6,202.1 44.3,195.5 92.2,153.8 101.6,134.3 81.0,141.0 33.1,182.6z"/><path fill="#c07080" d="M76.8,160.0 103.2,150.2 139.3,118.8 152.7,94.0 126.3,103.8 90.1,135.2z"/><path fill="#3030b0" d="M22.6,1037.5 41.8,1026.7 94.7,980.6 108.1,963.2 89.0,974.0 36.0,1020.1z"/><path fill="#300a50" d="M54.1,490.7 73.9,478.8 111.5,446.1 126.1,428.1 106.3,440.0 68.6,472.8z"/><path fill="#6a1890" d="M81.4,497.5 102.0,489.4 141.0,455.5 152.0,436.2 131.3,444.3 92.3,478.2z"/><path fill="#301050" d="M-8.6,537.5 10.3,525.9 49.4,491.9 63.5,474.9 44.6,486.5 5.5,520.5z"/><path fill="#2838c0" d="M-9.0,638.9 15.0,624.8 62.2,583.8 79.5,562.0 55.5,576.1 8.3,617.1z"/><path fill="#4030b8" d="M72.7,185.0 100.4,170.8 139.8,136.6 157.7,111.1 130.0,125.3 90.6,159.6z"/><path fill="#b84818" d="M84.6,454.2 105.7,452.2 151.4,412.5 156.3,392.0 135.2,394.0 89.5,433.7z"/><path fill="#5020a0" d="M-8.8,990.2 14.7,977.1 53.6,943.3 69.8,921.9 46.3,935.0 7.5,968.8z"/><path fill="#5030b0" d="M46.1,301.2 71.6,287.8 118.4,247.1 135.1,223.8 109.7,237.1 62.9,277.8z"/><path fill="#c07080" d="M16.4,188.7 36.4,181.3 86.4,137.9 96.5,119.1 76.5,126.5 26.6,169.9z"/><path fill="#3020b0" d="M77.4,562.1 99.7,556.4 151.1,511.8 159.8,490.4 137.4,496.0 86.0,540.7z"/><path fill="#5020a0" d="M-15.1,500.2 6.8,485.9 53.7,445.2 70.8,425.5 49.0,439.7 2.1,480.5z"/><path fill="#d05020" d="M80.1,665.0 97.6,658.3 142.2,619.5 151.2,603.2 133.7,609.9 89.1,648.6z"/><path fill="#701050" d="M110.2,715.6 130.4,708.8 179.5,666.2 188.9,647.2 168.8,653.9 119.7,696.5z"/><path fill="#b84818" d="M51.0,474.9 78.4,465.9 118.0,431.4 130.8,405.5 103.4,414.6 63.7,449.0z"/><path fill="#c04040" d="M85.4,1040.0 109.7,1032.7 149.8,997.9 160.5,974.8 136.2,982.2 96.1,1017.0z"/><path fill="#c04018" d="M112.2,627.4 141.6,617.1 179.8,583.9 194.0,556.2 164.7,566.5 126.4,599.7z"/><path fill="#300a50" d="M44.6,270.5 67.3,261.6 116.2,219.0 128.2,197.8 105.6,206.7 56.6,249.3z"/><path fill="#c84828" d="M45.5,1071.9 61.9,1065.7 99.1,1033.4 107.5,1018.1 91.1,1024.3 53.9,1056.6z"/><path fill="#30b040" d="M58.7,1072.2 78.9,1059.6 106.0,1036.1 121.3,1017.8 101.1,1030.4 74.0,1053.9z"/><path fill="#c01830" d="M74.2,1071.8 94.5,1063.4 124.7,1037.2 135.8,1018.2 115.5,1026.6 85.3,1052.8z"/><path fill="#d06070" d="M95.8,1076.6 110.2,1066.0 138.4,1029.9 145.2,1013.4 130.8,1024.0 102.6,1060.1z"/><path fill="#9a5a80" d="M117.8,1072.5 129.0,1062.2 143.7,1032.6 145.2,1017.5 134.0,1027.8 119.3,1057.4z"/><path fill="#30b8c8" d="M132.3,1071.9 139.9,1060.0 148.4,1032.2 148.7,1018.1 141.1,1030.0 132.6,1057.8z"/><path fill="#a090b0" d="M142.0,1073.3 148.8,1059.1 154.0,1032.4 153.0,1016.7 146.2,1030.9 141.0,1057.6z"/><path fill="#50c0c0" d="M151.9,1071.5 160.5,1060.6 166.1,1031.8 162.1,1018.5 153.5,1029.4 147.9,1058.2z"/><path fill="#c04060" d="M162.7,1072.1 170.4,1061.0 176.2,1031.0 173.3,1017.9 165.6,1029.0 159.8,1059.0z"/><path fill="#30c050" d="M173.4,1074.0 182.3,1061.3 188.2,1031.2 184.6,1016.0 175.7,1028.7 169.8,1058.8z"/><path fill="#30a840" d="M26.5,1116.8 47.3,1103.7 83.7,1072.0 99.5,1053.2 78.7,1066.3 42.3,1098.0z"/><path fill="#601040" d="M34.0,1118.9 52.7,1107.6 98.2,1068.1 112.0,1051.1 93.3,1062.4 47.8,1101.9z"/><path fill="#80a8d0" d="M49.5,1113.5 69.2,1100.8 99.8,1074.2 115.1,1056.5 95.4,1069.2 64.8,1095.8z"/><path fill="#c01860" d="M62.2,1118.9 83.0,1102.6 108.7,1073.7 122.4,1051.1 101.6,1067.4 75.9,1096.3z"/><path fill="#c070b0" d="M84.7,1114.8 97.6,1101.6 114.8,1072.9 120.3,1055.2 107.4,1068.4 90.2,1097.1z"/><path fill="#30b050" d="M98.7,1119.8 111.2,1101.7 122.5,1072.0 125.3,1050.2 112.8,1068.3 101.5,1098.0z"/><path fill="#30c0c8" d="M112.6,1116.9 119.0,1103.3 126.9,1068.1 127.0,1053.1 120.6,1066.7 112.7,1101.9z"/><path fill="#d040b0" d="M120.5,1117.6 128.8,1098.9 133.9,1072.9 133.1,1052.4 124.8,1071.1 119.7,1097.1z"/><path fill="#30b8c8" d="M128.0,1119.5 135.8,1101.8 142.0,1069.8 141.5,1050.5 133.7,1068.2 127.5,1100.2z"/><path fill="#c02050" d="M137.0,1118.7 145.4,1104.0 152.4,1068.1 150.1,1051.3 141.7,1066.0 134.7,1101.9z"/><path fill="#70a080" d="M146.5,1114.8 153.1,1102.7 159.6,1068.9 158.1,1055.2 151.5,1067.3 145.0,1101.1z"/><path fill="#c02050" d="M153.3,1117.1 160.4,1100.8 166.3,1070.7 165.7,1052.9 158.6,1069.2 152.7,1099.3z"/><path fill="#30b050" d="M158.7,1117.6 164.2,1101.8 170.6,1069.1 171.3,1052.4 165.8,1068.2 159.4,1100.9z"/><path fill="#6020a0" d="M163.1,1117.4 168.8,1102.5 175.4,1068.6 175.6,1052.6 169.9,1067.5 163.3,1101.4z"/><path fill="#d04828" d="M171.9,1118.2 182.5,1100.7 188.0,1072.0 184.8,1051.8 174.2,1069.3 168.7,1098.0z"/><path fill="#a05070" d="M-25.5,1155.5 -0.1,1142.3 27.9,1117.9 44.5,1094.5 19.1,1107.7 -8.9,1132.1z"/><path fill="#b02060" d="M-9.8,1158.1 11.4,1148.3 53.7,1111.6 66.3,1091.9 45.1,1101.7 2.8,1138.4z"/><path fill="#70a060" d="M4.0,1158.5 29.3,1141.6 60.8,1114.2 81.1,1091.5 55.8,1108.4 24.3,1135.8z"/><path fill="#40b0c0" d="M15.8,1155.8 35.6,1142.5 70.8,1111.9 86.8,1094.2 67.0,1107.5 31.8,1138.1z"/><path fill="#a0a8e0" d="M29.4,1152.1 49.5,1140.0 76.9,1116.2 91.6,1097.9 71.5,1110.0 44.1,1133.8z"/><path fill="#40b040" d="M44.4,1159.8 59.6,1147.7 90.3,1108.0 98.1,1090.2 82.9,1102.3 52.2,1142.0z"/><path fill="#901850" d="M69.7,1153.1 81.2,1143.7 96.3,1111.8 96.3,1096.9 84.8,1106.3 69.7,1138.2z"/><path fill="#30b0c8" d="M85.8,1156.9 94.4,1141.3 102.0,1110.9 101.7,1093.1 93.1,1108.7 85.5,1139.1z"/><path fill="#c030c0" d="M96.3,1156.8 104.6,1140.1 110.1,1111.8 108.7,1093.2 100.4,1109.9 94.9,1138.2z"/><path fill="#20c0d0" d="M105.7,1153.5 113.6,1137.3 118.1,1114.4 116.8,1096.5 108.9,1112.7 104.4,1135.6z"/><path fill="#a06070" d="M115.0,1156.9 124.1,1142.6 130.5,1109.7 127.5,1093.1 118.4,1107.4 112.0,1140.3z"/><path fill="#c01850" d="M124.9,1157.7 132.8,1142.3 139.1,1109.5 137.7,1092.3 129.8,1107.7 123.5,1140.5z"/><path fill="#c07090" d="M134.0,1154.9 141.7,1139.7 147.0,1112.1 145.6,1095.1 137.9,1110.3 132.6,1137.9z"/><path fill="#c03050" d="M143.7,1157.6 153.3,1141.7 159.3,1110.7 156.3,1092.4 146.7,1108.3 140.7,1139.3z"/><path fill="#6020a0" d="M153.4,1156.4 160.0,1143.1 166.7,1108.4 165.6,1093.6 159.0,1106.9 152.3,1141.6z"/><path fill="#40b050" d="M160.7,1155.0 167.2,1141.9 173.5,1109.6 172.3,1095.0 165.8,1108.1 159.5,1140.4z"/><path fill="#d05040" d="M172.3,1151.6 182.9,1138.5 187.6,1114.5 182.7,1098.4 172.1,1111.5 167.4,1135.5z"/><path fill="#201050" d="M80.3,984.9 97.2,976.0 140.0,940.1 151.7,925.1 134.8,934.0 92.0,969.9z"/><path fill="#30c0d0" d="M131.1,934.7 135.4,934.6 143.6,928.4 144.9,924.3 140.6,924.4 132.4,930.6z"/><path fill="#b01828" d="M114.8,1030.3 125.8,1020.8 151.6,987.1 157.8,974.0 146.8,983.5 121.0,1017.2z"/><path fill="#28b0c0" d="M137.0,1088.2 146.6,1064.0 162.4,988.8 163.2,962.8 153.6,987.0 137.8,1062.2z"/><path fill="#50b8c0" d="M149.0,1062.7 154.9,1052.2 163.9,1018.4 164.0,1006.3 158.1,1016.8 149.1,1050.6z"/><path fill="#c030b0" d="M120.7,1085.2 128.0,1070.0 139.8,1021.7 140.3,1004.8 133.0,1020.0 121.2,1068.3z"/><path fill="#30b050" d="M108.0,1082.8 113.8,1075.3 122.8,1049.7 123.0,1040.2 117.2,1047.7 108.2,1073.3z"/><path fill="#30b050" d="M164.9,1084.0 172.2,1072.7 182.5,1035.4 182.1,1022.0 174.8,1033.3 164.5,1070.6z"/><path fill="#c84828" d="M-4.6,1111.6 11.9,1103.7 54.0,1070.6 65.6,1056.4 49.1,1064.3 7.0,1097.4z"/><path fill="#40b040" d="M17.9,1093.7 26.2,1090.8 45.6,1074.9 50.1,1067.3 41.8,1070.2 22.4,1086.1z"/><path fill="#40b050" d="M37.5,1122.3 51.7,1111.8 83.8,1071.8 91.0,1055.7 76.8,1066.2 44.7,1106.2z"/><path fill="#500a60" d="M62.3,1121.3 74.1,1113.0 104.0,1083.1 112.3,1071.3 100.5,1079.6 70.6,1109.5z"/><path fill="#80b0d8" d="M52.4,1137.8 63.1,1124.5 87.2,1080.4 92.6,1064.2 81.9,1077.5 57.8,1121.6z"/><path fill="#c040b0" d="M80.3,1121.3 87.8,1112.4 103.6,1082.5 106.7,1071.3 99.2,1080.2 83.4,1110.1z"/><path fill="#30b8c8" d="M89.1,1142.2 94.6,1136.7 102.9,1116.6 102.9,1108.8 97.4,1114.3 89.1,1134.4z"/><path fill="#30b8c8" d="M116.0,1122.3 120.5,1109.0 120.5,1069.0 116.0,1055.7 111.5,1069.0 111.5,1109.0z"/><path fill="#30b040" d="M108.0,1122.3 112.0,1109.0 112.0,1069.0 108.0,1055.7 104.0,1069.0 104.0,1109.0z"/><path fill="#d040c0" d="M126.0,1114.8 130.5,1103.1 130.5,1067.9 126.0,1056.2 121.5,1067.9 121.5,1103.1z"/><path fill="#30b0c0" d="M135.0,1146.0 138.5,1127.6 138.5,1072.4 135.0,1054.0 131.5,1072.4 131.5,1127.6z"/><path fill="#c02050" d="M146.0,1162.1 152.0,1140.3 152.0,1074.7 146.0,1052.9 140.0,1074.7 140.0,1140.3z"/><path fill="#6020b0" d="M157.0,1128.8 161.0,1120.3 161.0,1094.7 157.0,1086.2 153.0,1094.7 153.0,1120.3z"/><path fill="#30b050" d="M171.0,1083.7 178.0,1078.6 178.0,1063.4 171.0,1058.3 164.0,1063.4 164.0,1078.6z"/><path fill="#d05030" d="M174.0,1161.0 179.0,1142.6 179.0,1087.4 174.0,1069.0 169.0,1087.4 169.0,1142.6z"/><g opacity="0.8"><path fill="#5a1040" d="M72,448 78,444 83,439 87,433 81,437 76,442zM154,657 167,649 178,638 188,627 176,635 164,646zM-37,1141 -30,1138 -3,1114 0,1108 -7,1111 -33,1134zM0,1018 9,1011 30,991 38,982 28,989 7,1009zM100,345 107,340 146,304 150,296 143,301 105,338zM-14,119 -2,111 8,102 17,91 6,99 -4,108zM34,940 45,933 59,920 68,910 57,917 42,930zM26,170 32,167 40,158 42,152 37,155 29,164zM74,330 86,324 109,306 119,296 107,303 84,321zM-9,754 -3,752 16,735 20,730 14,732 -5,749zM75,764 81,761 108,737 111,732 105,734 78,758z"/><path fill="#3036b8" d="M91,735 96,732 104,724 107,719 102,722 94,730zM84,199 90,195 132,161 137,154 130,158 89,193zM121,474 129,468 161,438 168,430 159,436 127,466zM97,657 108,650 130,631 140,622 129,629 106,648zM5,991 16,984 45,959 54,950 44,957 14,982zM99,414 105,411 127,389 130,384 124,386 102,408zM80,914 88,911 98,904 103,897 95,900 85,908zM147,825 157,819 189,791 196,782 187,789 155,817zM84,339 97,331 111,320 122,310 109,317 95,328zM-33,841 -27,838 7,804 11,797 4,801 -30,835zM82,379 86,377 96,368 99,364 95,366 85,375zM87,556 99,548 116,535 126,526 114,533 97,546zM105,870 111,866 131,850 136,844 129,848 110,864zM-26,713 -16,706 -8,699 -0,690 -10,696 -18,703zM101,275 111,269 149,240 157,232 147,238 109,267zM-28,601 -20,597 5,580 11,573 3,576 -22,594zM110,138 114,138 125,128 127,125 123,125 112,135zM142,554 153,548 180,525 189,516 178,523 151,545zM27,491 39,481 55,465 65,452 52,463 37,478zM165,164 173,159 201,132 207,124 199,130 171,156z"/><path fill="#6a1cb0" d="M119,201 126,198 149,178 153,171 146,174 123,194zM-33,112 -21,106 -9,98 1,89 -11,95 -23,103zM152,599 164,590 176,579 187,568 174,577 162,587zM116,487 123,484 130,478 135,473 129,476 121,481zM7,409 18,402 44,382 52,373 42,379 16,400zM82,252 89,249 120,226 125,220 118,223 87,246zM35,1013 44,1008 52,1001 59,994 50,999 42,1006zM22,289 37,278 59,257 71,244 57,255 34,276zM34,550 40,549 58,534 61,529 55,530 37,545zM158,502 167,497 205,468 212,461 203,466 165,494zM77,56 79,53 79,48 77,45 75,48 75,53zM91,579 102,571 113,561 122,551 111,559 100,569zM63,322 78,313 90,305 102,293 87,301 75,310zM142,1059 145,1053 155,1010 155,1003 151,1009 142,1052zM1,189 14,179 32,161 42,149 29,158 11,176zM-8,462 0,457 14,446 21,438 12,443 -2,455zM103,658 114,651 137,631 146,622 136,629 112,649zM0,989 10,981 37,955 45,945 35,953 9,979zM162,756 171,749 180,742 187,733 178,740 170,747zM68,328 80,320 102,299 111,287 99,296 77,317zM50,572 55,569 73,554 76,549 71,551 53,567zM58,834 64,830 84,809 88,803 82,807 62,828zM161,808 167,805 179,795 183,790 177,792 165,803zM113,35 115,27 116,17 116,9 114,17 113,26zM151,1006 155,1002 161,993 162,987 157,991 152,1000zM-1,1122 10,1116 19,1107 27,1097 16,1104 7,1112zM29,451 32,450 47,440 49,437 45,437 30,448zM120,427 125,424 136,415 139,409 133,412 123,421zM98,1132 101,1128 106,1109 105,1104 101,1108 97,1127zM57,337 63,334 81,318 84,313 79,315 61,332zM-21,930 -7,922 23,899 35,889 21,897 -9,919zM92,598 108,586 122,573 136,558 120,570 105,583zM50,975 64,965 92,943 104,931 89,940 62,962zM128,365 132,364 148,348 150,344 146,346 130,361zM120,1100 126,1085 130,1068 132,1053 126,1067 122,1084z"/><path fill="#8030b0" d="M53,888 57,886 70,875 72,871 68,873 55,884zM24,729 28,727 36,717 38,712 34,714 25,725zM56,394 64,389 72,382 77,374 69,378 61,386zM61,786 68,782 97,761 103,755 95,758 66,779zM155,927 164,920 189,895 196,887 187,893 162,918zM-16,90 -4,80 21,55 31,42 18,52 -7,77zM173,620 177,619 191,608 193,604 188,605 175,616zM30,829 39,825 70,800 76,792 67,796 36,821z"/><path fill="#d25a30" d="M58,115 63,114 82,98 84,93 79,94 60,111zM-37,143 -30,138 2,109 7,102 -0,107 -32,137zM-5,825 2,822 19,808 23,802 16,805 -1,819zM169,660 176,656 181,651 184,644 178,648 173,653zM91,248 96,247 115,232 117,227 112,228 93,243zM70,1052 74,1050 94,1030 95,1026 91,1027 71,1047zM163,125 169,123 185,109 188,104 182,106 166,120zM11,312 31,299 48,285 64,268 45,281 28,295zM75,981 91,968 106,954 120,940 104,952 89,966zM-18,443 -9,438 8,422 14,414 5,420 -11,435zM14,210 29,199 47,184 61,171 45,182 28,196zM7,340 24,327 40,310 53,294 37,308 21,324zM164,473 178,464 191,454 202,442 188,451 175,461zM125,939 139,931 163,912 174,900 160,909 136,927zM8,731 14,728 21,722 25,717 19,720 12,725zM4,846 7,845 23,831 25,828 21,829 5,843zM98,469 102,468 117,456 119,452 115,453 99,465zM160,565 176,555 190,544 202,530 186,540 173,551zM28,372 37,366 49,355 56,347 47,353 35,364zM38,224 49,217 69,202 79,192 67,199 48,215zM-20,587 -14,585 21,554 24,548 18,551 -17,582z"/><path fill="#c84424" d="M169,80 170,71 170,60 169,51 168,60 168,71zM93,1065 99,1062 112,1050 116,1045 110,1049 97,1060zM86,221 95,216 117,196 124,188 114,193 92,212zM147,112 149,106 148,100 146,94 144,100 145,106zM135,401 143,398 163,381 168,375 161,379 141,395zM-34,1174 -16,1159 0,1143 16,1125 -2,1140 -19,1156zM44,218 49,217 80,196 83,192 78,192 47,213zM-8,421 -0,416 8,409 14,402 6,407 -2,414zM180,1170 183,1161 185,1140 184,1131 181,1139 178,1161zM87,93 93,89 98,83 102,77 96,81 91,87zM159,680 164,678 172,671 174,666 169,668 161,675zM81,257 95,247 117,229 129,217 115,227 93,245zM-38,502 -21,488 -2,471 13,456 -4,469 -23,486zM27,730 31,728 40,719 42,715 38,717 29,725zM-34,1006 -26,1002 -3,982 2,975 -5,979 -29,999zM130,1122 132,1119 136,1103 135,1099 132,1102 129,1118zM42,797 47,795 73,770 75,765 70,767 44,792zM183,207 189,204 195,199 199,193 193,196 187,201zM60,713 71,706 91,689 99,679 88,686 69,703zM130,871 138,866 160,844 165,836 157,841 135,863zM105,654 120,643 142,623 155,609 140,620 118,640zM75,350 82,347 88,343 92,336 85,339 79,344zM27,205 34,200 46,190 52,184 45,188 33,198zM-42,588 -33,582 -2,555 5,546 -5,552 -36,579zM112,171 120,167 131,157 136,149 128,154 117,163zM108,893 117,886 131,873 138,864 129,871 115,884zM-26,493 -16,488 3,472 10,464 0,470 -19,485zM125,753 134,746 145,736 151,726 141,733 131,743zM128,991 134,988 151,973 156,967 149,971 132,985zM117,802 136,789 153,775 170,759 151,773 134,787zM21,1037 35,1027 49,1014 59,1001 46,1011 32,1024zM-25,293 -14,287 -0,277 8,267 -3,273 -16,284zM113,310 123,304 148,281 155,272 145,277 120,300zM40,1198 48,1187 67,1151 72,1138 64,1149 44,1185zM110,1124 115,1107 118,1091 120,1073 114,1090 111,1106zM31,156 44,148 60,135 70,124 58,132 42,145zM181,660 189,656 203,643 209,636 201,640 186,653zM43,936 54,928 79,901 87,890 76,898 51,925zM145,457 159,447 182,428 193,415 179,425 156,444zM58,542 66,539 98,516 105,509 96,512 64,535zM170,988 179,976 193,952 198,939 189,950 175,974zM160,514 171,507 196,486 205,475 193,482 168,504zM155,463 165,457 179,445 186,437 177,443 163,455zM82,350 89,346 101,335 106,328 99,332 87,343zM20,871 29,867 50,851 56,844 47,847 26,864zM-40,694 -31,688 -1,658 5,650 -3,656 -33,686z"/><path fill="#2a0a52" d="M-6,931 -1,930 8,922 10,917 5,919 -4,927zM144,452 157,444 175,430 186,420 173,428 155,442zM83,790 90,787 99,780 104,773 96,777 88,783zM91,173 101,167 119,153 126,145 116,150 99,164zM12,121 20,116 30,109 36,102 28,107 18,114zM43,1137 52,1132 88,1099 94,1092 86,1097 50,1130zM-1,274 8,268 26,252 33,244 25,250 6,266zM85,391 90,388 97,381 101,376 95,379 88,386zM-34,626 -29,624 -4,600 -2,595 -7,597 -33,620zM83,786 98,776 112,763 124,750 109,760 95,773zM44,541 47,541 60,530 60,527 57,526 44,538zM97,168 107,161 134,137 142,127 131,134 105,158zM77,805 88,797 117,768 125,757 114,765 85,794zM-28,296 -23,294 -1,274 2,268 -3,271 -26,291zM-25,497 -21,496 -3,480 -2,476 -6,477 -24,493zM177,458 187,451 199,439 206,429 195,436 184,447zM152,171 160,167 180,148 184,141 177,144 156,163zM16,886 29,876 53,848 62,835 50,845 25,872zM178,289 187,285 200,277 206,270 197,273 184,282zM57,586 65,581 102,554 108,548 100,552 64,579zM155,375 163,371 177,360 183,352 174,356 160,367z"/><path fill="#b83418" d="M121,304 128,300 140,290 144,283 137,286 125,296zM81,182 89,176 115,151 120,144 113,149 87,174zM140,270 144,268 153,260 155,256 151,258 142,266zM42,763 47,761 74,738 77,733 72,736 45,759zM34,304 44,299 56,289 63,281 53,286 41,295zM20,561 33,552 48,540 59,529 46,537 30,549zM154,810 160,807 175,792 178,786 173,790 158,805zM171,890 178,887 202,870 207,864 200,867 176,884zM90,305 106,293 119,281 132,266 116,278 103,290zM144,495 153,491 178,471 184,463 175,467 150,487zM23,557 27,556 50,537 53,533 48,535 25,553zM153,296 160,292 175,278 179,272 172,275 157,290zM131,468 139,462 149,453 154,445 146,450 136,459zM142,243 157,232 176,214 188,201 174,211 154,230zM-5,546 6,539 29,518 37,509 26,515 3,536zM42,425 48,423 57,415 59,410 54,411 44,419z"/><path fill="#a81a12" d="M8,478 20,467 33,454 42,440 29,450 17,464zM77,759 81,758 93,746 93,743 90,743 78,755zM-15,425 -11,425 1,416 2,412 -2,413 -13,421zM180,38 181,37 181,27 179,26 178,27 179,37zM131,100 133,98 133,92 131,90 129,92 129,98zM5,963 10,962 35,942 37,937 32,938 7,958zM164,683 175,675 186,666 194,655 183,663 173,672zM61,569 68,565 87,549 92,542 84,545 65,562zM-8,232 3,226 27,204 35,194 25,201 0,223zM155,146 162,143 177,132 182,125 175,129 160,140zM-15,1190 -9,1188 10,1171 14,1167 8,1169 -11,1185zM131,90 133,87 136,64 134,61 132,64 130,86zM98,202 108,194 132,170 141,160 130,168 106,192zM39,49 40,46 41,37 40,34 38,37 38,46zM163,188 172,183 196,165 202,156 193,161 170,180zM80,450 89,447 119,425 125,418 116,421 87,443zM190,1147 193,1142 196,1126 195,1121 192,1125 189,1141zM23,727 29,723 33,718 37,712 31,716 26,721zM75,440 82,436 92,428 97,422 90,425 80,433zM78,615 85,612 109,592 113,586 107,588 82,609zM79,545 85,542 98,531 102,526 96,529 84,540zM36,816 47,808 60,796 69,786 58,794 45,806zM179,785 184,784 196,774 198,769 194,771 181,781zM179,75 180,73 180,55 179,52 178,55 178,73zM185,52 187,47 188,42 186,36 184,41 184,47zM68,317 75,314 94,298 98,293 92,296 73,311zM0,803 9,796 33,771 40,762 31,769 7,794zM44,52 44,46 44,37 42,30 42,37 42,46z"/><path fill="#a04a10" d="M97,273 103,271 121,254 123,249 117,251 100,268zM-26,440 -10,429 9,412 22,397 6,408 -13,425zM104,513 109,512 131,490 133,485 128,487 106,508zM71,813 76,810 94,789 97,784 92,787 73,807zM-2,158 3,157 12,150 14,146 9,147 0,154zM105,134 111,131 117,125 122,120 116,123 109,129zM53,298 66,291 97,266 107,255 94,262 63,288zM150,226 159,220 174,206 181,197 172,203 157,217zM25,578 34,573 48,559 54,551 45,556 30,570zM101,424 113,415 128,398 137,386 124,395 109,411z"/><path fill="#501040" d="M168,1128 174,1108 178,1086 179,1065 173,1086 170,1107z"/><path fill="#c83070" d="M129,256 133,256 145,246 146,243 143,243 130,253zM75,1128 81,1121 110,1080 114,1071 107,1078 79,1119zM167,1129 170,1122 177,1089 178,1081 175,1088 167,1121zM110,550 127,538 149,520 164,506 147,518 125,535zM-31,1127 -23,1122 15,1088 20,1081 12,1085 -26,1120zM145,1148 147,1145 150,1117 148,1113 145,1116 143,1144zM94,932 109,923 128,909 141,897 126,906 107,920zM167,1017 170,1011 186,963 187,957 183,963 168,1011zM-14,1084 -9,1082 11,1061 13,1056 9,1059 -12,1079zM160,547 169,543 195,521 201,514 193,518 166,540zM163,1038 165,1031 169,1007 168,1000 166,1006 162,1031zM135,847 142,844 176,814 180,808 174,811 139,841zM116,69 118,66 118,51 116,48 114,51 114,66zM43,172 51,169 65,156 70,149 62,153 48,165zM108,1035 126,1023 141,1011 157,997 139,1008 124,1021z"/><path fill="#30b050" d="M32,997 43,990 58,977 67,968 56,975 41,988zM144,1121 149,1105 155,1069 155,1053 151,1069 145,1105zM59,1011 67,1006 84,990 89,982 81,987 64,1003z"/><path fill="#d06070" d="M152,1199 156,1187 162,1159 162,1147 158,1158 153,1187zM70,1183 74,1173 83,1142 85,1132 80,1142 71,1172zM70,1079 83,1070 104,1052 115,1040 102,1050 81,1068z"/><path fill="#e08090" d="M3,260 12,255 44,229 51,220 41,225 9,251zM43,794 51,788 58,781 64,772 55,778 49,785zM156,836 164,830 199,799 205,792 197,797 162,828zM78,81 80,74 81,61 81,54 79,61 77,74z"/><path fill="#d040c8" d="M85,87 87,84 89,61 88,58 86,61 84,84z"/><path fill="#c040b0" d="M-9,1048 -0,1042 7,1035 14,1027 5,1033 -3,1040zM26,944 29,943 43,933 44,930 41,930 27,940zM1,1059 9,1053 19,1044 25,1036 17,1042 7,1051zM-11,1185 -7,1184 7,1173 9,1169 5,1171 -9,1181zM38,1082 45,1079 69,1061 74,1055 66,1058 43,1075zM-14,1041 -1,1034 24,1016 35,1006 22,1014 -3,1031z"/><path fill="#8090c0" d="M96,1126 104,1112 110,1094 113,1079 105,1093 99,1111z"/><path fill="#d06080" d="M97,448 108,441 135,416 144,406 133,414 105,438zM62,604 68,601 94,580 98,574 92,577 66,598zM62,931 73,925 101,898 109,888 98,895 69,921z"/><path fill="#a080d0" d="M126,79 128,71 129,64 128,55 126,63 125,70zM115,17 116,12 117,-6 115,-11 114,-6 113,12z"/><path fill="#80c870" d="M-25,1137 -19,1134 -9,1126 -6,1120 -12,1122 -22,1131zM157,27 158,19 158,11 157,2 156,11 156,19z"/><path fill="#30b0c0" d="M-30,1156 -23,1152 -13,1145 -7,1138 -15,1142 -24,1150z"/><path fill="#30c050" d="M182,115 183,111 184,100 183,95 181,100 181,111zM81,40 82,35 82,17 81,12 80,17 80,35z"/></g><path fill="#6a7040" d="M0.0,9.0h3.2v20.7h-3.2zM0.0,29.7h3.2v2.0h-3.2zM3.2,24.7h2.6v7.4h-2.6zM5.9,30.8h4.1v3.0h-4.1zM9.9,9.0h2.3v9.1h-2.3zM9.9,18.1h2.3v12.9h-2.3zM9.9,31.0h2.3v1.1h-2.3zM12.3,9.0h3.7v16.3h-3.7zM15.9,9.0h4.1v10.4h-4.1zM15.9,19.4h4.1v9.9h-4.1zM15.9,29.3h4.1v7.1h-4.1z"/><path fill="#c83070" d="M3.2,9.0h2.6v15.7h-2.6zM5.9,14.7h4.1v16.1h-4.1zM20.1,9.0h4.1v21.3h-4.1zM31.1,9.0h2.6v7.2h-2.6zM59.3,9.0h3.3v10.4h-3.3zM62.6,35.8h4.3v14.9h-4.3zM66.8,26.5h3.9v12.5h-3.9zM80.8,73.8h2.9v2.3h-2.9zM83.7,74.5h2.5v2.8h-2.5zM86.3,43.4h3.3v18.5h-3.3zM86.3,61.8h3.3v18.5h-3.3zM96.6,15.1h2.3v10.7h-2.3zM101.6,57.6h3.4v13.3h-3.4zM105.0,42.7h3.3v7.2h-3.3zM105.0,74.9h3.3v11.0h-3.3zM111.7,19.4h4.3v22.0h-4.3zM111.7,75.5h4.3v11.8h-4.3zM120.4,34.8h2.3v12.3h-2.3zM137.3,32.6h2.2v20.3h-2.2zM137.3,52.8h2.2v21.8h-2.2zM150.6,51.7h4.1v6.6h-4.1zM150.6,96.2h4.1v8.6h-4.1zM157.5,88.1h3.5v14.3h-3.5zM157.5,108.7h3.5v3.1h-3.5zM175.9,9.0h3.1v17.1h-3.1zM178.9,99.6h2.4v13.7h-2.4zM40,43h3v3h-3zM46,43h3v3h-3zM43,52h3v3h-3zM70,58h3v3h-3zM67,61h3v3h-3zM82,79h3v3h-3zM85,82h3v3h-3zM88,88h3v3h-3zM109,91h3v3h-3zM142,103h3v3h-3zM127,106h3v3h-3zM109,109h3v3h-3zM139,109h3v3h-3zM142,109h3v3h-3zM178,109h3v3h-3zM121,112h3v3h-3zM130,112h3v3h-3zM142,112h3v3h-3zM154,112h3v3h-3zM166,112h3v3h-3zM175,112h3v3h-3zM157,115h3v3h-3zM130,118h3v3h-3zM142,118h3v3h-3zM154,118h3v3h-3zM169,118h3v3h-3zM148,121h3v3h-3zM178,121h3v3h-3zM133,124h3v3h-3zM184,124h3v3h-3zM175,127h3v3h-3zM166,130h3v3h-3zM175,130h3v3h-3zM160,133h3v3h-3zM181,133h3v3h-3zM172,136h3v3h-3zM181,139h3v3h-3zM178,142h3v3h-3zM184,142h3v3h-3zM175,145h3v3h-3zM181,151h3v3h-3z"/><path fill="#d040c8" d="M5.9,9.0h4.1v5.7h-4.1zM12.3,25.3h3.7v9.1h-3.7zM55.7,9.0h3.5v11.2h-3.5zM92.8,9.0h3.9v20.3h-3.9zM105.0,34.5h3.3v8.3h-3.3zM116.0,72.3h4.4v8.5h-4.4zM130.8,92.1h4.0v13.1h-4.0zM150.6,25.1h4.1v14.3h-4.1z"/><path fill="#a81a12" d="M20.1,30.3h4.1v5.5h-4.1zM36.8,40.7h2.8v2.9h-2.8zM52.3,45.0h3.5v5.3h-3.5zM70.7,51.4h3.3v12.8h-3.3zM78.3,66.9h2.5v4.4h-2.5zM86.3,17.0h3.3v10.9h-3.3zM92.8,70.3h3.9v11.8h-3.9zM98.9,62.5h2.7v19.5h-2.7zM108.3,49.5h3.4v15.7h-3.4zM111.7,50.4h4.3v6.6h-4.3zM116.0,9.0h4.4v13.6h-4.4zM139.5,47.9h3.4v7.0h-3.4zM139.5,77.3h3.4v12.5h-3.4zM139.5,99.3h3.4v8.5h-3.4zM165.0,24.9h4.2v17.1h-4.2zM169.2,93.6h2.6v16.2h-2.6zM171.8,104.0h4.1v8.4h-4.1zM175.9,33.8h3.1v9.4h-3.1zM181.4,101.7h4.1v9.0h-4.1zM43,43h3v3h-3zM43,46h3v3h-3zM52,52h3v3h-3zM61,55h3v3h-3zM64,58h3v3h-3zM73,76h3v3h-3zM85,88h3v3h-3zM97,91h3v3h-3zM100,91h3v3h-3zM97,94h3v3h-3zM112,97h3v3h-3zM97,100h3v3h-3zM121,100h3v3h-3zM127,100h3v3h-3zM133,100h3v3h-3zM151,106h3v3h-3zM160,106h3v3h-3zM112,109h3v3h-3zM133,109h3v3h-3zM157,109h3v3h-3zM169,109h3v3h-3zM106,112h3v3h-3zM136,112h3v3h-3zM160,112h3v3h-3zM112,115h3v3h-3zM127,115h3v3h-3zM136,115h3v3h-3zM151,115h3v3h-3zM163,115h3v3h-3zM166,115h3v3h-3zM136,118h3v3h-3zM139,118h3v3h-3zM181,118h3v3h-3zM163,121h3v3h-3zM169,121h3v3h-3zM160,124h3v3h-3zM166,124h3v3h-3zM169,124h3v3h-3zM136,127h3v3h-3zM148,127h3v3h-3zM160,130h3v3h-3zM148,133h3v3h-3zM157,133h3v3h-3zM181,136h3v3h-3zM157,142h3v3h-3zM181,145h3v3h-3z"/><path fill="#e08090" d="M24.2,9.0h4.5v6.2h-4.5zM31.1,28.4h2.6v9.6h-2.6zM39.6,23.8h4.4v7.6h-4.4zM59.3,33.7h3.3v17.5h-3.3zM83.7,37.5h2.5v15.7h-2.5zM89.5,29.5h3.2v14.7h-3.2zM108.3,84.7h3.4v6.6h-3.4zM122.8,20.9h4.2v13.6h-4.2zM130.8,63.9h4.0v21.9h-4.0zM143.0,26.5h4.5v6.9h-4.5zM147.4,84.4h3.2v18.8h-3.2zM165.0,113.3h4.2v0.5h-4.2zM175.9,91.2h3.1v19.0h-3.1zM181.4,110.7h4.1v2.0h-4.1z"/><path fill="#40b040" d="M24.2,15.2h4.5v9.6h-4.5zM24.2,35.5h4.5v1.6h-4.5zM28.7,9.0h2.4v18.5h-2.4zM28.7,27.5h2.4v9.2h-2.4zM31.1,16.2h2.6v12.2h-2.6z"/><path fill="#a080d0" d="M24.2,24.8h4.5v10.7h-4.5zM122.8,34.4h4.2v9.4h-4.2zM130.8,9.0h4.0v5.4h-4.0zM143.0,58.7h4.5v15.1h-4.5z"/><path fill="#30c050" d="M31.1,38.0h2.6v3.2h-2.6zM39.6,9.0h4.4v14.8h-4.4zM39.6,40.6h4.4v3.5h-4.4zM48.4,38.0h3.8v10.7h-3.8zM70.7,34.8h3.3v16.5h-3.3zM83.7,9.0h2.5v5.4h-2.5zM83.7,53.2h2.5v21.3h-2.5zM96.6,9.0h2.3v6.1h-2.3zM98.9,43.1h2.7v19.4h-2.7zM101.6,85.1h3.4v3.6h-3.4zM111.7,9.0h4.3v10.4h-4.3zM111.7,41.3h4.3v9.1h-4.3zM120.4,47.1h2.3v16.9h-2.3zM126.9,25.0h3.9v15.9h-3.9zM134.7,94.6h2.6v9.3h-2.6zM137.3,95.0h2.2v8.6h-2.2zM143.0,103.6h4.5v5.3h-4.5zM147.4,103.2h3.2v5.1h-3.2zM150.6,64.8h4.1v13.2h-4.1zM154.7,47.7h2.9v12.4h-2.9zM154.7,70.5h2.9v20.9h-2.9zM154.7,102.6h2.9v5.1h-2.9zM165.0,91.8h4.2v21.5h-4.2zM175.9,43.2h3.1v15.8h-3.1z"/><path fill="#c07080" d="M33.7,9.0h3.1v15.9h-3.1zM33.7,24.9h3.1v18.0h-3.1zM36.8,9.0h2.8v10.6h-2.8zM36.8,19.6h2.8v6.2h-2.8zM36.8,25.8h2.8v14.9h-2.8zM39.6,31.4h4.4v9.2h-4.4zM44.0,9.0h4.4v15.3h-4.4zM44.0,24.3h4.4v6.8h-4.4zM44.0,31.0h4.4v18.0h-4.4z"/><path fill="#c04050" d="M48.4,9.0h3.8v19.0h-3.8zM48.4,28.0h3.8v10.0h-3.8zM52.3,9.0h3.5v15.4h-3.5zM52.3,24.4h3.5v20.6h-3.5z"/><path fill="#30b8c8" d="M52.3,50.3h3.5v3.8h-3.5zM62.6,21.1h4.3v14.7h-4.3zM86.3,27.9h3.3v15.4h-3.3zM92.8,29.3h3.9v14.1h-3.9zM92.8,43.4h3.9v20.5h-3.9zM120.4,9.0h2.3v12.9h-2.3zM120.4,64.0h2.3v12.7h-2.3zM122.8,43.8h4.2v18.2h-4.2zM122.8,82.3h4.2v17.9h-4.2zM126.9,40.8h3.9v21.1h-3.9zM150.6,9.0h4.1v16.1h-4.1zM154.7,9.0h2.9v11.1h-2.9zM154.7,91.4h2.9v11.1h-2.9zM165.0,54.1h4.2v17.6h-4.2zM171.8,59.3h4.1v21.1h-4.1z"/><path fill="#c84424" d="M55.7,20.2h3.5v16.2h-3.5zM55.7,49.0h3.5v3.8h-3.5zM66.8,39.0h3.9v17.8h-3.9zM89.5,81.3h3.2v0.7h-3.2zM98.9,9.0h2.7v9.9h-2.7zM98.9,18.9h2.7v13.9h-2.7zM101.6,45.8h3.4v11.8h-3.4zM130.8,41.0h4.0v9.3h-4.0zM130.8,50.3h4.0v13.6h-4.0zM139.5,26.3h3.4v21.6h-3.4zM143.0,49.0h4.5v9.6h-4.5zM154.7,20.1h2.9v7.0h-2.9zM157.5,9.0h3.5v14.2h-3.5zM178.9,9.0h2.4v13.0h-2.4zM49,49h3v3h-3zM55,52h3v3h-3zM58,52h3v3h-3zM64,55h3v3h-3zM70,61h3v3h-3zM70,64h3v3h-3zM67,73h3v3h-3zM76,76h3v3h-3zM79,85h3v3h-3zM100,85h3v3h-3zM79,88h3v3h-3zM91,88h3v3h-3zM115,91h3v3h-3zM88,97h3v3h-3zM109,97h3v3h-3zM118,97h3v3h-3zM115,100h3v3h-3zM136,100h3v3h-3zM109,103h3v3h-3zM106,106h3v3h-3zM121,106h3v3h-3zM142,106h3v3h-3zM145,106h3v3h-3zM145,109h3v3h-3zM163,112h3v3h-3zM115,115h3v3h-3zM124,115h3v3h-3zM130,115h3v3h-3zM169,115h3v3h-3zM133,118h3v3h-3zM145,118h3v3h-3zM151,118h3v3h-3zM172,118h3v3h-3zM175,118h3v3h-3zM184,118h3v3h-3zM160,121h3v3h-3zM175,121h3v3h-3zM175,124h3v3h-3zM178,124h3v3h-3zM127,127h3v3h-3zM181,127h3v3h-3zM151,130h3v3h-3zM139,133h3v3h-3zM163,133h3v3h-3zM169,133h3v3h-3zM139,136h3v3h-3zM166,136h3v3h-3zM169,136h3v3h-3zM163,142h3v3h-3zM175,142h3v3h-3zM181,142h3v3h-3zM163,148h3v3h-3zM181,154h3v3h-3z"/><path fill="#5040a0" d="M55.7,36.3h3.5v7.4h-3.5z"/><path fill="#80c870" d="M55.7,43.7h3.5v5.3h-3.5zM59.3,51.2h3.3v6.7h-3.3zM66.8,56.7h3.9v4.2h-3.9zM78.3,9.0h2.5v19.2h-2.5zM96.6,33.3h2.3v17.3h-2.3zM120.4,98.8h2.3v1.7h-2.3zM122.8,62.1h4.2v20.2h-4.2zM126.9,92.2h3.9v6.8h-3.9zM150.6,104.8h4.1v3.1h-4.1zM157.5,54.7h3.5v14.6h-3.5zM161.0,54.2h3.9v10.7h-3.9zM161.0,95.6h3.9v12.0h-3.9zM171.8,94.3h4.1v9.7h-4.1zM175.9,110.2h3.1v4.3h-3.1zM181.4,75.0h4.1v21.4h-4.1zM181.4,96.5h4.1v5.2h-4.1z"/><path fill="#6a1cb0" d="M59.3,19.4h3.3v14.3h-3.3zM62.6,9.0h4.3v12.1h-4.3zM62.6,50.7h4.3v10.1h-4.3zM74.1,25.3h4.3v12.3h-4.3zM105.0,9.0h3.3v12.4h-3.3zM108.3,65.3h3.4v19.5h-3.4zM111.7,87.3h4.3v6.6h-4.3zM143.0,81.9h4.5v21.7h-4.5zM147.4,67.3h3.2v10.8h-3.2zM154.7,27.1h2.9v20.6h-2.9zM157.5,23.2h3.5v8.0h-3.5zM157.5,102.4h3.5v6.4h-3.5zM161.0,78.3h3.9v17.3h-3.9zM161.0,107.6h3.9v4.1h-3.9zM171.8,9.0h4.1v9.4h-4.1zM49,55h3v3h-3zM73,64h3v3h-3zM61,67h3v3h-3zM70,67h3v3h-3zM76,70h3v3h-3zM82,70h3v3h-3zM85,73h3v3h-3zM79,76h3v3h-3zM82,76h3v3h-3zM85,76h3v3h-3zM94,82h3v3h-3zM97,85h3v3h-3zM103,85h3v3h-3zM91,91h3v3h-3zM88,94h3v3h-3zM109,94h3v3h-3zM112,100h3v3h-3zM100,103h3v3h-3zM124,103h3v3h-3zM100,106h3v3h-3zM103,106h3v3h-3zM124,106h3v3h-3zM118,109h3v3h-3zM127,109h3v3h-3zM163,109h3v3h-3zM133,112h3v3h-3zM139,112h3v3h-3zM139,115h3v3h-3zM157,118h3v3h-3zM178,118h3v3h-3zM124,121h3v3h-3zM133,121h3v3h-3zM181,121h3v3h-3zM157,124h3v3h-3zM172,124h3v3h-3zM184,127h3v3h-3zM163,130h3v3h-3zM145,133h3v3h-3zM151,133h3v3h-3zM172,133h3v3h-3zM178,136h3v3h-3zM145,139h3v3h-3zM178,139h3v3h-3zM157,145h3v3h-3zM169,151h3v3h-3zM184,157h3v3h-3z"/><path fill="#c02070" d="M66.8,9.0h3.9v17.5h-3.9zM70.7,9.0h3.3v20.6h-3.3zM70.7,29.6h3.3v5.2h-3.3zM74.1,9.0h4.3v16.3h-4.3z"/><path fill="#60a050" d="M74.1,37.6h4.3v20.0h-4.3zM74.1,57.6h4.3v9.1h-4.3zM78.3,49.4h2.5v7.9h-2.5zM78.3,57.3h2.5v9.7h-2.5zM80.8,37.0h2.9v19.8h-2.9zM80.8,56.8h2.9v17.0h-2.9z"/><path fill="#902050" d="M78.3,28.2h2.5v21.2h-2.5zM80.8,9.0h2.9v21.7h-2.9zM80.8,30.7h2.9v6.3h-2.9z"/><path fill="#80a060" d="M83.7,14.4h2.5v7.4h-2.5zM83.7,21.8h2.5v15.7h-2.5zM86.3,9.0h3.3v8.0h-3.3z"/><path fill="#b02040" d="M89.5,9.0h3.2v20.5h-3.2z"/><path fill="#d03080" d="M89.5,44.1h3.2v21.1h-3.2zM92.8,63.9h3.9v6.4h-3.9zM96.6,50.6h2.3v21.1h-2.3z"/><path fill="#b03050" d="M89.5,65.2h3.2v16.1h-3.2zM96.6,71.7h2.3v15.2h-2.3zM98.9,82.0h2.7v5.0h-2.7zM101.6,70.9h3.4v14.2h-3.4z"/><path fill="#d040c0" d="M96.6,25.8h2.3v7.5h-2.3z"/><path fill="#c02020" d="M98.9,32.8h2.7v10.3h-2.7zM101.6,9.0h3.4v15.3h-3.4zM101.6,24.3h3.4v21.5h-3.4zM105.0,21.4h3.3v13.1h-3.3z"/><path fill="#305860" d="M105.0,49.9h3.3v8.3h-3.3zM105.0,58.2h3.3v16.7h-3.3z"/><path fill="#6a6080" d="M105.0,85.9h3.3v2.8h-3.3zM116.0,80.8h4.4v14.1h-4.4z"/><path fill="#60a0a0" d="M108.3,9.0h3.4v8.4h-3.4zM108.3,17.4h3.4v12.4h-3.4zM108.3,29.8h3.4v12.0h-3.4z"/><path fill="#40b050" d="M108.3,41.8h3.4v7.7h-3.4zM111.7,57.0h4.3v18.4h-4.3z"/><path fill="#30b040" d="M116.0,22.6h4.4v16.7h-4.4zM157.5,41.0h3.5v13.8h-3.5zM161.0,36.2h3.9v18.0h-3.9zM161.0,64.9h3.9v13.4h-3.9z"/><path fill="#d06080" d="M116.0,39.3h4.4v6.2h-4.4zM116.0,45.5h4.4v5.6h-4.4zM116.0,51.1h4.4v13.8h-4.4zM116.0,64.8h4.4v7.5h-4.4zM120.4,21.9h2.3v12.9h-2.3z"/><path fill="#c05070" d="M120.4,76.7h2.3v8.3h-2.3zM120.4,85.1h2.3v13.7h-2.3zM126.9,78.1h3.9v14.1h-3.9zM130.8,85.8h4.0v6.3h-4.0z"/><path fill="#70a0b0" d="M122.8,9.0h4.2v11.9h-4.2zM126.9,9.0h3.9v10.8h-3.9zM126.9,19.8h3.9v5.2h-3.9z"/><path fill="#30b0c0" d="M126.9,61.9h3.9v16.2h-3.9z"/><path fill="#40a040" d="M130.8,14.4h4.0v9.4h-4.0zM130.8,23.8h4.0v5.9h-4.0zM130.8,29.6h4.0v11.4h-4.0z"/><path fill="#5020b0" d="M134.7,9.0h2.6v7.9h-2.6zM134.7,16.9h2.6v15.4h-2.6zM137.3,9.0h2.2v5.7h-2.2zM137.3,14.7h2.2v17.8h-2.2z"/><path fill="#6020a0" d="M134.7,32.3h2.6v21.1h-2.6zM134.7,53.3h2.6v14.0h-2.6z"/><path fill="#40a050" d="M134.7,67.3h2.6v11.2h-2.6zM134.7,78.5h2.6v16.1h-2.6zM137.3,74.6h2.2v20.4h-2.2zM139.5,89.9h3.4v9.5h-3.4zM143.0,73.7h4.5v8.2h-4.5zM147.4,78.2h3.2v6.3h-3.2z"/><path fill="#20b040" d="M139.5,9.0h3.4v17.3h-3.4zM143.0,9.0h4.5v17.5h-4.5zM143.0,33.4h4.5v15.6h-4.5z"/><path fill="#30a040" d="M139.5,54.9h3.4v8.5h-3.4zM139.5,63.3h3.4v14.0h-3.4z"/><path fill="#b01818" d="M147.4,9.0h3.2v6.7h-3.2zM147.4,15.7h3.2v6.2h-3.2zM147.4,22.0h3.2v16.5h-3.2z"/><path fill="#c04030" d="M147.4,38.5h3.2v15.7h-3.2zM147.4,54.2h3.2v13.1h-3.2zM150.6,39.4h4.1v12.3h-4.1zM150.6,58.4h4.1v6.4h-4.1zM154.7,60.1h2.9v10.4h-2.9z"/><path fill="#a040a0" d="M150.6,78.0h4.1v18.2h-4.1zM157.5,69.4h3.5v18.7h-3.5z"/><path fill="#d04080" d="M157.5,31.2h3.5v9.8h-3.5zM161.0,9.0h3.9v9.2h-3.9zM161.0,18.2h3.9v18.0h-3.9z"/><path fill="#b08040" d="M165.0,9.0h4.2v15.9h-4.2zM169.2,9.0h2.6v12.8h-2.6zM169.2,21.8h2.6v20.5h-2.6zM171.8,18.4h4.1v10.8h-4.1zM171.8,29.2h4.1v21.3h-4.1z"/><path fill="#70c070" d="M165.0,42.0h4.2v12.1h-4.2zM169.2,42.3h2.6v6.8h-2.6zM169.2,49.1h2.6v8.7h-2.6zM169.2,57.8h2.6v17.2h-2.6zM171.8,50.5h4.1v8.8h-4.1zM175.9,59.0h3.1v14.1h-3.1zM178.9,41.5h2.4v18.4h-2.4zM178.9,60.0h2.4v20.6h-2.4zM181.4,46.6h4.1v16.7h-4.1zM181.4,63.3h4.1v11.7h-4.1z"/><path fill="#70a0a0" d="M165.0,71.7h4.2v7.9h-4.2zM165.0,79.6h4.2v12.2h-4.2zM169.2,75.0h2.6v8.8h-2.6zM169.2,83.8h2.6v9.8h-2.6zM171.8,80.4h4.1v14.0h-4.1zM175.9,73.1h3.1v18.1h-3.1zM178.9,80.5h2.4v19.0h-2.4z"/><path fill="#5030b0" d="M175.9,26.1h3.1v7.7h-3.1zM178.9,22.0h2.4v19.6h-2.4zM181.4,9.0h4.1v10.3h-4.1zM181.4,19.3h4.1v10.2h-4.1zM181.4,29.5h4.1v17.2h-4.1z"/><path fill="#30a050" d="M40,40h3v3h-3zM118,94h3v3h-3zM106,100h3v3h-3zM139,103h3v3h-3zM148,106h3v3h-3zM127,118h3v3h-3zM121,124h3v3h-3zM154,124h3v3h-3zM139,130h3v3h-3zM154,133h3v3h-3zM154,142h3v3h-3zM169,148h3v3h-3zM175,148h3v3h-3zM184,151h3v3h-3z"/><path fill="#802040" d="M49,46h3v3h-3zM64,64h3v3h-3zM58,67h3v3h-3zM64,67h3v3h-3zM70,73h3v3h-3zM76,79h3v3h-3zM76,82h3v3h-3zM100,94h3v3h-3zM109,100h3v3h-3zM106,103h3v3h-3zM133,103h3v3h-3zM178,112h3v3h-3zM166,121h3v3h-3zM142,130h3v3h-3zM142,133h3v3h-3zM151,136h3v3h-3zM169,139h3v3h-3zM169,145h3v3h-3zM172,145h3v3h-3zM166,148h3v3h-3z"/><path fill="#a030a0" d="M46,49h3v3h-3zM70,70h3v3h-3zM106,94h3v3h-3zM157,106h3v3h-3zM151,121h3v3h-3zM160,136h3v3h-3zM172,151h3v3h-3z"/><path fill="#d07080" d="M52,49h3v3h-3zM49,58h3v3h-3zM103,97h3v3h-3zM100,109h3v3h-3zM157,112h3v3h-3zM115,118h3v3h-3zM172,121h3v3h-3zM136,130h3v3h-3zM133,133h3v3h-3zM172,142h3v3h-3z"/><path fill="#30a0b0" d="M67,58h3v3h-3zM79,73h3v3h-3zM88,76h3v3h-3zM73,79h3v3h-3zM121,97h3v3h-3zM127,97h3v3h-3zM118,103h3v3h-3zM184,115h3v3h-3zM121,121h3v3h-3zM184,139h3v3h-3zM172,148h3v3h-3zM178,151h3v3h-3z"/><path fill="#2a0a52" d="M52,61h3v3h-3zM61,61h3v3h-3zM58,64h3v3h-3zM106,88h3v3h-3zM109,88h3v3h-3zM88,91h3v3h-3zM136,103h3v3h-3zM130,106h3v3h-3zM139,106h3v3h-3zM127,112h3v3h-3zM181,112h3v3h-3zM121,115h3v3h-3zM142,115h3v3h-3zM145,115h3v3h-3zM154,115h3v3h-3zM139,124h3v3h-3zM139,127h3v3h-3zM142,127h3v3h-3zM145,127h3v3h-3zM163,127h3v3h-3zM148,130h3v3h-3zM154,130h3v3h-3zM169,130h3v3h-3zM136,133h3v3h-3zM157,139h3v3h-3zM172,139h3v3h-3zM166,142h3v3h-3zM169,142h3v3h-3zM166,145h3v3h-3z"/><path fill="#3036b8" d="M67,67h3v3h-3zM76,67h3v3h-3zM73,70h3v3h-3zM97,82h3v3h-3zM103,91h3v3h-3zM112,94h3v3h-3zM121,94h3v3h-3zM94,97h3v3h-3zM133,106h3v3h-3zM115,121h3v3h-3zM157,121h3v3h-3zM166,133h3v3h-3zM178,133h3v3h-3zM175,139h3v3h-3zM163,145h3v3h-3z"/></g><clipPath id="c0"><path d="M141.0,943.0 148.0,945.5 154.0,951.5 160.0,957.5 166.0,966.5 175.0,975.5 181.0,981.4 190.0,993.4 199.0,1001.0 208.0,1011.4 217.0,1023.4 226.0,1031.0 233.4,1038.4 241.0,1044.4 250.0,1049.0 259.0,1055.0 268.0,1061.0 280.0,1065.4 292.0,1068.4 304.0,1070.0 320.0,1070.6 320.0,1158.5 141.0,1158.5z"/></clipPath><clipPath id="c1"><path d="M328.0,720.5 335.0,726.7 343.2,736.4 349.7,743.0 357.8,752.7 366.0,761.0 374.0,774.0 384.0,787.0 392.0,798.4 402.0,811.4 410.0,822.8 419.8,837.5 429.5,847.2 436.0,855.4 445.8,865.2 455.6,875.0 465.4,884.7 476.8,891.2 489.8,897.8 505.0,902.8 505.0,1158.5 328.0,1158.5z"/></clipPath><clipPath id="c2"><path d="M516.0,503.0 523.7,510.4 532.3,517.3 540.8,527.5 549.4,539.5 558.0,551.5 568.2,563.5 578.5,578.9 587.0,590.9 595.6,602.8 604.0,614.8 612.7,628.5 621.3,637.0 629.8,645.6 638.4,655.9 647.0,666.2 657.2,676.4 667.5,685.0 677.7,691.8 695.0,695.5 695.0,1158.5 516.0,1158.5z"/></clipPath><clipPath id="c3"><path d="M702.0,286.5 709.0,293.7 715.8,300.5 722.7,310.8 731.2,319.4 739.8,329.6 748.4,341.6 757.0,351.9 765.5,363.9 774.0,375.9 782.6,387.8 791.1,399.8 799.7,411.8 808.3,422.0 816.8,432.3 825.4,444.3 834.0,452.9 844.2,461.4 854.5,468.3 868.2,476.9 883.0,482.2 883.0,1158.5 702.0,1158.5z"/></clipPath><clipPath id="c4"><path d="M889.0,64.5 897.0,70.0 903.8,76.8 912.4,87.1 921.0,95.7 929.5,106.0 936.4,116.2 945.0,131.6 953.5,143.6 962.0,153.9 970.6,165.8 979.0,177.8 987.7,189.8 996.3,201.8 1004.8,213.8 1015.0,227.5 1025.4,237.7 1035.6,246.3 1047.6,253.1 1059.6,258.3 1070.0,261.0 1070.0,1158.5 889.0,1158.5z"/></clipPath><clipPath id="c5"><path d="M1075.0,11.0 1258.0,11.0 1258.0,1158.5 1075.0,1158.5z"/></clipPath><pattern id="spR" patternUnits="userSpaceOnUse" width="18" height="160"><path fill="#d06070" d="M0,0h3v3h-3zM3,3h3v3h-3zM0,6h3v3h-3zM0,9h3v3h-3zM12,12h3v3h-3zM0,21h3v3h-3zM0,27h3v3h-3zM3,27h3v3h-3zM3,33h3v3h-3zM3,36h3v3h-3zM6,39h3v3h-3zM0,42h3v3h-3zM12,42h3v3h-3zM15,42h3v3h-3zM3,48h3v3h-3zM12,48h3v3h-3zM9,51h3v3h-3zM12,51h3v3h-3zM0,57h3v3h-3zM0,60h3v3h-3zM3,60h3v3h-3zM3,66h3v3h-3zM6,66h3v3h-3zM9,66h3v3h-3zM15,69h3v3h-3zM6,84h3v3h-3zM0,93h3v3h-3zM15,93h3v3h-3zM15,99h3v3h-3zM0,102h3v3h-3zM3,102h3v3h-3zM12,102h3v3h-3zM6,111h3v3h-3zM3,114h3v3h-3zM6,114h3v3h-3zM15,114h3v3h-3zM15,117h3v3h-3zM6,120h3v3h-3zM15,132h3v3h-3zM0,135h3v3h-3zM3,135h3v3h-3zM3,138h3v3h-3zM12,147h3v3h-3zM12,156h3v3h-3zM15,156h3v3h-3z"/><path fill="#c84828" d="M3,0h3v3h-3zM15,0h3v3h-3zM15,6h3v3h-3zM15,12h3v3h-3zM15,18h3v3h-3zM3,21h3v3h-3zM6,21h3v3h-3zM9,27h3v3h-3zM15,30h3v3h-3zM0,33h3v3h-3zM9,33h3v3h-3zM12,33h3v3h-3zM15,33h3v3h-3zM9,36h3v3h-3zM3,39h3v3h-3zM12,39h3v3h-3zM3,42h3v3h-3zM9,48h3v3h-3zM9,54h3v3h-3zM3,63h3v3h-3zM12,66h3v3h-3zM12,69h3v3h-3zM6,81h3v3h-3zM9,81h3v3h-3zM12,81h3v3h-3zM0,90h3v3h-3zM6,93h3v3h-3zM6,96h3v3h-3zM12,99h3v3h-3zM15,102h3v3h-3zM0,105h3v3h-3zM0,111h3v3h-3zM3,120h3v3h-3zM9,123h3v3h-3zM6,129h3v3h-3zM3,132h3v3h-3zM12,132h3v3h-3zM0,138h3v3h-3zM9,138h3v3h-3zM6,141h3v3h-3zM0,150h3v3h-3zM3,156h3v3h-3z"/><path fill="#b01830" d="M6,0h3v3h-3zM9,3h3v3h-3zM3,6h3v3h-3zM12,6h3v3h-3zM9,9h3v3h-3zM3,12h3v3h-3zM12,18h3v3h-3zM9,21h3v3h-3zM12,27h3v3h-3zM12,30h3v3h-3zM6,33h3v3h-3zM6,36h3v3h-3zM3,45h3v3h-3zM6,48h3v3h-3zM3,57h3v3h-3zM0,63h3v3h-3zM0,75h3v3h-3zM12,87h3v3h-3zM15,87h3v3h-3zM6,90h3v3h-3zM6,99h3v3h-3zM6,102h3v3h-3zM9,102h3v3h-3zM15,108h3v3h-3zM15,111h3v3h-3zM0,114h3v3h-3zM3,117h3v3h-3zM6,117h3v3h-3zM0,120h3v3h-3zM0,123h3v3h-3zM9,129h3v3h-3zM9,135h3v3h-3zM6,138h3v3h-3zM12,138h3v3h-3zM0,141h3v3h-3zM9,144h3v3h-3zM6,150h3v3h-3zM9,150h3v3h-3zM9,153h3v3h-3zM15,153h3v3h-3zM0,156h3v3h-3z"/><path fill="#a0b0c8" d="M9,0h3v3h-3zM0,30h3v3h-3zM0,39h3v3h-3zM0,45h3v3h-3zM9,63h3v3h-3zM9,69h3v3h-3zM9,72h3v3h-3zM3,75h3v3h-3zM15,75h3v3h-3zM0,87h3v3h-3zM9,90h3v3h-3zM15,105h3v3h-3zM3,108h3v3h-3zM9,117h3v3h-3zM12,117h3v3h-3zM9,120h3v3h-3zM6,126h3v3h-3zM9,132h3v3h-3zM0,147h3v3h-3zM3,150h3v3h-3z"/><path fill="#809080" d="M12,0h3v3h-3zM3,9h3v3h-3zM9,12h3v3h-3zM15,21h3v3h-3zM9,24h3v3h-3zM12,57h3v3h-3zM0,69h3v3h-3zM3,72h3v3h-3zM0,78h3v3h-3zM3,78h3v3h-3zM9,87h3v3h-3zM3,90h3v3h-3zM9,96h3v3h-3zM6,105h3v3h-3zM3,141h3v3h-3zM0,144h3v3h-3z"/><path fill="#a04080" d="M0,3h3v3h-3zM0,15h3v3h-3zM6,45h3v3h-3zM15,54h3v3h-3zM12,60h3v3h-3zM0,72h3v3h-3zM12,72h3v3h-3zM6,75h3v3h-3zM15,81h3v3h-3zM3,93h3v3h-3zM15,96h3v3h-3zM12,105h3v3h-3zM9,108h3v3h-3zM3,111h3v3h-3zM0,126h3v3h-3zM6,132h3v3h-3zM6,147h3v3h-3zM15,150h3v3h-3z"/><path fill="#40a0a0" d="M6,3h3v3h-3zM0,51h3v3h-3zM12,54h3v3h-3zM3,69h3v3h-3zM6,69h3v3h-3zM9,93h3v3h-3zM12,96h3v3h-3zM9,99h3v3h-3zM12,144h3v3h-3zM3,153h3v3h-3zM6,153h3v3h-3zM9,156h3v3h-3zM9,159h3v3h-3z"/><path fill="#c040a0" d="M15,3h3v3h-3zM0,12h3v3h-3zM3,15h3v3h-3zM12,15h3v3h-3zM0,24h3v3h-3zM12,24h3v3h-3zM6,30h3v3h-3zM9,30h3v3h-3zM15,63h3v3h-3zM9,78h3v3h-3zM0,99h3v3h-3zM3,99h3v3h-3zM9,111h3v3h-3zM15,120h3v3h-3zM9,126h3v3h-3zM0,129h3v3h-3zM12,129h3v3h-3zM9,147h3v3h-3zM12,150h3v3h-3z"/><path fill="#6020a0" d="M9,6h3v3h-3zM6,9h3v3h-3zM15,9h3v3h-3zM9,15h3v3h-3zM6,27h3v3h-3zM15,51h3v3h-3zM6,72h3v3h-3zM15,72h3v3h-3zM12,75h3v3h-3zM15,78h3v3h-3zM3,105h3v3h-3zM12,108h3v3h-3zM15,129h3v3h-3zM15,135h3v3h-3zM15,144h3v3h-3z"/><path fill="#40a050" d="M12,9h3v3h-3zM6,15h3v3h-3zM0,18h3v3h-3zM3,18h3v3h-3zM3,30h3v3h-3zM6,54h3v3h-3zM3,84h3v3h-3zM3,96h3v3h-3zM12,120h3v3h-3zM6,123h3v3h-3zM3,129h3v3h-3zM0,132h3v3h-3zM12,135h3v3h-3zM15,138h3v3h-3zM15,159h3v3h-3z"/><path fill="#2a0a52" d="M6,18h3v3h-3zM15,27h3v3h-3zM6,42h3v3h-3zM15,48h3v3h-3zM6,63h3v3h-3zM15,84h3v3h-3zM12,90h3v3h-3zM15,90h3v3h-3zM6,108h3v3h-3zM6,135h3v3h-3zM12,141h3v3h-3zM12,153h3v3h-3zM0,159h3v3h-3z"/></pattern><pattern id="spL" patternUnits="userSpaceOnUse" width="8" height="160"><path fill="#2a0a52" d="M0,0h4v4h-4zM0,24h4v4h-4zM0,116h4v4h-4zM4,120h4v4h-4zM0,124h4v4h-4zM0,156h4v4h-4z"/><path fill="#40a050" d="M4,0h4v4h-4zM0,28h4v4h-4zM4,28h4v4h-4zM0,44h4v4h-4zM4,52h4v4h-4zM0,68h4v4h-4zM4,80h4v4h-4zM4,104h4v4h-4zM0,140h4v4h-4zM4,148h4v4h-4z"/><path fill="#d06070" d="M0,4h4v4h-4zM0,12h4v4h-4zM0,16h4v4h-4zM0,36h4v4h-4zM0,40h4v4h-4zM0,60h4v4h-4zM4,68h4v4h-4zM4,124h4v4h-4zM4,132h4v4h-4zM4,144h4v4h-4z"/><path fill="#6020a0" d="M0,8h4v4h-4zM4,24h4v4h-4zM0,32h4v4h-4zM0,136h4v4h-4z"/><path fill="#809080" d="M4,8h4v4h-4zM4,72h4v4h-4zM0,92h4v4h-4zM4,92h4v4h-4zM0,96h4v4h-4zM4,140h4v4h-4zM4,152h4v4h-4z"/><path fill="#b01830" d="M4,16h4v4h-4zM0,48h4v4h-4zM0,72h4v4h-4zM0,80h4v4h-4zM4,88h4v4h-4zM4,96h4v4h-4zM0,112h4v4h-4zM0,144h4v4h-4z"/><path fill="#40a0a0" d="M0,20h4v4h-4zM4,36h4v4h-4zM0,56h4v4h-4z"/><path fill="#c84828" d="M4,20h4v4h-4zM0,64h4v4h-4zM0,88h4v4h-4zM0,100h4v4h-4zM4,108h4v4h-4zM4,128h4v4h-4zM4,136h4v4h-4zM0,148h4v4h-4zM0,152h4v4h-4z"/><path fill="#a04080" d="M0,52h4v4h-4zM4,84h4v4h-4zM0,104h4v4h-4zM4,112h4v4h-4z"/><path fill="#a0b0c8" d="M4,60h4v4h-4zM4,100h4v4h-4zM0,132h4v4h-4zM4,156h4v4h-4z"/><path fill="#c040a0" d="M0,76h4v4h-4zM4,116h4v4h-4zM0,120h4v4h-4z"/></pattern><filter id="px" x="0" y="0" width="1268" height="1227" filterUnits="userSpaceOnUse" primitiveUnits="userSpaceOnUse" color-interpolation-filters="sRGB"><feFlood x="1" y="1" width="1" height="1" flood-color="#000" result="f"/><feComposite in="f" in2="f" operator="over" x="0" y="0" width="4" height="4" result="c"/><feTile in="c" result="t"/><feComposite in="SourceGraphic" in2="t" operator="in" result="s"/><feMorphology in="s" operator="dilate" radius="1" result="d"/><feOffset in="d" dx="1" dy="0" result="o1"/><feOffset in="d" dx="0" dy="1" result="o2"/><feOffset in="d" dx="1" dy="1" result="o3"/><feMerge result="m"><feMergeNode in="d"/><feMergeNode in="o1"/><feMergeNode in="o2"/><feMergeNode in="o3"/></feMerge><feGaussianBlur in="m" stdDeviation="0.55"/></filter><clipPath id="call"><path d="M141,11H320V1158.5H141zM328,11H505V1158.5H328zM516,11H695V1158.5H516zM702,11H883V1158.5H702zM889,11H1070V1158.5H889zM1075,11H1258V1158.5H1075z"/></clipPath></defs><rect x="10" y="11" width="124" height="1145.5" fill="#16293f"/><rect x="20" y="303.0" width="35" height="15.23" fill="#0000e6"/><rect x="20" y="317.93" width="35" height="15.23" fill="#2244ea"/><rect x="20" y="332.86" width="35" height="15.23" fill="#4a34e2"/><rect x="20" y="347.79" width="35" height="15.23" fill="#2240c4"/><rect x="20" y="362.72" width="35" height="15.23" fill="#3a32ba"/><rect x="20" y="377.65" width="35" height="15.24" fill="#1e0a52"/><rect x="20" y="392.59" width="35" height="15.23" fill="#2e1c58"/><rect x="20" y="407.52" width="35" height="15.23" fill="#2e0a50"/><rect x="20" y="422.45" width="35" height="15.23" fill="#4a1052"/><rect x="20" y="437.38" width="35" height="15.23" fill="#5c1a52"/><rect x="20" y="452.31" width="35" height="15.23" fill="#640052"/><rect x="20" y="467.24" width="35" height="15.23" fill="#4a14b8"/><rect x="20" y="482.17" width="35" height="15.23" fill="#6432b8"/><rect x="20" y="497.1" width="35" height="15.23" fill="#6c12b0"/><rect x="20" y="512.03" width="35" height="15.23" fill="#9018c0"/><rect x="20" y="526.96" width="35" height="15.23" fill="#c01408"/><rect x="20" y="541.89" width="35" height="15.24" fill="#b82020"/><rect x="20" y="556.83" width="35" height="15.23" fill="#b02a22"/><rect x="20" y="571.76" width="35" height="15.23" fill="#b83810"/><rect x="20" y="586.69" width="35" height="15.23" fill="#b05800"/><rect x="20" y="601.62" width="35" height="15.23" fill="#ff5500"/><rect x="20" y="616.55" width="35" height="15.23" fill="#ff6040"/><rect x="20" y="631.48" width="35" height="15.23" fill="#e86040"/><rect x="20" y="646.41" width="35" height="15.23" fill="#e87050"/><rect x="20" y="661.34" width="35" height="15.23" fill="#ff8050"/><rect x="20" y="676.27" width="35" height="15.23" fill="#e8005a"/><rect x="20" y="691.2" width="35" height="15.23" fill="#e04080"/><rect x="20" y="706.13" width="35" height="15.24" fill="#e04870"/><rect x="20" y="721.07" width="35" height="15.23" fill="#e03070"/><rect x="20" y="736.0" width="35" height="15.23" fill="#e03a70"/><rect x="20" y="750.93" width="35" height="15.23" fill="#ff3088"/><rect x="20" y="765.86" width="35" height="15.23" fill="#e07878"/><rect x="20" y="780.79" width="35" height="15.23" fill="#e07890"/><rect x="20" y="795.72" width="35" height="15.23" fill="#ff9098"/><rect x="20" y="810.65" width="35" height="15.23" fill="#ff8890"/><rect x="20" y="825.58" width="35" height="15.23" fill="#00e040"/><rect x="20" y="840.51" width="35" height="15.23" fill="#20d860"/><rect x="20" y="855.44" width="35" height="15.23" fill="#60e060"/><rect x="20" y="870.37" width="35" height="15.24" fill="#90e090"/><rect x="20" y="885.31" width="35" height="15.23" fill="#a0f090"/><rect x="20" y="900.24" width="35" height="15.23" fill="#00e8f8"/><rect x="20" y="915.17" width="35" height="15.23" fill="#00d0e0"/><rect x="20" y="930.1" width="35" height="15.23" fill="#60d8e0"/><rect x="20" y="945.03" width="35" height="15.23" fill="#50c8d8"/><rect x="20" y="959.96" width="35" height="15.23" fill="#b0d0f8"/><rect x="20" y="974.89" width="35" height="15.23" fill="#d020f0"/><rect x="20" y="989.82" width="35" height="15.23" fill="#d840d0"/><rect x="20" y="1004.75" width="35" height="15.23" fill="#ff40f0"/><rect x="20" y="1019.68" width="35" height="15.23" fill="#d878e0"/><rect x="20" y="1034.61" width="35" height="15.24" fill="#ff78f8"/><rect x="20" y="1049.55" width="35" height="15.23" fill="#e0a050"/><rect x="20" y="1064.48" width="35" height="15.23" fill="#ffb060"/><rect x="20" y="1079.41" width="35" height="15.23" fill="#e8c080"/><rect x="20" y="1094.34" width="35" height="15.23" fill="#ffd890"/><rect x="20" y="1109.27" width="35" height="15.23" fill="#e8e0b0"/><rect x="136" y="11" width="5" height="1147.5" fill="#17232f"/><rect x="141" y="11" width="179" height="1147.5" fill="#374552"/><rect x="322" y="11" width="6" height="1147.5" fill="#17232f"/><rect x="328" y="11" width="177" height="1147.5" fill="#374552"/><rect x="510" y="11" width="6" height="1147.5" fill="#17232f"/><rect x="516" y="11" width="179" height="1147.5" fill="#374552"/><rect x="697" y="11" width="5" height="1147.5" fill="#17232f"/><rect x="702" y="11" width="181" height="1147.5" fill="#374552"/><rect x="885" y="11" width="4" height="1147.5" fill="#17232f"/><rect x="889" y="11" width="181" height="1147.5" fill="#374552"/><rect x="1073" y="11" width="2" height="1147.5" fill="#17232f"/><rect x="1075" y="11" width="183" height="1147.5" fill="#374552"/><g clip-path="url(#call)"><g filter="url(#px)"><g clip-path="url(#c0)"><use href="#tex" x="141"/><path fill="#d040c8" d="M140.7,994.1 151.2,987.5 163.6,959.2 161.3,946.9 150.8,953.5 138.4,981.8z"/><path fill="#d06030" d="M143.6,1021.0 153.3,1013.7 175.4,986.1 180.4,975.0 170.7,982.3 148.6,1009.9z"/><path fill="#b01808" d="M170.5,1005.5 179.3,1005.1 193.1,991.3 193.5,982.5 184.7,982.9 170.9,996.7z"/><path fill="#c01850" d="M158.8,1019.0 164.8,1010.7 175.8,983.1 177.2,973.0 171.2,981.3 160.2,1008.9z"/><path fill="#2838c0" d="M168.9,1021.6 177.4,1019.5 196.8,1005.1 201.1,997.4 192.6,999.5 173.2,1013.9z"/><path fill="#c03080" d="M179.6,1037.2 190.3,1034.2 212.4,1014.2 216.4,1003.8 205.7,1006.8 183.6,1026.8z"/><path fill="#c080c0" d="M146.5,1047.6 154.0,1045.5 167.8,1031.0 169.5,1023.4 162.0,1025.5 148.2,1040.0z"/><path fill="#300a50" d="M166.1,1041.5 178.8,1038.8 214.7,1025.0 225.9,1018.5 213.2,1021.2 177.3,1035.0z"/><path fill="#c85030" d="M196.4,1069.5 207.1,1064.6 230.6,1041.1 235.6,1030.5 224.9,1035.4 201.4,1058.9z"/><path fill="#30b040" d="M216.9,1072.2 223.8,1067.0 233.5,1046.3 233.1,1037.8 226.2,1043.0 216.5,1063.7z"/><path fill="#c0c0d0" d="M178.6,1071.6 184.1,1067.8 197.2,1053.3 200.4,1047.4 194.9,1051.2 181.8,1065.7z"/><rect x="303" y="11" width="17" height="1147.5" fill="url(#spR)" opacity="0.6"/><rect x="141" y="11" width="9" height="1147.5" fill="url(#spL)" opacity="0.45"/></g><g clip-path="url(#c1)"><use href="#tex" x="328"/><path fill="#c03868" d="M326.6,752.2 336.9,749.1 350.0,728.4 348.4,717.8 338.1,720.9 325.0,741.6z"/><path fill="#c85028" d="M332.4,780.8 346.2,777.8 370.4,752.2 372.6,738.2 358.8,741.2 334.6,766.8z"/><path fill="#60c050" d="M327.0,769.4 333.3,767.6 342.2,755.1 342.0,748.6 335.7,750.4 326.8,762.9z"/><path fill="#30b050" d="M328.2,813.8 335.8,810.4 352.4,793.8 355.8,786.2 348.2,789.6 331.6,806.2z"/><path fill="#c030d0" d="M327.6,836.9 338.8,831.3 360.9,805.1 364.4,793.1 353.2,798.7 331.1,824.9z"/><path fill="#a0b8e0" d="M333.9,851.4 348.9,844.1 386.2,813.0 396.1,799.6 381.1,806.9 343.8,838.0z"/><path fill="#4030b0" d="M342.0,853.0 353.7,846.3 381.3,818.7 388.0,807.0 376.3,813.7 348.7,841.3z"/><path fill="#d06080" d="M369.4,833.8 379.0,830.7 402.5,814.2 408.6,806.2 399.0,809.3 375.5,825.8z"/><path fill="#c01850" d="M388.4,841.9 396.0,838.4 411.2,821.2 413.6,813.1 406.0,816.6 390.8,833.8z"/><path fill="#c05010" d="M387.1,812.9 391.6,811.9 399.9,803.6 400.9,799.1 396.4,800.1 388.1,808.4z"/><path fill="#a02060" d="M357.4,801.9 367.7,799.4 391.9,782.1 397.6,773.1 387.3,775.6 363.1,792.9z"/><rect x="488" y="11" width="17" height="1147.5" fill="url(#spR)" opacity="0.6"/><rect x="328" y="11" width="9" height="1147.5" fill="url(#spL)" opacity="0.45"/></g><g clip-path="url(#c2)"><use href="#tex" x="516"/><rect x="678" y="11" width="17" height="1147.5" fill="url(#spR)" opacity="0.6"/><rect x="516" y="11" width="9" height="1147.5" fill="url(#spL)" opacity="0.45"/></g><g clip-path="url(#c3)"><use href="#tex" x="702"/><rect x="866" y="11" width="17" height="1147.5" fill="url(#spR)" opacity="0.6"/><rect x="702" y="11" width="9" height="1147.5" fill="url(#spL)" opacity="0.45"/></g><g clip-path="url(#c4)"><use href="#tex" x="889"/><rect x="1053" y="11" width="17" height="1147.5" fill="url(#spR)" opacity="0.6"/><rect x="889" y="11" width="9" height="1147.5" fill="url(#spL)" opacity="0.45"/></g><g clip-path="url(#c5)"><use href="#tex" x="1075"/><rect x="1241" y="120" width="17" height="1038.5" fill="url(#spR)" opacity="0.6"/><rect x="1075" y="11" width="9" height="1147.5" fill="url(#spL)" opacity="0.45"/></g></g></g><rect x="136" y="11" width="184" height="1.2" fill="#30363f" opacity="0.8"/><rect x="322" y="11" width="183" height="1.2" fill="#30363f" opacity="0.8"/><rect x="510" y="11" width="185" height="1.2" fill="#30363f" opacity="0.8"/><rect x="697" y="11" width="186" height="1.2" fill="#30363f" opacity="0.8"/><rect x="885" y="11" width="185" height="1.2" fill="#30363f" opacity="0.8"/><rect x="1073" y="11" width="185" height="1.2" fill="#30363f" opacity="0.8"/><text transform="translate(53,250.5) rotate(-90)" font-family="Liberation Serif" font-size="36.5" textLength="219.5" lengthAdjust="spacingAndGlyphs" fill="#e8eef2">Mis-Orientation</text><text transform="translate(95.5,250.5) rotate(-90)" font-family="Liberation Serif" font-size="34.5" textLength="115" lengthAdjust="spacingAndGlyphs" fill="#e8eef2">[degree]</text></svg><div class="tick" style="left:89.5px;top:296.0px">54</div><div class="tick" style="left:89.5px;top:355.4px">50</div><div class="tick" style="left:89.5px;top:429.7px">45</div><div class="tick" style="left:89.5px;top:504.0px">40</div><div class="tick" style="left:89.5px;top:578.3px">35</div><div class="tick" style="left:89.5px;top:652.6px">30</div><div class="tick" style="left:89.5px;top:726.9px">25</div><div class="tick" style="left:89.5px;top:801.1px">20</div><div class="tick" style="left:89.5px;top:875.4px">15</div><div class="tick" style="left:89.5px;top:949.7px">10</div><div class="tick" style="left:89.5px;top:1024.0px">5</div><div class="tick" style="left:89.5px;top:1098.3px">0</div><div class="lbl" style="left:183.6px;top:1174px">400s</div><div class="lbl" style="left:374.8px;top:1174px">800s</div><div class="lbl" style="left:543.7px;top:1174px">1200s</div><div class="lbl" style="left:728.7px;top:1174px">1600s</div><div class="lbl" style="left:921.4px;top:1174px">2000s</div><div class="lbl" style="left:1104.6px;top:1174px">2300s</div></body></html>
